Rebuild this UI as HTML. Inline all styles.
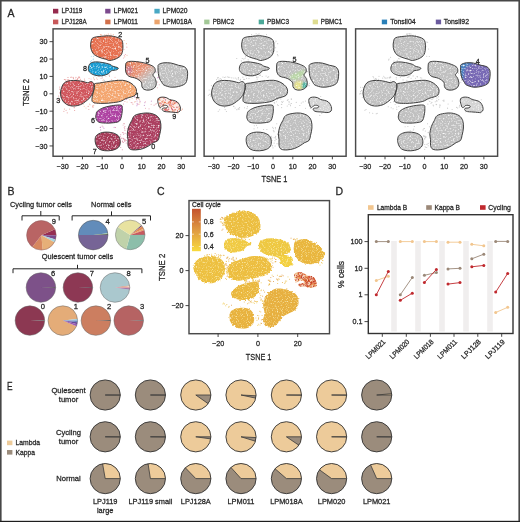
<!DOCTYPE html>
<html><head><meta charset="utf-8"><style>
html,body{margin:0;padding:0;background:#fff;}
svg{display:block;will-change:transform;}
</style></head><body>
<svg width="520" height="522" viewBox="0 0 520 522">
<defs><filter id="fz" x="-5%" y="-5%" width="110%" height="110%"><feGaussianBlur stdDeviation="0.5"/></filter><filter id="spk" x="0" y="0" width="100%" height="100%" color-interpolation-filters="sRGB"><feTurbulence type="fractalNoise" baseFrequency="0.6" numOctaves="2" seed="7" result="n"/><feColorMatrix in="n" type="matrix" values="0 0 0 0 1  0 0 0 0 1  0 0 0 0 1  2.6 0 0 0 -1.3" result="w"/><feComposite in="w" in2="SourceGraphic" operator="in" result="wm"/><feMerge><feMergeNode in="SourceGraphic"/><feMergeNode in="wm"/></feMerge></filter><filter id="cfx" x="-5%" y="-5%" width="110%" height="110%" color-interpolation-filters="sRGB"><feTurbulence type="fractalNoise" baseFrequency="0.5" numOctaves="2" seed="3" result="t"/><feDisplacementMap in="SourceGraphic" in2="t" scale="3" xChannelSelector="R" yChannelSelector="G" result="d"/><feTurbulence type="fractalNoise" baseFrequency="0.8" numOctaves="1" seed="9" result="n"/><feColorMatrix in="n" type="matrix" values="0 0 0 0 1  0 0 0 0 0.97  0 0 0 0 0.8  3 0 0 0 -1.6" result="w"/><feComposite in="w" in2="d" operator="in" result="wm"/><feMerge><feMergeNode in="d"/><feMergeNode in="wm"/></feMerge></filter><filter id="bl1" x="-50%" y="-50%" width="200%" height="200%"><feGaussianBlur stdDeviation="1"/></filter>
<clipPath id="c5a"><path d="M126.6,62.4C127.62,61.62 129.15,61.3 131.7,61.3C134.25,61.3 138.98,61.87 141.9,62.4C144.82,62.93 147.12,63.65 149.2,64.5C151.28,65.35 153.42,66.27 154.4,67.5C155.38,68.73 155.35,70.68 155.1,71.9C154.85,73.12 152.9,73.72 152.9,74.8C152.9,75.88 154.53,76.93 155.1,78.4C155.67,79.87 156.42,82.02 156.3,83.6C156.18,85.18 155.58,86.82 154.4,87.9C153.22,88.98 150.92,89.85 149.2,90.1C147.48,90.35 145.32,90 144.1,89.4C142.88,88.8 142.38,87.72 141.9,86.5C141.42,85.28 142.17,83.45 141.2,82.1C140.23,80.75 138.17,79.38 136.1,78.4C134.03,77.42 130.52,77.28 128.8,76.2C127.08,75.12 126.33,73.6 125.8,71.9C125.27,70.2 125.47,67.58 125.6,66C125.73,64.42 125.58,63.18 126.6,62.4Z"/></clipPath>
<linearGradient id="g5a" gradientUnits="userSpaceOnUse" x1="131" y1="63" x2="149" y2="84"><stop offset="0" stop-color="#e4835f"/><stop offset="0.45" stop-color="#e8957a"/><stop offset="0.8" stop-color="#d8b4a8" stop-opacity="0.3"/><stop offset="1" stop-color="#c6c6c6" stop-opacity="0"/></linearGradient>
<clipPath id="c9a"><path d="M158,98.9C158.33,98.18 158.93,97.8 159.8,97.5C160.67,97.2 162.05,97.05 163.2,97.1C164.35,97.15 165.63,97.4 166.7,97.8C167.77,98.2 168.45,99.07 169.6,99.5C170.75,99.93 172.35,100.02 173.6,100.4C174.85,100.78 176.13,101.08 177.1,101.8C178.07,102.52 178.83,103.63 179.4,104.7C179.97,105.77 180.4,107.15 180.5,108.2C180.6,109.25 180.57,110.28 180,111C179.43,111.72 178.27,112.3 177.1,112.5C175.93,112.7 174.35,112.3 173,112.2C171.65,112.1 170.33,112 169,111.9C167.67,111.8 166.05,111.83 165,111.6C163.95,111.37 163.18,110.95 162.7,110.5C162.22,110.05 161.98,109.3 162.1,108.9C162.22,108.5 162.83,108.25 163.4,108.1C163.97,107.95 164.83,108.13 165.5,108C166.17,107.87 167.07,107.63 167.4,107.3C167.73,106.97 167.82,106.33 167.5,106C167.18,105.67 166.22,105.4 165.5,105.3C164.78,105.2 163.82,105.18 163.2,105.4C162.58,105.62 162.23,106.23 161.8,106.6C161.37,106.97 161,107.52 160.6,107.6C160.2,107.68 159.73,107.58 159.4,107.1C159.07,106.62 158.87,105.58 158.6,104.7C158.33,103.82 157.9,102.77 157.8,101.8C157.7,100.83 157.67,99.62 158,98.9Z"/></clipPath>
<clipPath id="c5b"><path d="M277.65,62.4C278.67,61.62 280.2,61.3 282.75,61.3C285.3,61.3 290.03,61.87 292.95,62.4C295.87,62.93 298.17,63.65 300.25,64.5C302.33,65.35 304.47,66.27 305.45,67.5C306.43,68.73 306.4,70.68 306.15,71.9C305.9,73.12 303.95,73.72 303.95,74.8C303.95,75.88 305.58,76.93 306.15,78.4C306.72,79.87 307.47,82.02 307.35,83.6C307.23,85.18 306.63,86.82 305.45,87.9C304.27,88.98 301.97,89.85 300.25,90.1C298.53,90.35 296.37,90 295.15,89.4C293.93,88.8 293.43,87.72 292.95,86.5C292.47,85.28 293.22,83.45 292.25,82.1C291.28,80.75 289.22,79.38 287.15,78.4C285.08,77.42 281.57,77.28 279.85,76.2C278.13,75.12 277.38,73.6 276.85,71.9C276.32,70.2 276.52,67.58 276.65,66C276.78,64.42 276.63,63.18 277.65,62.4Z"/></clipPath>
<clipPath id="c4c"><path d="M461.25,64.5C462.23,63.72 464.37,63.03 466.45,62.8C468.53,62.57 471.32,62.68 473.75,63.1C476.18,63.52 478.87,64.7 481.05,65.3C483.23,65.9 485.38,65.85 486.85,66.7C488.32,67.55 489.32,68.82 489.85,70.4C490.38,71.98 490.18,74.37 490.05,76.2C489.92,78.03 489.58,80.05 489.05,81.4C488.52,82.75 488.18,83.45 486.85,84.3C485.52,85.15 483.23,86.02 481.05,86.5C478.87,86.98 476.18,87.45 473.75,87.2C471.32,86.95 468.03,85.85 466.45,85C464.87,84.15 464.98,83.2 464.25,82.1C463.52,81 462.62,79.87 462.05,78.4C461.48,76.93 461.1,75.12 460.85,73.3C460.6,71.48 460.48,68.97 460.55,67.5C460.62,66.03 460.27,65.28 461.25,64.5Z"/></clipPath>
<clipPath id="c5c"><path d="M260.4,241C262.22,239.4 266.5,238.43 269.9,238.2C273.3,237.97 277.62,238.68 280.8,239.6C283.98,240.52 287.4,241.65 289,243.7C290.6,245.75 291.08,250.08 290.4,251.9C289.72,253.72 284.67,253.7 284.9,254.6C285.13,255.5 290.57,255.7 291.8,257.3C293.03,258.9 292.98,262.6 292.3,264.2C291.62,265.8 289.38,266.68 287.7,266.9C286.02,267.12 283.57,266.87 282.2,265.5C280.83,264.13 281.08,260.28 279.5,258.7C277.92,257.12 275.43,256.92 272.7,256C269.97,255.08 265.38,254.57 263.1,253.2C260.82,251.83 259.45,249.83 259,247.8C258.55,245.77 258.58,242.6 260.4,241Z"/></clipPath>
<clipPath id="c9c"><path d="M294.3,274.1C294.63,273.38 295.23,273 296.1,272.7C296.97,272.4 298.35,272.25 299.5,272.3C300.65,272.35 301.93,272.6 303,273C304.07,273.4 304.75,274.27 305.9,274.7C307.05,275.13 308.65,275.22 309.9,275.6C311.15,275.98 312.43,276.28 313.4,277C314.37,277.72 315.13,278.83 315.7,279.9C316.27,280.97 316.7,282.35 316.8,283.4C316.9,284.45 316.87,285.48 316.3,286.2C315.73,286.92 314.57,287.5 313.4,287.7C312.23,287.9 310.65,287.5 309.3,287.4C307.95,287.3 306.63,287.2 305.3,287.1C303.97,287 302.35,287.03 301.3,286.8C300.25,286.57 299.48,286.15 299,285.7C298.52,285.25 298.28,284.5 298.4,284.1C298.52,283.7 299.13,283.45 299.7,283.3C300.27,283.15 301.13,283.33 301.8,283.2C302.47,283.07 303.37,282.83 303.7,282.5C304.03,282.17 304.12,281.53 303.8,281.2C303.48,280.87 302.52,280.6 301.8,280.5C301.08,280.4 300.12,280.38 299.5,280.6C298.88,280.82 298.53,281.43 298.1,281.8C297.67,282.17 297.3,282.72 296.9,282.8C296.5,282.88 296.03,282.78 295.7,282.3C295.37,281.82 295.17,280.78 294.9,279.9C294.63,279.02 294.2,277.97 294.1,277C294,276.03 293.97,274.82 294.3,274.1Z"/></clipPath>
<linearGradient id="cb" x1="0" y1="0" x2="0" y2="1"><stop offset="0" stop-color="#c4532e"/><stop offset="0.5" stop-color="#df9a43"/><stop offset="1" stop-color="#f8da3c"/></linearGradient>
</defs>
<rect x="0" y="0" width="520" height="522" fill="#fff"/>
<text x="7.5" y="16.5" font-size="10.5" font-family="Liberation Sans, sans-serif" fill="#262626" stroke="#262626" stroke-width="0.26">A</text>
<rect x="53" y="8.8" width="5.3" height="4.7" fill="#962a4e"/>
<text x="61.5" y="13.15" font-size="7" textLength="20.8" lengthAdjust="spacingAndGlyphs" font-family="Liberation Sans, sans-serif" fill="#262626" stroke="#262626" stroke-width="0.26">LPJ119</text>
<rect x="53" y="19.6" width="5.3" height="4.7" fill="#c8585a"/>
<text x="61.5" y="23.95" font-size="7" textLength="25.1" lengthAdjust="spacingAndGlyphs" font-family="Liberation Sans, sans-serif" fill="#262626" stroke="#262626" stroke-width="0.26">LPJ128A</text>
<rect x="105.2" y="8.8" width="5.3" height="4.7" fill="#7c4a8e"/>
<text x="113.8" y="13.15" font-size="7" textLength="24.2" lengthAdjust="spacingAndGlyphs" font-family="Liberation Sans, sans-serif" fill="#262626" stroke="#262626" stroke-width="0.26">LPM021</text>
<rect x="105.2" y="19.6" width="5.3" height="4.7" fill="#d2704a"/>
<text x="113.8" y="23.95" font-size="7" textLength="24.2" lengthAdjust="spacingAndGlyphs" font-family="Liberation Sans, sans-serif" fill="#262626" stroke="#262626" stroke-width="0.26">LPM011</text>
<rect x="154.4" y="8.8" width="5.3" height="4.7" fill="#48a8c4"/>
<text x="162.5" y="13.15" font-size="7" textLength="25" lengthAdjust="spacingAndGlyphs" font-family="Liberation Sans, sans-serif" fill="#262626" stroke="#262626" stroke-width="0.26">LPM020</text>
<rect x="154.4" y="19.6" width="5.3" height="4.7" fill="#eca46c"/>
<text x="162.5" y="23.95" font-size="7" textLength="29.5" lengthAdjust="spacingAndGlyphs" font-family="Liberation Sans, sans-serif" fill="#262626" stroke="#262626" stroke-width="0.26">LPM018A</text>
<rect x="204.2" y="19.6" width="5.3" height="4.7" fill="#a2c896"/>
<text x="212.7" y="23.95" font-size="7" textLength="21.5" lengthAdjust="spacingAndGlyphs" font-family="Liberation Sans, sans-serif" fill="#262626" stroke="#262626" stroke-width="0.26">PBMC2</text>
<rect x="258.7" y="19.6" width="5.3" height="4.7" fill="#4aa898"/>
<text x="267" y="23.95" font-size="7" textLength="22" lengthAdjust="spacingAndGlyphs" font-family="Liberation Sans, sans-serif" fill="#262626" stroke="#262626" stroke-width="0.26">PBMC3</text>
<rect x="312.7" y="19.6" width="5.3" height="4.7" fill="#dedc90"/>
<text x="320.8" y="23.95" font-size="7" textLength="21.5" lengthAdjust="spacingAndGlyphs" font-family="Liberation Sans, sans-serif" fill="#262626" stroke="#262626" stroke-width="0.26">PBMC1</text>
<rect x="381.8" y="19.6" width="5.3" height="4.7" fill="#2a80b8"/>
<text x="390.2" y="23.95" font-size="7" textLength="25.4" lengthAdjust="spacingAndGlyphs" font-family="Liberation Sans, sans-serif" fill="#262626" stroke="#262626" stroke-width="0.26">Tonsil04</text>
<rect x="435.8" y="19.6" width="5.3" height="4.7" fill="#6a5a9e"/>
<text x="443.8" y="23.95" font-size="7" textLength="25.2" lengthAdjust="spacingAndGlyphs" font-family="Liberation Sans, sans-serif" fill="#262626" stroke="#262626" stroke-width="0.26">Tonsil92</text>
<g opacity="0.75">
<circle cx="67.99" cy="79.66" r="0.55" fill="#d96a6a"/>
<circle cx="65.64" cy="79.83" r="0.55" fill="#e07f7f"/>
<circle cx="82" cy="80.97" r="0.55" fill="#f0a0a0"/>
<circle cx="73.44" cy="78.15" r="0.55" fill="#d96a6a"/>
<circle cx="76.61" cy="79.85" r="0.55" fill="#f0a0a0"/>
<circle cx="70.83" cy="77.27" r="0.55" fill="#d96a6a"/>
<circle cx="89.04" cy="78.47" r="0.55" fill="#f0a0a0"/>
<circle cx="71.51" cy="77.08" r="0.55" fill="#f0a0a0"/>
<circle cx="80.44" cy="79.22" r="0.55" fill="#e07f7f"/>
<circle cx="67.99" cy="77.45" r="0.55" fill="#d96a6a"/>
<circle cx="66.04" cy="80.01" r="0.55" fill="#f0a0a0"/>
<circle cx="78.78" cy="80.62" r="0.55" fill="#e07f7f"/>
<circle cx="73.05" cy="77.27" r="0.55" fill="#d96a6a"/>
<circle cx="69.34" cy="80.23" r="0.55" fill="#e07f7f"/>
<circle cx="75.94" cy="77.37" r="0.55" fill="#e07f7f"/>
<circle cx="75.59" cy="78.96" r="0.55" fill="#f0a0a0"/>
<circle cx="78.91" cy="77.11" r="0.55" fill="#d96a6a"/>
<circle cx="67.64" cy="80.92" r="0.55" fill="#f0a0a0"/>
<circle cx="84.41" cy="79" r="0.55" fill="#e07f7f"/>
<circle cx="64.38" cy="79.56" r="0.55" fill="#d96a6a"/>
<circle cx="68.77" cy="80.09" r="0.55" fill="#e07f7f"/>
<circle cx="79.3" cy="77.47" r="0.55" fill="#e07f7f"/>
<circle cx="77.35" cy="79.34" r="0.55" fill="#d96a6a"/>
<circle cx="78.24" cy="77.97" r="0.55" fill="#e07f7f"/>
<circle cx="77.61" cy="78.7" r="0.55" fill="#d96a6a"/>
<circle cx="79.72" cy="77.79" r="0.55" fill="#f0a0a0"/>
<circle cx="81.77" cy="80.98" r="0.55" fill="#f0a0a0"/>
<circle cx="79.11" cy="77.07" r="0.55" fill="#d96a6a"/>
<circle cx="84.75" cy="80.3" r="0.55" fill="#e07f7f"/>
<circle cx="91.02" cy="79.01" r="0.55" fill="#f0a0a0"/>
<circle cx="58.22" cy="99.98" r="0.55" fill="#e07f7f"/>
<circle cx="59.96" cy="100.29" r="0.55" fill="#e07f7f"/>
<circle cx="59.92" cy="92.9" r="0.55" fill="#d96a6a"/>
<circle cx="58.89" cy="99.9" r="0.55" fill="#d96a6a"/>
<circle cx="59.75" cy="87.1" r="0.55" fill="#e07f7f"/>
<circle cx="60.61" cy="95.69" r="0.55" fill="#e07f7f"/>
<circle cx="60.51" cy="92.53" r="0.55" fill="#d96a6a"/>
<circle cx="60.34" cy="96.94" r="0.55" fill="#e07f7f"/>
<circle cx="59.71" cy="89.14" r="0.55" fill="#e07f7f"/>
<circle cx="58.55" cy="95.99" r="0.55" fill="#e07f7f"/>
<circle cx="89.51" cy="104.03" r="0.55" fill="#f0b090"/>
<circle cx="93.3" cy="105.19" r="0.55" fill="#e8a0a0"/>
<circle cx="94.59" cy="103.38" r="0.55" fill="#e8a0a0"/>
<circle cx="92.53" cy="106.48" r="0.55" fill="#f0b090"/>
<circle cx="93.8" cy="105.43" r="0.55" fill="#f0b090"/>
<circle cx="85.97" cy="108.04" r="0.55" fill="#f0b090"/>
<circle cx="84.24" cy="106.2" r="0.55" fill="#f0b090"/>
<circle cx="92.82" cy="105.75" r="0.55" fill="#e8a0a0"/>
<circle cx="83.12" cy="104.32" r="0.55" fill="#f0b090"/>
<circle cx="93.29" cy="107.04" r="0.55" fill="#e07f7f"/>
<circle cx="89.99" cy="104.69" r="0.55" fill="#e8a0a0"/>
<circle cx="88.15" cy="106.41" r="0.55" fill="#e07f7f"/>
<circle cx="88.84" cy="109.57" r="0.55" fill="#e07f7f"/>
<circle cx="92.49" cy="107.02" r="0.55" fill="#e8a0a0"/>
<circle cx="140.04" cy="101.41" r="0.55" fill="#c070c0"/>
<circle cx="123.88" cy="98.91" r="0.55" fill="#f0b080"/>
<circle cx="139.08" cy="99.31" r="0.55" fill="#d080a0"/>
<circle cx="139.91" cy="102.64" r="0.55" fill="#f0b080"/>
<circle cx="137.09" cy="103.37" r="0.55" fill="#c070c0"/>
<circle cx="134.74" cy="101.99" r="0.55" fill="#e89090"/>
<circle cx="131.23" cy="96.33" r="0.55" fill="#c070c0"/>
<circle cx="134.57" cy="96.47" r="0.55" fill="#e89090"/>
<circle cx="137.92" cy="104.1" r="0.55" fill="#d080a0"/>
<circle cx="136.45" cy="99.19" r="0.55" fill="#d080a0"/>
<circle cx="136.95" cy="98.57" r="0.55" fill="#f0b080"/>
<circle cx="131.19" cy="102.46" r="0.55" fill="#d080a0"/>
<circle cx="139" cy="104.32" r="0.55" fill="#e89090"/>
<circle cx="138.21" cy="98.49" r="0.55" fill="#f0b080"/>
<circle cx="139.63" cy="99.99" r="0.55" fill="#f0b080"/>
<circle cx="123.48" cy="104.01" r="0.55" fill="#d080a0"/>
<circle cx="124.88" cy="101.5" r="0.55" fill="#e89090"/>
<circle cx="126.42" cy="99.53" r="0.55" fill="#c070c0"/>
<circle cx="135.24" cy="101.47" r="0.55" fill="#f0b080"/>
<circle cx="131.96" cy="102.64" r="0.55" fill="#e89090"/>
<circle cx="136.86" cy="105.68" r="0.55" fill="#c070c0"/>
<circle cx="132.14" cy="98.49" r="0.55" fill="#f0b080"/>
<circle cx="127.09" cy="102.03" r="0.55" fill="#f0b080"/>
<circle cx="129.75" cy="99.69" r="0.55" fill="#f0b080"/>
<circle cx="134.88" cy="97.08" r="0.55" fill="#c070c0"/>
<circle cx="136.53" cy="99.46" r="0.55" fill="#e89090"/>
<circle cx="132.91" cy="104.13" r="0.55" fill="#e89090"/>
<circle cx="136.79" cy="97.28" r="0.55" fill="#d080a0"/>
<circle cx="137" cy="101.02" r="0.55" fill="#c070c0"/>
<circle cx="137.21" cy="104.68" r="0.55" fill="#c070c0"/>
<circle cx="109.52" cy="76.38" r="0.55" fill="#f0b090"/>
<circle cx="96.58" cy="78.06" r="0.55" fill="#f0b090"/>
<circle cx="101.08" cy="78.24" r="0.55" fill="#f0a0a0"/>
<circle cx="102.94" cy="80.3" r="0.55" fill="#f0b090"/>
<circle cx="102.09" cy="75.81" r="0.55" fill="#90c8e8"/>
<circle cx="98.34" cy="76.18" r="0.55" fill="#f0b090"/>
<circle cx="111.65" cy="79.53" r="0.55" fill="#f0a0a0"/>
<circle cx="105.93" cy="76.46" r="0.55" fill="#f0a0a0"/>
<circle cx="109.32" cy="75.15" r="0.55" fill="#f0a0a0"/>
<circle cx="93.76" cy="78.79" r="0.55" fill="#f0b090"/>
<circle cx="99.19" cy="76.6" r="0.55" fill="#f0a0a0"/>
<circle cx="102.32" cy="76.77" r="0.55" fill="#90c8e8"/>
<circle cx="104.52" cy="80.53" r="0.55" fill="#90c8e8"/>
<circle cx="102.22" cy="77.88" r="0.55" fill="#f0a0a0"/>
<circle cx="103.77" cy="79.75" r="0.55" fill="#f0b090"/>
<circle cx="115.02" cy="77.3" r="0.55" fill="#f0a0a0"/>
<circle cx="94.53" cy="79.66" r="0.55" fill="#f0a0a0"/>
<circle cx="117.36" cy="79.51" r="0.55" fill="#f0b090"/>
<circle cx="97.32" cy="79.3" r="0.55" fill="#f0a0a0"/>
<circle cx="94.92" cy="75.97" r="0.55" fill="#90c8e8"/>
<circle cx="93.48" cy="77.25" r="0.55" fill="#f0b090"/>
<circle cx="109.22" cy="75.21" r="0.55" fill="#90c8e8"/>
<circle cx="90.42" cy="61.64" r="0.55" fill="#80c8e8"/>
<circle cx="93.41" cy="56.33" r="0.55" fill="#80c8e8"/>
<circle cx="97.17" cy="61.77" r="0.55" fill="#80c8e8"/>
<circle cx="102.25" cy="58.69" r="0.55" fill="#a0d8f0"/>
<circle cx="94.37" cy="61.54" r="0.55" fill="#80c8e8"/>
<circle cx="93.33" cy="59.7" r="0.55" fill="#a0d8f0"/>
<circle cx="91.45" cy="60.63" r="0.55" fill="#a0d8f0"/>
<circle cx="93.32" cy="59.04" r="0.55" fill="#80c8e8"/>
<circle cx="93.31" cy="59.24" r="0.55" fill="#a0d8f0"/>
<circle cx="91.29" cy="56.35" r="0.55" fill="#a0d8f0"/>
<circle cx="111.42" cy="35.87" r="0.55" fill="#e88060"/>
<circle cx="113.29" cy="34.65" r="0.55" fill="#f0a080"/>
<circle cx="108.26" cy="34.01" r="0.55" fill="#e88060"/>
<circle cx="110.93" cy="34.02" r="0.55" fill="#f0a080"/>
<circle cx="100.73" cy="34.8" r="0.55" fill="#e88060"/>
<circle cx="106.13" cy="35.86" r="0.55" fill="#f0a080"/>
<circle cx="106.99" cy="35.53" r="0.55" fill="#e88060"/>
<circle cx="104.78" cy="34.7" r="0.55" fill="#f0a080"/>
<circle cx="101.78" cy="34.98" r="0.55" fill="#f0a080"/>
<circle cx="106.37" cy="34.93" r="0.55" fill="#e88060"/>
<circle cx="100.34" cy="34.59" r="0.55" fill="#f0a080"/>
<circle cx="101.36" cy="35.07" r="0.55" fill="#f0a080"/>
<circle cx="126.84" cy="47.15" r="0.55" fill="#e890a0"/>
<circle cx="124.75" cy="56.83" r="0.55" fill="#f0a080"/>
<circle cx="123.48" cy="58.02" r="0.55" fill="#e890a0"/>
<circle cx="124.02" cy="49.48" r="0.55" fill="#e890a0"/>
<circle cx="122.87" cy="43.51" r="0.55" fill="#f0a080"/>
<circle cx="124.12" cy="40.56" r="0.55" fill="#f0a080"/>
<circle cx="125.49" cy="54.48" r="0.55" fill="#e890a0"/>
<circle cx="124.22" cy="55.36" r="0.55" fill="#e890a0"/>
<circle cx="127.03" cy="55.24" r="0.55" fill="#f0a080"/>
<circle cx="126.42" cy="43.67" r="0.55" fill="#f0a080"/>
<circle cx="156.15" cy="71.95" r="0.55" fill="#c070c0"/>
<circle cx="155.63" cy="84.07" r="0.55" fill="#c070c0"/>
<circle cx="154.29" cy="78.01" r="0.55" fill="#c070c0"/>
<circle cx="154.28" cy="78.46" r="0.55" fill="#c070c0"/>
<circle cx="157.28" cy="87.7" r="0.55" fill="#e090a0"/>
<circle cx="158.38" cy="77.1" r="0.55" fill="#e090a0"/>
<circle cx="158.02" cy="77.48" r="0.55" fill="#c070c0"/>
<circle cx="157.84" cy="77.86" r="0.55" fill="#c070c0"/>
<circle cx="157.6" cy="81.98" r="0.55" fill="#e090a0"/>
<circle cx="159.24" cy="84.7" r="0.55" fill="#e090a0"/>
<circle cx="154.57" cy="77.97" r="0.55" fill="#c070c0"/>
<circle cx="154.97" cy="84.27" r="0.55" fill="#c070c0"/>
<circle cx="126.49" cy="140.57" r="0.55" fill="#e090a0"/>
<circle cx="127.34" cy="128.24" r="0.55" fill="#d07090"/>
<circle cx="123.11" cy="125.06" r="0.55" fill="#e090a0"/>
<circle cx="120.69" cy="134.81" r="0.55" fill="#d07090"/>
<circle cx="124.91" cy="126.47" r="0.55" fill="#d07090"/>
<circle cx="126.89" cy="137.25" r="0.55" fill="#e090a0"/>
<circle cx="125.04" cy="139.45" r="0.55" fill="#d07090"/>
<circle cx="124.74" cy="139.57" r="0.55" fill="#e090a0"/>
<circle cx="125.11" cy="133.22" r="0.55" fill="#d07090"/>
<circle cx="126.19" cy="143.02" r="0.55" fill="#d07090"/>
<circle cx="124.21" cy="127.6" r="0.55" fill="#e090a0"/>
<circle cx="121.87" cy="138.45" r="0.55" fill="#d07090"/>
<circle cx="123.63" cy="134.11" r="0.55" fill="#d07090"/>
<circle cx="124.95" cy="130.41" r="0.55" fill="#e090a0"/>
<circle cx="122.45" cy="141.11" r="0.55" fill="#d07090"/>
<circle cx="123.03" cy="132.55" r="0.55" fill="#d07090"/>
<circle cx="123.48" cy="138.39" r="0.55" fill="#e090a0"/>
<circle cx="122.42" cy="132.59" r="0.55" fill="#e090a0"/>
<circle cx="124.69" cy="128.78" r="0.55" fill="#d07090"/>
<circle cx="123.88" cy="123.54" r="0.55" fill="#e090a0"/>
<circle cx="125.54" cy="140.55" r="0.55" fill="#e090a0"/>
<circle cx="124.38" cy="123.69" r="0.55" fill="#e090a0"/>
<circle cx="124.46" cy="140.38" r="0.55" fill="#e090a0"/>
<circle cx="123.59" cy="138.91" r="0.55" fill="#e090a0"/>
<circle cx="124.85" cy="141.55" r="0.55" fill="#d07090"/>
<circle cx="122.33" cy="149.73" r="0.55" fill="#d07090"/>
<circle cx="120.72" cy="147.53" r="0.55" fill="#d07090"/>
<circle cx="120.17" cy="140.97" r="0.55" fill="#d07090"/>
<circle cx="120.43" cy="136.78" r="0.55" fill="#d07090"/>
<circle cx="122.45" cy="141.85" r="0.55" fill="#d07090"/>
<circle cx="121.89" cy="137.96" r="0.55" fill="#d07090"/>
<circle cx="119.38" cy="141.79" r="0.55" fill="#d07090"/>
<circle cx="123.52" cy="142.28" r="0.55" fill="#d07090"/>
<circle cx="123.85" cy="138.68" r="0.55" fill="#d07090"/>
<circle cx="115.38" cy="127.54" r="0.55" fill="#d07090"/>
<circle cx="102.18" cy="125.94" r="0.55" fill="#d07090"/>
<circle cx="100.22" cy="127.25" r="0.55" fill="#d07090"/>
<circle cx="100.68" cy="129.9" r="0.55" fill="#c070c0"/>
<circle cx="103.95" cy="128.22" r="0.55" fill="#c070c0"/>
<circle cx="100.54" cy="127.4" r="0.55" fill="#c070c0"/>
<circle cx="114.11" cy="127.34" r="0.55" fill="#c070c0"/>
<circle cx="103.06" cy="126.95" r="0.55" fill="#c070c0"/>
<circle cx="163.29" cy="106.55" r="0.55" fill="#e07050"/>
<circle cx="164.19" cy="98.6" r="0.55" fill="#f0a080"/>
<circle cx="176.41" cy="106.44" r="0.55" fill="#f0a080"/>
<circle cx="164.43" cy="101.26" r="0.55" fill="#e07050"/>
<circle cx="176.9" cy="107.83" r="0.55" fill="#e07050"/>
<circle cx="182.29" cy="109.08" r="0.55" fill="#e07050"/>
<circle cx="181.07" cy="110.24" r="0.55" fill="#e07050"/>
<circle cx="168.74" cy="101.08" r="0.55" fill="#f0a080"/>
<circle cx="173.91" cy="106.88" r="0.55" fill="#e07050"/>
<circle cx="177.85" cy="113.72" r="0.55" fill="#f0a080"/>
<circle cx="166.49" cy="103.94" r="0.55" fill="#e07050"/>
<circle cx="164.36" cy="107.24" r="0.55" fill="#f0a080"/>
<circle cx="166.82" cy="109.08" r="0.55" fill="#e07050"/>
<circle cx="160.05" cy="108.87" r="0.55" fill="#e07050"/>
<circle cx="144.85" cy="102.63" r="0.55" fill="#c080c0"/>
<circle cx="145.47" cy="108.25" r="0.55" fill="#e090a0"/>
<circle cx="156.55" cy="103.74" r="0.55" fill="#e090a0"/>
<circle cx="144.37" cy="105.42" r="0.55" fill="#c080c0"/>
<circle cx="151.35" cy="101.14" r="0.55" fill="#c080c0"/>
<circle cx="149.03" cy="108.86" r="0.55" fill="#e090a0"/>
<circle cx="145.35" cy="101.78" r="0.55" fill="#e090a0"/>
<circle cx="155.41" cy="103.95" r="0.55" fill="#e090a0"/>
<circle cx="151.15" cy="104.31" r="0.55" fill="#e090a0"/>
<circle cx="154.07" cy="105.15" r="0.55" fill="#e090a0"/>
<circle cx="69.71" cy="109.1" r="0.55" fill="#e08080"/>
<circle cx="74.64" cy="110.52" r="0.55" fill="#e08080"/>
<circle cx="64.45" cy="109.01" r="0.55" fill="#e08080"/>
<circle cx="66.08" cy="110.24" r="0.55" fill="#e08080"/>
<circle cx="67.21" cy="112.87" r="0.55" fill="#e08080"/>
<circle cx="74.16" cy="107.47" r="0.55" fill="#e08080"/>
<circle cx="63.88" cy="111.18" r="0.55" fill="#e08080"/>
<circle cx="74.23" cy="107.74" r="0.55" fill="#e08080"/>
</g>
<g filter="url(#spk)">
<path d="M93.2,37.7C94.93,36.88 98.5,36.58 101.5,36.3C104.5,36.02 107.97,35.53 111.2,36C114.43,36.47 118.95,37.43 120.9,39.1C122.85,40.77 122.78,43.47 122.9,46C123.02,48.53 122.63,52.22 121.6,54.3C120.57,56.38 118.67,57.47 116.7,58.5C114.73,59.53 111.65,60.38 109.8,60.5C107.95,60.62 107.45,59.77 105.6,59.2C103.75,58.63 100.77,58.03 98.7,57.1C96.63,56.17 94.53,55.22 93.2,53.6C91.87,51.98 91.05,49.47 90.7,47.4C90.35,45.33 90.68,42.82 91.1,41.2C91.52,39.58 91.47,38.52 93.2,37.7Z" fill="#e67050"/>
<path d="M90.4,63.3C91.67,62.25 93.82,62.02 95.9,61.9C97.98,61.78 100.58,62.2 102.9,62.6C105.22,63 108.18,63.72 109.8,64.3C111.42,64.88 111.22,65.5 112.6,66.1C113.98,66.7 117.42,67.28 118.1,67.9C118.78,68.52 117.85,69.3 116.7,69.8C115.55,70.3 112.58,70.25 111.2,70.9C109.82,71.55 110.02,72.88 108.4,73.7C106.78,74.52 103.8,75.57 101.5,75.8C99.2,76.03 96.57,75.68 94.6,75.1C92.63,74.52 90.75,73.45 89.7,72.3C88.65,71.15 88.18,69.7 88.3,68.2C88.42,66.7 89.13,64.35 90.4,63.3Z" fill="#1a9cd2"/>
<path d="M126.6,62.4C127.62,61.62 129.15,61.3 131.7,61.3C134.25,61.3 138.98,61.87 141.9,62.4C144.82,62.93 147.12,63.65 149.2,64.5C151.28,65.35 153.42,66.27 154.4,67.5C155.38,68.73 155.35,70.68 155.1,71.9C154.85,73.12 152.9,73.72 152.9,74.8C152.9,75.88 154.53,76.93 155.1,78.4C155.67,79.87 156.42,82.02 156.3,83.6C156.18,85.18 155.58,86.82 154.4,87.9C153.22,88.98 150.92,89.85 149.2,90.1C147.48,90.35 145.32,90 144.1,89.4C142.88,88.8 142.38,87.72 141.9,86.5C141.42,85.28 142.17,83.45 141.2,82.1C140.23,80.75 138.17,79.38 136.1,78.4C134.03,77.42 130.52,77.28 128.8,76.2C127.08,75.12 126.33,73.6 125.8,71.9C125.27,70.2 125.47,67.58 125.6,66C125.73,64.42 125.58,63.18 126.6,62.4Z" fill="#c0c0c0"/>
<g clip-path="url(#c5a)"><rect x="120" y="55" width="40" height="40" fill="url(#g5a)"/><ellipse cx="129" cy="70" rx="3" ry="4.5" fill="#b870a8" opacity="0.55" filter="url(#bl1)"/></g>
<path d="M158.7,64.5C159.68,63.72 161.82,63.03 163.9,62.8C165.98,62.57 168.77,62.68 171.2,63.1C173.63,63.52 176.32,64.7 178.5,65.3C180.68,65.9 182.83,65.85 184.3,66.7C185.77,67.55 186.77,68.82 187.3,70.4C187.83,71.98 187.63,74.37 187.5,76.2C187.37,78.03 187.03,80.05 186.5,81.4C185.97,82.75 185.63,83.45 184.3,84.3C182.97,85.15 180.68,86.02 178.5,86.5C176.32,86.98 173.63,87.45 171.2,87.2C168.77,86.95 165.48,85.85 163.9,85C162.32,84.15 162.43,83.2 161.7,82.1C160.97,81 160.07,79.87 159.5,78.4C158.93,76.93 158.55,75.12 158.3,73.3C158.05,71.48 157.93,68.97 158,67.5C158.07,66.03 157.72,65.28 158.7,64.5Z" fill="#c0c0c0"/>
<path d="M64.5,82.7C65.93,81.58 68.18,80.95 70.3,80.6C72.42,80.25 75.08,80.45 77.2,80.6C79.32,80.75 81.27,81.15 83,81.5C84.73,81.85 86.25,82.7 87.6,82.7C88.95,82.7 90.03,81.32 91.1,81.5C92.17,81.68 93.43,82.83 94,83.8C94.57,84.77 94.7,85.75 94.5,87.3C94.3,88.85 93.57,91.37 92.8,93.1C92.03,94.83 91.15,96.27 89.9,97.7C88.65,99.13 86.83,100.55 85.3,101.7C83.77,102.85 82.43,103.88 80.7,104.6C78.97,105.32 76.82,105.85 74.9,106C72.98,106.15 70.93,106.02 69.2,105.5C67.47,104.98 65.75,104.02 64.5,102.9C63.25,101.78 62.37,100.43 61.7,98.8C61.03,97.17 60.5,95.02 60.5,93.1C60.5,91.18 61.03,89.03 61.7,87.3C62.37,85.57 63.07,83.82 64.5,82.7Z" fill="#d0565c"/>
<path d="M94.3,84.1C95.25,83.05 97.47,83.38 99.5,83C101.53,82.62 104,82.18 106.5,81.8C109,81.42 111.82,80.95 114.5,80.7C117.18,80.45 120.28,80.12 122.6,80.3C124.92,80.48 126.67,81.07 128.4,81.8C130.13,82.53 131.75,83.63 133,84.7C134.25,85.77 135.32,87.05 135.9,88.2C136.48,89.35 136.6,90.45 136.5,91.6C136.4,92.75 136.08,94.23 135.3,95.1C134.52,95.97 133.33,96.23 131.8,96.8C130.27,97.37 128.02,97.73 126.1,98.5C124.18,99.27 122.8,100.67 120.3,101.4C117.8,102.13 113.98,102.57 111.1,102.9C108.22,103.23 105.7,103.4 103,103.4C100.3,103.4 96.73,103.33 94.9,102.9C93.07,102.47 92.38,102.1 92,100.8C91.62,99.5 92.3,97.02 92.6,95.1C92.9,93.18 93.52,91.13 93.8,89.3C94.08,87.47 93.35,85.15 94.3,84.1Z" fill="#f4a670"/>
<path d="M97.3,111.3C98.42,110.27 100.58,108.82 102.9,107.9C105.22,106.98 108.2,106.27 111.2,105.8C114.2,105.33 119.05,104.65 120.9,105.1C122.75,105.55 122.18,106.77 122.3,108.5C122.42,110.23 122.07,113.42 121.6,115.5C121.13,117.58 120.78,119.8 119.5,121C118.22,122.2 116.22,122.35 113.9,122.7C111.58,123.05 108.13,123.2 105.6,123.1C103.07,123 100.32,122.92 98.7,122.1C97.08,121.28 96.32,119.53 95.9,118.2C95.48,116.87 95.97,115.25 96.2,114.1C96.43,112.95 96.18,112.33 97.3,111.3Z" fill="#ae42a2"/>
<path d="M95.9,136.2C96.72,134.77 98.48,133.88 100.1,133.2C101.72,132.52 103.52,132.17 105.6,132.1C107.68,132.03 110.52,132.22 112.6,132.8C114.68,133.38 116.83,134.33 118.1,135.6C119.37,136.87 119.97,138.68 120.2,140.4C120.43,142.12 120.32,144.4 119.5,145.9C118.68,147.4 117.15,148.58 115.3,149.4C113.45,150.22 110.7,150.68 108.4,150.8C106.1,150.92 103.35,150.68 101.5,150.1C99.65,149.52 98.35,148.68 97.3,147.3C96.25,145.92 95.43,143.65 95.2,141.8C94.97,139.95 95.08,137.63 95.9,136.2Z" fill="#a63a58"/>
<path d="M134.6,115.6C136.3,114.38 139.47,113.82 141.9,113.4C144.33,112.98 146.77,112.73 149.2,113.1C151.63,113.47 154.67,114.33 156.5,115.6C158.33,116.87 159.47,118.63 160.2,120.7C160.93,122.77 161.02,125.57 160.9,128C160.78,130.43 159.98,133.23 159.5,135.3C159.02,137.37 158.98,139.18 158,140.4C157.02,141.62 155.07,141.73 153.6,142.6C152.13,143.47 150.9,144.62 149.2,145.6C147.5,146.58 145.58,147.78 143.4,148.5C141.22,149.22 138.3,149.78 136.1,149.9C133.9,150.02 131.55,149.92 130.2,149.2C128.85,148.48 128.37,147.18 128,145.6C127.63,144.02 128.12,141.65 128,139.7C127.88,137.75 127.17,136.1 127.3,133.9C127.43,131.7 128.07,128.7 128.8,126.5C129.53,124.3 130.73,122.52 131.7,120.7C132.67,118.88 132.9,116.82 134.6,115.6Z" fill="#ac3f60"/>
<path d="M158,98.9C158.33,98.18 158.93,97.8 159.8,97.5C160.67,97.2 162.05,97.05 163.2,97.1C164.35,97.15 165.63,97.4 166.7,97.8C167.77,98.2 168.45,99.07 169.6,99.5C170.75,99.93 172.35,100.02 173.6,100.4C174.85,100.78 176.13,101.08 177.1,101.8C178.07,102.52 178.83,103.63 179.4,104.7C179.97,105.77 180.4,107.15 180.5,108.2C180.6,109.25 180.57,110.28 180,111C179.43,111.72 178.27,112.3 177.1,112.5C175.93,112.7 174.35,112.3 173,112.2C171.65,112.1 170.33,112 169,111.9C167.67,111.8 166.05,111.83 165,111.6C163.95,111.37 163.18,110.95 162.7,110.5C162.22,110.05 161.98,109.3 162.1,108.9C162.22,108.5 162.83,108.25 163.4,108.1C163.97,107.95 164.83,108.13 165.5,108C166.17,107.87 167.07,107.63 167.4,107.3C167.73,106.97 167.82,106.33 167.5,106C167.18,105.67 166.22,105.4 165.5,105.3C164.78,105.2 163.82,105.18 163.2,105.4C162.58,105.62 162.23,106.23 161.8,106.6C161.37,106.97 161,107.52 160.6,107.6C160.2,107.68 159.73,107.58 159.4,107.1C159.07,106.62 158.87,105.58 158.6,104.7C158.33,103.82 157.9,102.77 157.8,101.8C157.7,100.83 157.67,99.62 158,98.9Z" fill="#fbe9e2"/>
<g clip-path="url(#c9a)"><circle cx="172.14" cy="108.74" r="0.6" fill="#c85a8a"/><circle cx="179.65" cy="108.71" r="0.6" fill="#e86a48"/><circle cx="158.18" cy="104.18" r="0.6" fill="#ee7a50"/><circle cx="172.75" cy="111.36" r="0.6" fill="#e25a3c"/><circle cx="166.24" cy="110.83" r="0.6" fill="#f2a078"/><circle cx="170.28" cy="105.97" r="0.6" fill="#e25a3c"/><circle cx="174.68" cy="103.23" r="0.6" fill="#ee7a50"/><circle cx="179.03" cy="109.13" r="0.6" fill="#ee7a50"/><circle cx="175.41" cy="97.69" r="0.6" fill="#e86a48"/><circle cx="172.01" cy="98.59" r="0.6" fill="#e25a3c"/><circle cx="180.35" cy="96.59" r="0.6" fill="#ee7a50"/><circle cx="180.06" cy="99.24" r="0.6" fill="#ee7a50"/><circle cx="164.3" cy="112.36" r="0.6" fill="#e86a48"/><circle cx="178.09" cy="106.82" r="0.6" fill="#ee7a50"/><circle cx="179.61" cy="107.9" r="0.6" fill="#f2a078"/><circle cx="164.52" cy="102.46" r="0.6" fill="#ee7a50"/><circle cx="179.49" cy="100.85" r="0.6" fill="#d8463c"/><circle cx="164.58" cy="106.45" r="0.6" fill="#e25a3c"/><circle cx="171.51" cy="108.18" r="0.6" fill="#e25a3c"/><circle cx="164.78" cy="110.01" r="0.6" fill="#f2a078"/><circle cx="173.87" cy="99.55" r="0.6" fill="#f2a078"/><circle cx="174.06" cy="97.44" r="0.6" fill="#e25a3c"/><circle cx="179.81" cy="102.4" r="0.6" fill="#f2a078"/><circle cx="157.92" cy="109.5" r="0.6" fill="#d8463c"/><circle cx="166.34" cy="110.38" r="0.6" fill="#f2a078"/><circle cx="158.6" cy="99.49" r="0.6" fill="#ee7a50"/><circle cx="160.3" cy="100.56" r="0.6" fill="#f2a078"/><circle cx="165.59" cy="102.35" r="0.6" fill="#e86a48"/><circle cx="163.4" cy="104.14" r="0.6" fill="#e86a48"/><circle cx="175.09" cy="109.65" r="0.6" fill="#d8463c"/><circle cx="158.36" cy="112.11" r="0.6" fill="#e25a3c"/><circle cx="162.4" cy="104.96" r="0.6" fill="#d8463c"/><circle cx="179.08" cy="102.11" r="0.6" fill="#c85a8a"/><circle cx="170.31" cy="101.66" r="0.6" fill="#d8463c"/><circle cx="164.7" cy="109.68" r="0.6" fill="#c85a8a"/><circle cx="161" cy="107.87" r="0.6" fill="#f2a078"/><circle cx="161.3" cy="97.3" r="0.6" fill="#e86a48"/><circle cx="170.04" cy="103.2" r="0.6" fill="#ee7a50"/><circle cx="174.9" cy="102.17" r="0.6" fill="#d8463c"/><circle cx="168.21" cy="103.46" r="0.6" fill="#e25a3c"/><circle cx="180.51" cy="107.03" r="0.6" fill="#f2a078"/><circle cx="165.35" cy="99.92" r="0.6" fill="#c85a8a"/><circle cx="170.76" cy="98.69" r="0.6" fill="#f2a078"/><circle cx="160.01" cy="103.67" r="0.6" fill="#ee7a50"/><circle cx="158.88" cy="103.44" r="0.6" fill="#ee7a50"/><circle cx="168.15" cy="112.99" r="0.6" fill="#ee7a50"/><circle cx="180.44" cy="103.98" r="0.6" fill="#f2a078"/><circle cx="173.69" cy="101.74" r="0.6" fill="#d8463c"/><circle cx="164.34" cy="103.16" r="0.6" fill="#ee7a50"/><circle cx="160.15" cy="110.06" r="0.6" fill="#e86a48"/><circle cx="180.06" cy="106.84" r="0.6" fill="#f2a078"/><circle cx="177.89" cy="99.47" r="0.6" fill="#f2a078"/><circle cx="163.9" cy="109.4" r="0.6" fill="#e86a48"/><circle cx="165.99" cy="109.47" r="0.6" fill="#d8463c"/><circle cx="173.82" cy="107.46" r="0.6" fill="#d8463c"/><circle cx="166.04" cy="108.12" r="0.6" fill="#d8463c"/><circle cx="177.13" cy="100.87" r="0.6" fill="#c85a8a"/><circle cx="174.33" cy="112.29" r="0.6" fill="#d8463c"/><circle cx="172.77" cy="106.08" r="0.6" fill="#e25a3c"/><circle cx="168.65" cy="109.27" r="0.6" fill="#d8463c"/><circle cx="173.28" cy="104.14" r="0.6" fill="#e86a48"/><circle cx="172.71" cy="109.66" r="0.6" fill="#d8463c"/><circle cx="163.94" cy="102.2" r="0.6" fill="#f2a078"/><circle cx="165.73" cy="110.41" r="0.6" fill="#c85a8a"/><circle cx="168.07" cy="102.51" r="0.6" fill="#d8463c"/><circle cx="169.68" cy="105.23" r="0.6" fill="#ee7a50"/><circle cx="162.17" cy="102.47" r="0.6" fill="#f2a078"/><circle cx="164.15" cy="97.8" r="0.6" fill="#c85a8a"/><circle cx="174.66" cy="99.34" r="0.6" fill="#e86a48"/><circle cx="169.64" cy="111.95" r="0.6" fill="#d8463c"/><circle cx="172.16" cy="109.28" r="0.6" fill="#c85a8a"/><circle cx="163.86" cy="112.93" r="0.6" fill="#ee7a50"/><circle cx="161.26" cy="103.78" r="0.6" fill="#c85a8a"/><circle cx="161.75" cy="109.02" r="0.6" fill="#ee7a50"/><circle cx="172.33" cy="97.19" r="0.6" fill="#f2a078"/><circle cx="180.52" cy="99.23" r="0.6" fill="#ee7a50"/><circle cx="160.1" cy="112.47" r="0.6" fill="#f2a078"/><circle cx="162.04" cy="97.09" r="0.6" fill="#f2a078"/><circle cx="165.75" cy="107.43" r="0.6" fill="#e25a3c"/><circle cx="171.37" cy="100.42" r="0.6" fill="#d8463c"/><circle cx="157.52" cy="103.19" r="0.6" fill="#d8463c"/><circle cx="177.61" cy="110.8" r="0.6" fill="#c85a8a"/><circle cx="177.04" cy="102.67" r="0.6" fill="#e25a3c"/><circle cx="170.42" cy="101.47" r="0.6" fill="#d8463c"/><circle cx="170.31" cy="102.1" r="0.6" fill="#e86a48"/><circle cx="164.39" cy="102.3" r="0.6" fill="#ee7a50"/><circle cx="167.35" cy="109.91" r="0.6" fill="#c85a8a"/><circle cx="170.15" cy="104.21" r="0.6" fill="#ee7a50"/><circle cx="171.5" cy="105.8" r="0.6" fill="#ee7a50"/><circle cx="180.25" cy="106.54" r="0.6" fill="#d8463c"/><circle cx="176.8" cy="107.42" r="0.6" fill="#f2a078"/><circle cx="160.04" cy="105.84" r="0.6" fill="#e86a48"/><circle cx="170.18" cy="101.87" r="0.6" fill="#e86a48"/><circle cx="166.33" cy="103.62" r="0.6" fill="#ee7a50"/><circle cx="169.1" cy="104.41" r="0.6" fill="#c85a8a"/><circle cx="166.42" cy="112.36" r="0.6" fill="#ee7a50"/><circle cx="171.5" cy="100.79" r="0.6" fill="#d8463c"/><circle cx="169.16" cy="103.36" r="0.6" fill="#d8463c"/><circle cx="179.71" cy="101.57" r="0.6" fill="#d8463c"/><circle cx="160.87" cy="96.89" r="0.6" fill="#c85a8a"/><circle cx="172.11" cy="103.82" r="0.6" fill="#d8463c"/><circle cx="158.44" cy="98.75" r="0.6" fill="#f2a078"/><circle cx="157.81" cy="105.29" r="0.6" fill="#d8463c"/><circle cx="163.22" cy="104.33" r="0.6" fill="#e25a3c"/><circle cx="163.27" cy="100.92" r="0.6" fill="#ee7a50"/><circle cx="174.45" cy="101.21" r="0.6" fill="#f2a078"/><circle cx="171.79" cy="104.33" r="0.6" fill="#c85a8a"/><circle cx="177.79" cy="111.03" r="0.6" fill="#e25a3c"/><circle cx="157.88" cy="98.58" r="0.6" fill="#d8463c"/><circle cx="170.04" cy="102.05" r="0.6" fill="#d8463c"/><circle cx="174.68" cy="96.94" r="0.6" fill="#d8463c"/><circle cx="165.98" cy="108.79" r="0.6" fill="#e86a48"/><circle cx="160.61" cy="96.55" r="0.6" fill="#e86a48"/><circle cx="168.21" cy="111.62" r="0.6" fill="#c85a8a"/><circle cx="170.32" cy="96.74" r="0.6" fill="#f2a078"/><circle cx="171.48" cy="107.87" r="0.6" fill="#c85a8a"/><circle cx="172.75" cy="110.67" r="0.6" fill="#f2a078"/><circle cx="168.68" cy="107.76" r="0.6" fill="#c85a8a"/><circle cx="162.12" cy="101.39" r="0.6" fill="#e25a3c"/><circle cx="164.64" cy="96.55" r="0.6" fill="#f2a078"/><circle cx="171.18" cy="107.2" r="0.6" fill="#f2a078"/><circle cx="178.9" cy="98.85" r="0.6" fill="#f2a078"/><circle cx="173.84" cy="111.16" r="0.6" fill="#d8463c"/><circle cx="170.14" cy="103.52" r="0.6" fill="#e86a48"/><circle cx="176.58" cy="97.63" r="0.6" fill="#ee7a50"/><circle cx="163.78" cy="97.91" r="0.6" fill="#e25a3c"/><circle cx="173.09" cy="96.92" r="0.6" fill="#c85a8a"/><circle cx="167.59" cy="97.63" r="0.6" fill="#f2a078"/><circle cx="173.98" cy="97.31" r="0.6" fill="#e25a3c"/><circle cx="162.65" cy="107.15" r="0.6" fill="#e25a3c"/><circle cx="174.24" cy="98.72" r="0.6" fill="#d8463c"/><circle cx="174.09" cy="103.73" r="0.6" fill="#ee7a50"/><circle cx="171.85" cy="103.33" r="0.6" fill="#ee7a50"/><circle cx="159.08" cy="100.02" r="0.6" fill="#e86a48"/><circle cx="160.04" cy="102.76" r="0.6" fill="#e25a3c"/><circle cx="164.08" cy="105.92" r="0.6" fill="#e25a3c"/><circle cx="174.94" cy="110.99" r="0.6" fill="#ee7a50"/><circle cx="157.73" cy="98.01" r="0.6" fill="#c85a8a"/><circle cx="171.61" cy="104.58" r="0.6" fill="#c85a8a"/><circle cx="166.29" cy="97.42" r="0.6" fill="#c85a8a"/><circle cx="164.43" cy="105.88" r="0.6" fill="#c85a8a"/><circle cx="169.39" cy="111.52" r="0.6" fill="#e86a48"/><circle cx="170.42" cy="100.14" r="0.6" fill="#e25a3c"/><circle cx="170.46" cy="100.69" r="0.6" fill="#d8463c"/><circle cx="169.65" cy="98.71" r="0.6" fill="#ee7a50"/><circle cx="177.79" cy="103.98" r="0.6" fill="#f2a078"/><circle cx="161.71" cy="108.27" r="0.6" fill="#c85a8a"/><circle cx="165.53" cy="105.96" r="0.6" fill="#e25a3c"/><circle cx="159.64" cy="98.56" r="0.6" fill="#e86a48"/><circle cx="168.16" cy="102.93" r="0.6" fill="#f2a078"/><circle cx="168.79" cy="101.83" r="0.6" fill="#e86a48"/><circle cx="158.19" cy="108.46" r="0.6" fill="#e25a3c"/><circle cx="177.43" cy="112.09" r="0.6" fill="#f2a078"/><circle cx="173.51" cy="100.18" r="0.6" fill="#e25a3c"/><circle cx="159.47" cy="111.54" r="0.6" fill="#f2a078"/><circle cx="176.78" cy="98.81" r="0.6" fill="#e86a48"/><circle cx="166.33" cy="110.29" r="0.6" fill="#d8463c"/><circle cx="165.33" cy="106.63" r="0.6" fill="#d8463c"/><circle cx="176.21" cy="102.74" r="0.6" fill="#c85a8a"/><circle cx="177.03" cy="107.19" r="0.6" fill="#c85a8a"/><circle cx="167.68" cy="110.55" r="0.6" fill="#e86a48"/><circle cx="158.35" cy="112.89" r="0.6" fill="#ee7a50"/><circle cx="174.89" cy="103.03" r="0.6" fill="#e25a3c"/><circle cx="158.37" cy="99.57" r="0.6" fill="#ee7a50"/><circle cx="158.43" cy="111.17" r="0.6" fill="#f2a078"/><circle cx="173.04" cy="102.25" r="0.6" fill="#f2a078"/><circle cx="168.55" cy="111.18" r="0.6" fill="#e86a48"/><circle cx="179.16" cy="101.83" r="0.6" fill="#f2a078"/><circle cx="159.84" cy="99.05" r="0.6" fill="#ee7a50"/><circle cx="159.17" cy="110.84" r="0.6" fill="#f2a078"/></g>
</g>
<path d="M93.2,37.7C94.93,36.88 98.5,36.58 101.5,36.3C104.5,36.02 107.97,35.53 111.2,36C114.43,36.47 118.95,37.43 120.9,39.1C122.85,40.77 122.78,43.47 122.9,46C123.02,48.53 122.63,52.22 121.6,54.3C120.57,56.38 118.67,57.47 116.7,58.5C114.73,59.53 111.65,60.38 109.8,60.5C107.95,60.62 107.45,59.77 105.6,59.2C103.75,58.63 100.77,58.03 98.7,57.1C96.63,56.17 94.53,55.22 93.2,53.6C91.87,51.98 91.05,49.47 90.7,47.4C90.35,45.33 90.68,42.82 91.1,41.2C91.52,39.58 91.47,38.52 93.2,37.7Z" fill="none" stroke="#424242" stroke-width="1"/>
<path d="M90.4,63.3C91.67,62.25 93.82,62.02 95.9,61.9C97.98,61.78 100.58,62.2 102.9,62.6C105.22,63 108.18,63.72 109.8,64.3C111.42,64.88 111.22,65.5 112.6,66.1C113.98,66.7 117.42,67.28 118.1,67.9C118.78,68.52 117.85,69.3 116.7,69.8C115.55,70.3 112.58,70.25 111.2,70.9C109.82,71.55 110.02,72.88 108.4,73.7C106.78,74.52 103.8,75.57 101.5,75.8C99.2,76.03 96.57,75.68 94.6,75.1C92.63,74.52 90.75,73.45 89.7,72.3C88.65,71.15 88.18,69.7 88.3,68.2C88.42,66.7 89.13,64.35 90.4,63.3Z" fill="none" stroke="#424242" stroke-width="1"/>
<path d="M126.6,62.4C127.62,61.62 129.15,61.3 131.7,61.3C134.25,61.3 138.98,61.87 141.9,62.4C144.82,62.93 147.12,63.65 149.2,64.5C151.28,65.35 153.42,66.27 154.4,67.5C155.38,68.73 155.35,70.68 155.1,71.9C154.85,73.12 152.9,73.72 152.9,74.8C152.9,75.88 154.53,76.93 155.1,78.4C155.67,79.87 156.42,82.02 156.3,83.6C156.18,85.18 155.58,86.82 154.4,87.9C153.22,88.98 150.92,89.85 149.2,90.1C147.48,90.35 145.32,90 144.1,89.4C142.88,88.8 142.38,87.72 141.9,86.5C141.42,85.28 142.17,83.45 141.2,82.1C140.23,80.75 138.17,79.38 136.1,78.4C134.03,77.42 130.52,77.28 128.8,76.2C127.08,75.12 126.33,73.6 125.8,71.9C125.27,70.2 125.47,67.58 125.6,66C125.73,64.42 125.58,63.18 126.6,62.4Z" fill="none" stroke="#424242" stroke-width="1"/>
<path d="M158.7,64.5C159.68,63.72 161.82,63.03 163.9,62.8C165.98,62.57 168.77,62.68 171.2,63.1C173.63,63.52 176.32,64.7 178.5,65.3C180.68,65.9 182.83,65.85 184.3,66.7C185.77,67.55 186.77,68.82 187.3,70.4C187.83,71.98 187.63,74.37 187.5,76.2C187.37,78.03 187.03,80.05 186.5,81.4C185.97,82.75 185.63,83.45 184.3,84.3C182.97,85.15 180.68,86.02 178.5,86.5C176.32,86.98 173.63,87.45 171.2,87.2C168.77,86.95 165.48,85.85 163.9,85C162.32,84.15 162.43,83.2 161.7,82.1C160.97,81 160.07,79.87 159.5,78.4C158.93,76.93 158.55,75.12 158.3,73.3C158.05,71.48 157.93,68.97 158,67.5C158.07,66.03 157.72,65.28 158.7,64.5Z" fill="none" stroke="#424242" stroke-width="1"/>
<path d="M64.5,82.7C65.93,81.58 68.18,80.95 70.3,80.6C72.42,80.25 75.08,80.45 77.2,80.6C79.32,80.75 81.27,81.15 83,81.5C84.73,81.85 86.25,82.7 87.6,82.7C88.95,82.7 90.03,81.32 91.1,81.5C92.17,81.68 93.43,82.83 94,83.8C94.57,84.77 94.7,85.75 94.5,87.3C94.3,88.85 93.57,91.37 92.8,93.1C92.03,94.83 91.15,96.27 89.9,97.7C88.65,99.13 86.83,100.55 85.3,101.7C83.77,102.85 82.43,103.88 80.7,104.6C78.97,105.32 76.82,105.85 74.9,106C72.98,106.15 70.93,106.02 69.2,105.5C67.47,104.98 65.75,104.02 64.5,102.9C63.25,101.78 62.37,100.43 61.7,98.8C61.03,97.17 60.5,95.02 60.5,93.1C60.5,91.18 61.03,89.03 61.7,87.3C62.37,85.57 63.07,83.82 64.5,82.7Z" fill="none" stroke="#424242" stroke-width="1"/>
<path d="M94.3,84.1C95.25,83.05 97.47,83.38 99.5,83C101.53,82.62 104,82.18 106.5,81.8C109,81.42 111.82,80.95 114.5,80.7C117.18,80.45 120.28,80.12 122.6,80.3C124.92,80.48 126.67,81.07 128.4,81.8C130.13,82.53 131.75,83.63 133,84.7C134.25,85.77 135.32,87.05 135.9,88.2C136.48,89.35 136.6,90.45 136.5,91.6C136.4,92.75 136.08,94.23 135.3,95.1C134.52,95.97 133.33,96.23 131.8,96.8C130.27,97.37 128.02,97.73 126.1,98.5C124.18,99.27 122.8,100.67 120.3,101.4C117.8,102.13 113.98,102.57 111.1,102.9C108.22,103.23 105.7,103.4 103,103.4C100.3,103.4 96.73,103.33 94.9,102.9C93.07,102.47 92.38,102.1 92,100.8C91.62,99.5 92.3,97.02 92.6,95.1C92.9,93.18 93.52,91.13 93.8,89.3C94.08,87.47 93.35,85.15 94.3,84.1Z" fill="none" stroke="#424242" stroke-width="1"/>
<path d="M97.3,111.3C98.42,110.27 100.58,108.82 102.9,107.9C105.22,106.98 108.2,106.27 111.2,105.8C114.2,105.33 119.05,104.65 120.9,105.1C122.75,105.55 122.18,106.77 122.3,108.5C122.42,110.23 122.07,113.42 121.6,115.5C121.13,117.58 120.78,119.8 119.5,121C118.22,122.2 116.22,122.35 113.9,122.7C111.58,123.05 108.13,123.2 105.6,123.1C103.07,123 100.32,122.92 98.7,122.1C97.08,121.28 96.32,119.53 95.9,118.2C95.48,116.87 95.97,115.25 96.2,114.1C96.43,112.95 96.18,112.33 97.3,111.3Z" fill="none" stroke="#424242" stroke-width="1"/>
<path d="M95.9,136.2C96.72,134.77 98.48,133.88 100.1,133.2C101.72,132.52 103.52,132.17 105.6,132.1C107.68,132.03 110.52,132.22 112.6,132.8C114.68,133.38 116.83,134.33 118.1,135.6C119.37,136.87 119.97,138.68 120.2,140.4C120.43,142.12 120.32,144.4 119.5,145.9C118.68,147.4 117.15,148.58 115.3,149.4C113.45,150.22 110.7,150.68 108.4,150.8C106.1,150.92 103.35,150.68 101.5,150.1C99.65,149.52 98.35,148.68 97.3,147.3C96.25,145.92 95.43,143.65 95.2,141.8C94.97,139.95 95.08,137.63 95.9,136.2Z" fill="none" stroke="#424242" stroke-width="1"/>
<path d="M134.6,115.6C136.3,114.38 139.47,113.82 141.9,113.4C144.33,112.98 146.77,112.73 149.2,113.1C151.63,113.47 154.67,114.33 156.5,115.6C158.33,116.87 159.47,118.63 160.2,120.7C160.93,122.77 161.02,125.57 160.9,128C160.78,130.43 159.98,133.23 159.5,135.3C159.02,137.37 158.98,139.18 158,140.4C157.02,141.62 155.07,141.73 153.6,142.6C152.13,143.47 150.9,144.62 149.2,145.6C147.5,146.58 145.58,147.78 143.4,148.5C141.22,149.22 138.3,149.78 136.1,149.9C133.9,150.02 131.55,149.92 130.2,149.2C128.85,148.48 128.37,147.18 128,145.6C127.63,144.02 128.12,141.65 128,139.7C127.88,137.75 127.17,136.1 127.3,133.9C127.43,131.7 128.07,128.7 128.8,126.5C129.53,124.3 130.73,122.52 131.7,120.7C132.67,118.88 132.9,116.82 134.6,115.6Z" fill="none" stroke="#424242" stroke-width="1"/>
<path d="M158,98.9C158.33,98.18 158.93,97.8 159.8,97.5C160.67,97.2 162.05,97.05 163.2,97.1C164.35,97.15 165.63,97.4 166.7,97.8C167.77,98.2 168.45,99.07 169.6,99.5C170.75,99.93 172.35,100.02 173.6,100.4C174.85,100.78 176.13,101.08 177.1,101.8C178.07,102.52 178.83,103.63 179.4,104.7C179.97,105.77 180.4,107.15 180.5,108.2C180.6,109.25 180.57,110.28 180,111C179.43,111.72 178.27,112.3 177.1,112.5C175.93,112.7 174.35,112.3 173,112.2C171.65,112.1 170.33,112 169,111.9C167.67,111.8 166.05,111.83 165,111.6C163.95,111.37 163.18,110.95 162.7,110.5C162.22,110.05 161.98,109.3 162.1,108.9C162.22,108.5 162.83,108.25 163.4,108.1C163.97,107.95 164.83,108.13 165.5,108C166.17,107.87 167.07,107.63 167.4,107.3C167.73,106.97 167.82,106.33 167.5,106C167.18,105.67 166.22,105.4 165.5,105.3C164.78,105.2 163.82,105.18 163.2,105.4C162.58,105.62 162.23,106.23 161.8,106.6C161.37,106.97 161,107.52 160.6,107.6C160.2,107.68 159.73,107.58 159.4,107.1C159.07,106.62 158.87,105.58 158.6,104.7C158.33,103.82 157.9,102.77 157.8,101.8C157.7,100.83 157.67,99.62 158,98.9Z" fill="none" stroke="#424242" stroke-width="1"/>
<rect x="53.05" y="28.85" width="142" height="127.4" fill="none" stroke="#4a4a4a" stroke-width="1.45"/>
<line x1="62.69" y1="156.5" x2="62.69" y2="159.3" stroke="#333" stroke-width="0.9"/>
<text x="62.69" y="168.8" font-size="7.2" text-anchor="middle" font-family="Liberation Sans, sans-serif" fill="#262626" stroke="#262626" stroke-width="0.26">−30</text>
<line x1="82.46" y1="156.5" x2="82.46" y2="159.3" stroke="#333" stroke-width="0.9"/>
<text x="82.46" y="168.8" font-size="7.2" text-anchor="middle" font-family="Liberation Sans, sans-serif" fill="#262626" stroke="#262626" stroke-width="0.26">−20</text>
<line x1="102.23" y1="156.5" x2="102.23" y2="159.3" stroke="#333" stroke-width="0.9"/>
<text x="102.23" y="168.8" font-size="7.2" text-anchor="middle" font-family="Liberation Sans, sans-serif" fill="#262626" stroke="#262626" stroke-width="0.26">−10</text>
<line x1="122" y1="156.5" x2="122" y2="159.3" stroke="#333" stroke-width="0.9"/>
<text x="122" y="168.8" font-size="7.2" text-anchor="middle" font-family="Liberation Sans, sans-serif" fill="#262626" stroke="#262626" stroke-width="0.26">0</text>
<line x1="141.77" y1="156.5" x2="141.77" y2="159.3" stroke="#333" stroke-width="0.9"/>
<text x="141.77" y="168.8" font-size="7.2" text-anchor="middle" font-family="Liberation Sans, sans-serif" fill="#262626" stroke="#262626" stroke-width="0.26">10</text>
<line x1="161.54" y1="156.5" x2="161.54" y2="159.3" stroke="#333" stroke-width="0.9"/>
<text x="161.54" y="168.8" font-size="7.2" text-anchor="middle" font-family="Liberation Sans, sans-serif" fill="#262626" stroke="#262626" stroke-width="0.26">20</text>
<line x1="181.31" y1="156.5" x2="181.31" y2="159.3" stroke="#333" stroke-width="0.9"/>
<text x="181.31" y="168.8" font-size="7.2" text-anchor="middle" font-family="Liberation Sans, sans-serif" fill="#262626" stroke="#262626" stroke-width="0.26">30</text>
<text x="120.2" y="36.8" font-size="7.2" text-anchor="middle" font-family="Liberation Sans, sans-serif" fill="#262626" stroke="#262626" stroke-width="0.26">2</text>
<text x="85.1" y="70.8" font-size="7.2" text-anchor="middle" font-family="Liberation Sans, sans-serif" fill="#262626" stroke="#262626" stroke-width="0.26">8</text>
<text x="147.5" y="63.1" font-size="7.2" text-anchor="middle" font-family="Liberation Sans, sans-serif" fill="#262626" stroke="#262626" stroke-width="0.26">5</text>
<text x="58.2" y="102.8" font-size="7.2" text-anchor="middle" font-family="Liberation Sans, sans-serif" fill="#262626" stroke="#262626" stroke-width="0.26">3</text>
<text x="137.6" y="98.3" font-size="7.2" text-anchor="middle" font-family="Liberation Sans, sans-serif" fill="#262626" stroke="#262626" stroke-width="0.26">1</text>
<text x="92.9" y="122.5" font-size="7.2" text-anchor="middle" font-family="Liberation Sans, sans-serif" fill="#262626" stroke="#262626" stroke-width="0.26">6</text>
<text x="94.8" y="153.8" font-size="7.2" text-anchor="middle" font-family="Liberation Sans, sans-serif" fill="#262626" stroke="#262626" stroke-width="0.26">7</text>
<text x="153.3" y="149.3" font-size="7.2" text-anchor="middle" font-family="Liberation Sans, sans-serif" fill="#262626" stroke="#262626" stroke-width="0.26">0</text>
<text x="174.2" y="118.8" font-size="7.2" text-anchor="middle" font-family="Liberation Sans, sans-serif" fill="#262626" stroke="#262626" stroke-width="0.26">9</text>
<g opacity="0.75">
<circle cx="225.95" cy="81.53" r="0.55" fill="#b4b4b4"/>
<circle cx="231.81" cy="77.86" r="0.55" fill="#b4b4b4"/>
<circle cx="222.99" cy="77.12" r="0.55" fill="#b4b4b4"/>
<circle cx="221.31" cy="79.4" r="0.55" fill="#b4b4b4"/>
<circle cx="220.19" cy="78.47" r="0.55" fill="#b4b4b4"/>
<circle cx="217.54" cy="77.88" r="0.55" fill="#b4b4b4"/>
<circle cx="216.68" cy="79.62" r="0.55" fill="#b4b4b4"/>
<circle cx="236.83" cy="79.1" r="0.55" fill="#b4b4b4"/>
<circle cx="238.26" cy="77.76" r="0.55" fill="#b4b4b4"/>
<circle cx="225.72" cy="77.01" r="0.55" fill="#b4b4b4"/>
<circle cx="229.76" cy="77.29" r="0.55" fill="#b4b4b4"/>
<circle cx="233.87" cy="78.05" r="0.55" fill="#b4b4b4"/>
<circle cx="224.64" cy="77.57" r="0.55" fill="#b4b4b4"/>
<circle cx="235.66" cy="78.05" r="0.55" fill="#b4b4b4"/>
<circle cx="218.99" cy="79.84" r="0.55" fill="#b4b4b4"/>
<circle cx="238.54" cy="77.57" r="0.55" fill="#b4b4b4"/>
<circle cx="227.19" cy="81.15" r="0.55" fill="#b4b4b4"/>
<circle cx="238.52" cy="78.9" r="0.55" fill="#b4b4b4"/>
<circle cx="231.53" cy="81.9" r="0.55" fill="#b4b4b4"/>
<circle cx="227.78" cy="76.86" r="0.55" fill="#b4b4b4"/>
<circle cx="240.05" cy="80.38" r="0.55" fill="#b4b4b4"/>
<circle cx="240.44" cy="79.37" r="0.55" fill="#b4b4b4"/>
<circle cx="218.29" cy="77.64" r="0.55" fill="#b4b4b4"/>
<circle cx="228.45" cy="77.18" r="0.55" fill="#b4b4b4"/>
<circle cx="209.29" cy="94.25" r="0.55" fill="#b4b4b4"/>
<circle cx="209.17" cy="89.95" r="0.55" fill="#b4b4b4"/>
<circle cx="211.47" cy="95.24" r="0.55" fill="#b4b4b4"/>
<circle cx="211.43" cy="85.58" r="0.55" fill="#b4b4b4"/>
<circle cx="210.16" cy="94.13" r="0.55" fill="#b4b4b4"/>
<circle cx="210.79" cy="96.11" r="0.55" fill="#b4b4b4"/>
<circle cx="212.32" cy="93.16" r="0.55" fill="#b4b4b4"/>
<circle cx="208.36" cy="95.2" r="0.55" fill="#b4b4b4"/>
<circle cx="239.03" cy="109.47" r="0.55" fill="#b4b4b4"/>
<circle cx="238.93" cy="108.26" r="0.55" fill="#b4b4b4"/>
<circle cx="244.58" cy="107.72" r="0.55" fill="#b4b4b4"/>
<circle cx="247.43" cy="106.66" r="0.55" fill="#b4b4b4"/>
<circle cx="246.96" cy="108.6" r="0.55" fill="#b4b4b4"/>
<circle cx="235.09" cy="107.98" r="0.55" fill="#b4b4b4"/>
<circle cx="233.45" cy="106.33" r="0.55" fill="#b4b4b4"/>
<circle cx="238.2" cy="108.88" r="0.55" fill="#b4b4b4"/>
<circle cx="236.81" cy="109.63" r="0.55" fill="#b4b4b4"/>
<circle cx="239.58" cy="107.6" r="0.55" fill="#b4b4b4"/>
<circle cx="233.89" cy="106.34" r="0.55" fill="#b4b4b4"/>
<circle cx="290.11" cy="104.07" r="0.55" fill="#b4b4b4"/>
<circle cx="291.39" cy="103.5" r="0.55" fill="#b4b4b4"/>
<circle cx="288.94" cy="101.68" r="0.55" fill="#b4b4b4"/>
<circle cx="289.2" cy="102.09" r="0.55" fill="#b4b4b4"/>
<circle cx="288.82" cy="104.18" r="0.55" fill="#b4b4b4"/>
<circle cx="281.54" cy="101.76" r="0.55" fill="#b4b4b4"/>
<circle cx="282.4" cy="102.46" r="0.55" fill="#b4b4b4"/>
<circle cx="290.46" cy="105.67" r="0.55" fill="#b4b4b4"/>
<circle cx="287.33" cy="100.5" r="0.55" fill="#b4b4b4"/>
<circle cx="287.22" cy="106.07" r="0.55" fill="#b4b4b4"/>
<circle cx="280.77" cy="98.89" r="0.55" fill="#b4b4b4"/>
<circle cx="277.47" cy="104.8" r="0.55" fill="#b4b4b4"/>
<circle cx="281.63" cy="107.58" r="0.55" fill="#b4b4b4"/>
<circle cx="274.64" cy="102.92" r="0.55" fill="#b4b4b4"/>
<circle cx="281.75" cy="104.23" r="0.55" fill="#b4b4b4"/>
<circle cx="291.41" cy="99.23" r="0.55" fill="#b4b4b4"/>
<circle cx="283.08" cy="101.21" r="0.55" fill="#b4b4b4"/>
<circle cx="274.17" cy="102.64" r="0.55" fill="#b4b4b4"/>
<circle cx="281.35" cy="104.46" r="0.55" fill="#b4b4b4"/>
<circle cx="278.19" cy="105.56" r="0.55" fill="#b4b4b4"/>
<circle cx="277.49" cy="99.58" r="0.55" fill="#b4b4b4"/>
<circle cx="276.41" cy="101.78" r="0.55" fill="#b4b4b4"/>
<circle cx="288.05" cy="99.66" r="0.55" fill="#b4b4b4"/>
<circle cx="291.25" cy="98.91" r="0.55" fill="#b4b4b4"/>
<circle cx="245.87" cy="75.92" r="0.55" fill="#b4b4b4"/>
<circle cx="242.88" cy="77.14" r="0.55" fill="#b4b4b4"/>
<circle cx="246.58" cy="78.18" r="0.55" fill="#b4b4b4"/>
<circle cx="267.77" cy="77.33" r="0.55" fill="#b4b4b4"/>
<circle cx="256.67" cy="77.1" r="0.55" fill="#b4b4b4"/>
<circle cx="262.21" cy="76.56" r="0.55" fill="#b4b4b4"/>
<circle cx="257.17" cy="79.08" r="0.55" fill="#b4b4b4"/>
<circle cx="260.48" cy="75.17" r="0.55" fill="#b4b4b4"/>
<circle cx="259.71" cy="75.46" r="0.55" fill="#b4b4b4"/>
<circle cx="256.9" cy="77.3" r="0.55" fill="#b4b4b4"/>
<circle cx="268.64" cy="76.7" r="0.55" fill="#b4b4b4"/>
<circle cx="266.08" cy="75.97" r="0.55" fill="#b4b4b4"/>
<circle cx="248.97" cy="78.46" r="0.55" fill="#b4b4b4"/>
<circle cx="243.69" cy="79.33" r="0.55" fill="#b4b4b4"/>
<circle cx="244.67" cy="79.33" r="0.55" fill="#b4b4b4"/>
<circle cx="264.83" cy="80.26" r="0.55" fill="#b4b4b4"/>
<circle cx="258.05" cy="76.99" r="0.55" fill="#b4b4b4"/>
<circle cx="245.64" cy="56.64" r="0.55" fill="#b4b4b4"/>
<circle cx="243.76" cy="58.93" r="0.55" fill="#b4b4b4"/>
<circle cx="242.25" cy="58.45" r="0.55" fill="#b4b4b4"/>
<circle cx="248.76" cy="61.75" r="0.55" fill="#b4b4b4"/>
<circle cx="248.17" cy="59.87" r="0.55" fill="#b4b4b4"/>
<circle cx="241.37" cy="60.89" r="0.55" fill="#b4b4b4"/>
<circle cx="236.76" cy="58.51" r="0.55" fill="#b4b4b4"/>
<circle cx="245.05" cy="58.19" r="0.55" fill="#b4b4b4"/>
<circle cx="259" cy="33.89" r="0.55" fill="#b4b4b4"/>
<circle cx="257.95" cy="34.99" r="0.55" fill="#b4b4b4"/>
<circle cx="260.39" cy="35.61" r="0.55" fill="#b4b4b4"/>
<circle cx="256.13" cy="33.79" r="0.55" fill="#b4b4b4"/>
<circle cx="257.61" cy="35.11" r="0.55" fill="#b4b4b4"/>
<circle cx="254.24" cy="35.55" r="0.55" fill="#b4b4b4"/>
<circle cx="266.47" cy="34.52" r="0.55" fill="#b4b4b4"/>
<circle cx="256.99" cy="35.87" r="0.55" fill="#b4b4b4"/>
<circle cx="251.56" cy="34.48" r="0.55" fill="#b4b4b4"/>
<circle cx="275.66" cy="47.75" r="0.55" fill="#b4b4b4"/>
<circle cx="277.05" cy="51.69" r="0.55" fill="#b4b4b4"/>
<circle cx="274.83" cy="42.85" r="0.55" fill="#b4b4b4"/>
<circle cx="275.99" cy="41.15" r="0.55" fill="#b4b4b4"/>
<circle cx="277.49" cy="54.63" r="0.55" fill="#b4b4b4"/>
<circle cx="277.71" cy="43.63" r="0.55" fill="#b4b4b4"/>
<circle cx="274.44" cy="50.84" r="0.55" fill="#b4b4b4"/>
<circle cx="278.05" cy="55.74" r="0.55" fill="#b4b4b4"/>
<circle cx="309.75" cy="73.5" r="0.55" fill="#b4b4b4"/>
<circle cx="307.5" cy="71.61" r="0.55" fill="#b4b4b4"/>
<circle cx="309.42" cy="85.82" r="0.55" fill="#b4b4b4"/>
<circle cx="310.45" cy="77.02" r="0.55" fill="#b4b4b4"/>
<circle cx="310.55" cy="77.78" r="0.55" fill="#b4b4b4"/>
<circle cx="307.22" cy="79.09" r="0.55" fill="#b4b4b4"/>
<circle cx="308.74" cy="85.12" r="0.55" fill="#b4b4b4"/>
<circle cx="309.34" cy="83.18" r="0.55" fill="#b4b4b4"/>
<circle cx="307.74" cy="86.1" r="0.55" fill="#b4b4b4"/>
<circle cx="273.35" cy="128.29" r="0.55" fill="#b4b4b4"/>
<circle cx="274.11" cy="137.79" r="0.55" fill="#b4b4b4"/>
<circle cx="274" cy="131.74" r="0.55" fill="#b4b4b4"/>
<circle cx="273.89" cy="130.98" r="0.55" fill="#b4b4b4"/>
<circle cx="275.32" cy="137.33" r="0.55" fill="#b4b4b4"/>
<circle cx="271.78" cy="137.5" r="0.55" fill="#b4b4b4"/>
<circle cx="275.63" cy="136.38" r="0.55" fill="#b4b4b4"/>
<circle cx="277.68" cy="134.32" r="0.55" fill="#b4b4b4"/>
<circle cx="275.36" cy="127.47" r="0.55" fill="#b4b4b4"/>
<circle cx="276.76" cy="123.79" r="0.55" fill="#b4b4b4"/>
<circle cx="276.21" cy="139.52" r="0.55" fill="#b4b4b4"/>
<circle cx="277.04" cy="143.66" r="0.55" fill="#b4b4b4"/>
<circle cx="271.23" cy="136.35" r="0.55" fill="#b4b4b4"/>
<circle cx="272.61" cy="127.26" r="0.55" fill="#b4b4b4"/>
<circle cx="273.34" cy="130.22" r="0.55" fill="#b4b4b4"/>
<circle cx="275.53" cy="128.75" r="0.55" fill="#b4b4b4"/>
<circle cx="277.95" cy="134.14" r="0.55" fill="#b4b4b4"/>
<circle cx="274.93" cy="140.64" r="0.55" fill="#b4b4b4"/>
<circle cx="274.12" cy="143.09" r="0.55" fill="#b4b4b4"/>
<circle cx="271.78" cy="140.73" r="0.55" fill="#b4b4b4"/>
<circle cx="272.24" cy="145.76" r="0.55" fill="#b4b4b4"/>
<circle cx="275.07" cy="146.06" r="0.55" fill="#b4b4b4"/>
<circle cx="273" cy="147.87" r="0.55" fill="#b4b4b4"/>
<circle cx="272.61" cy="145.69" r="0.55" fill="#b4b4b4"/>
<circle cx="271.41" cy="138.29" r="0.55" fill="#b4b4b4"/>
<circle cx="271.86" cy="140.4" r="0.55" fill="#b4b4b4"/>
<circle cx="275.79" cy="138.76" r="0.55" fill="#b4b4b4"/>
<circle cx="256.46" cy="125.2" r="0.55" fill="#b4b4b4"/>
<circle cx="257.56" cy="127.8" r="0.55" fill="#b4b4b4"/>
<circle cx="254.3" cy="125.77" r="0.55" fill="#b4b4b4"/>
<circle cx="263.58" cy="129.57" r="0.55" fill="#b4b4b4"/>
<circle cx="254.03" cy="128.86" r="0.55" fill="#b4b4b4"/>
<circle cx="266.88" cy="129.53" r="0.55" fill="#b4b4b4"/>
<circle cx="319.81" cy="115.35" r="0.55" fill="#b4b4b4"/>
<circle cx="310.44" cy="108.52" r="0.55" fill="#b4b4b4"/>
<circle cx="321.75" cy="113.53" r="0.55" fill="#b4b4b4"/>
<circle cx="317.91" cy="105.28" r="0.55" fill="#b4b4b4"/>
<circle cx="325.65" cy="103.91" r="0.55" fill="#b4b4b4"/>
<circle cx="320.72" cy="96.53" r="0.55" fill="#b4b4b4"/>
<circle cx="318.53" cy="109.29" r="0.55" fill="#b4b4b4"/>
<circle cx="321.78" cy="105.75" r="0.55" fill="#b4b4b4"/>
<circle cx="317.94" cy="100.46" r="0.55" fill="#b4b4b4"/>
<circle cx="321.46" cy="99.98" r="0.55" fill="#b4b4b4"/>
<circle cx="326.12" cy="112.68" r="0.55" fill="#b4b4b4"/>
<circle cx="303.07" cy="101.88" r="0.55" fill="#b4b4b4"/>
<circle cx="295.24" cy="107.52" r="0.55" fill="#b4b4b4"/>
<circle cx="308.28" cy="102.87" r="0.55" fill="#b4b4b4"/>
<circle cx="305.54" cy="108.32" r="0.55" fill="#b4b4b4"/>
<circle cx="305.42" cy="101.1" r="0.55" fill="#b4b4b4"/>
<circle cx="296.25" cy="102.35" r="0.55" fill="#b4b4b4"/>
<circle cx="301.32" cy="103.02" r="0.55" fill="#b4b4b4"/>
<circle cx="299.81" cy="105.48" r="0.55" fill="#b4b4b4"/>
<circle cx="219.66" cy="109.76" r="0.55" fill="#b4b4b4"/>
<circle cx="218.24" cy="111.29" r="0.55" fill="#b4b4b4"/>
<circle cx="226.4" cy="111.45" r="0.55" fill="#b4b4b4"/>
<circle cx="225.15" cy="109.62" r="0.55" fill="#b4b4b4"/>
<circle cx="224.85" cy="106.68" r="0.55" fill="#b4b4b4"/>
<circle cx="224.53" cy="107.53" r="0.55" fill="#b4b4b4"/>
</g>
<g filter="url(#spk)">
<path d="M244.25,37.7C245.98,36.88 249.55,36.58 252.55,36.3C255.55,36.02 259.02,35.53 262.25,36C265.48,36.47 270,37.43 271.95,39.1C273.9,40.77 273.83,43.47 273.95,46C274.07,48.53 273.68,52.22 272.65,54.3C271.62,56.38 269.72,57.47 267.75,58.5C265.78,59.53 262.7,60.38 260.85,60.5C259,60.62 258.5,59.77 256.65,59.2C254.8,58.63 251.82,58.03 249.75,57.1C247.68,56.17 245.58,55.22 244.25,53.6C242.92,51.98 242.1,49.47 241.75,47.4C241.4,45.33 241.73,42.82 242.15,41.2C242.57,39.58 242.52,38.52 244.25,37.7Z" fill="#c0c0c0"/>
<path d="M241.45,63.3C242.72,62.25 244.87,62.02 246.95,61.9C249.03,61.78 251.63,62.2 253.95,62.6C256.27,63 259.23,63.72 260.85,64.3C262.47,64.88 262.27,65.5 263.65,66.1C265.03,66.7 268.47,67.28 269.15,67.9C269.83,68.52 268.9,69.3 267.75,69.8C266.6,70.3 263.63,70.25 262.25,70.9C260.87,71.55 261.07,72.88 259.45,73.7C257.83,74.52 254.85,75.57 252.55,75.8C250.25,76.03 247.62,75.68 245.65,75.1C243.68,74.52 241.8,73.45 240.75,72.3C239.7,71.15 239.23,69.7 239.35,68.2C239.47,66.7 240.18,64.35 241.45,63.3Z" fill="#c0c0c0"/>
<path d="M277.65,62.4C278.67,61.62 280.2,61.3 282.75,61.3C285.3,61.3 290.03,61.87 292.95,62.4C295.87,62.93 298.17,63.65 300.25,64.5C302.33,65.35 304.47,66.27 305.45,67.5C306.43,68.73 306.4,70.68 306.15,71.9C305.9,73.12 303.95,73.72 303.95,74.8C303.95,75.88 305.58,76.93 306.15,78.4C306.72,79.87 307.47,82.02 307.35,83.6C307.23,85.18 306.63,86.82 305.45,87.9C304.27,88.98 301.97,89.85 300.25,90.1C298.53,90.35 296.37,90 295.15,89.4C293.93,88.8 293.43,87.72 292.95,86.5C292.47,85.28 293.22,83.45 292.25,82.1C291.28,80.75 289.22,79.38 287.15,78.4C285.08,77.42 281.57,77.28 279.85,76.2C278.13,75.12 277.38,73.6 276.85,71.9C276.32,70.2 276.52,67.58 276.65,66C276.78,64.42 276.63,63.18 277.65,62.4Z" fill="#c0c0c0"/>
<g clip-path="url(#c5b)"><g filter="url(#bl1)"><path d="M289.4,77.7C289.15,76.73 291.55,75.07 293,74.1C294.45,73.13 296.27,72.63 298.1,71.9C299.93,71.17 302.9,69.58 304,69.7C305.1,69.82 304.95,71.5 304.7,72.6C304.45,73.7 303.47,75.32 302.5,76.3C301.53,77.28 300.23,77.9 298.9,78.5C297.57,79.1 296.08,80.03 294.5,79.9C292.92,79.77 289.65,78.67 289.4,77.7Z" fill="#b9d7a6"/>
<ellipse cx="299" cy="85.5" rx="5" ry="4.8" fill="#e6e28e"/>
<ellipse cx="304.8" cy="85.5" rx="3.2" ry="3.6" fill="#46b1a0"/></g></g>
<path d="M309.75,64.5C310.73,63.72 312.87,63.03 314.95,62.8C317.03,62.57 319.82,62.68 322.25,63.1C324.68,63.52 327.37,64.7 329.55,65.3C331.73,65.9 333.88,65.85 335.35,66.7C336.82,67.55 337.82,68.82 338.35,70.4C338.88,71.98 338.68,74.37 338.55,76.2C338.42,78.03 338.08,80.05 337.55,81.4C337.02,82.75 336.68,83.45 335.35,84.3C334.02,85.15 331.73,86.02 329.55,86.5C327.37,86.98 324.68,87.45 322.25,87.2C319.82,86.95 316.53,85.85 314.95,85C313.37,84.15 313.48,83.2 312.75,82.1C312.02,81 311.12,79.87 310.55,78.4C309.98,76.93 309.6,75.12 309.35,73.3C309.1,71.48 308.98,68.97 309.05,67.5C309.12,66.03 308.77,65.28 309.75,64.5Z" fill="#c0c0c0"/>
<path d="M215.55,82.7C216.98,81.58 219.23,80.95 221.35,80.6C223.47,80.25 226.13,80.45 228.25,80.6C230.37,80.75 232.32,81.15 234.05,81.5C235.78,81.85 237.3,82.7 238.65,82.7C240,82.7 241.08,81.32 242.15,81.5C243.22,81.68 244.48,82.83 245.05,83.8C245.62,84.77 245.75,85.75 245.55,87.3C245.35,88.85 244.62,91.37 243.85,93.1C243.08,94.83 242.2,96.27 240.95,97.7C239.7,99.13 237.88,100.55 236.35,101.7C234.82,102.85 233.48,103.88 231.75,104.6C230.02,105.32 227.87,105.85 225.95,106C224.03,106.15 221.98,106.02 220.25,105.5C218.52,104.98 216.8,104.02 215.55,102.9C214.3,101.78 213.42,100.43 212.75,98.8C212.08,97.17 211.55,95.02 211.55,93.1C211.55,91.18 212.08,89.03 212.75,87.3C213.42,85.57 214.12,83.82 215.55,82.7Z" fill="#c0c0c0"/>
<path d="M245.35,84.1C246.3,83.05 248.52,83.38 250.55,83C252.58,82.62 255.05,82.18 257.55,81.8C260.05,81.42 262.87,80.95 265.55,80.7C268.23,80.45 271.33,80.12 273.65,80.3C275.97,80.48 277.72,81.07 279.45,81.8C281.18,82.53 282.8,83.63 284.05,84.7C285.3,85.77 286.37,87.05 286.95,88.2C287.53,89.35 287.65,90.45 287.55,91.6C287.45,92.75 287.13,94.23 286.35,95.1C285.57,95.97 284.38,96.23 282.85,96.8C281.32,97.37 279.07,97.73 277.15,98.5C275.23,99.27 273.85,100.67 271.35,101.4C268.85,102.13 265.03,102.57 262.15,102.9C259.27,103.23 256.75,103.4 254.05,103.4C251.35,103.4 247.78,103.33 245.95,102.9C244.12,102.47 243.43,102.1 243.05,100.8C242.67,99.5 243.35,97.02 243.65,95.1C243.95,93.18 244.57,91.13 244.85,89.3C245.13,87.47 244.4,85.15 245.35,84.1Z" fill="#c0c0c0"/>
<path d="M248.35,111.3C249.47,110.27 251.63,108.82 253.95,107.9C256.27,106.98 259.25,106.27 262.25,105.8C265.25,105.33 270.1,104.65 271.95,105.1C273.8,105.55 273.23,106.77 273.35,108.5C273.47,110.23 273.12,113.42 272.65,115.5C272.18,117.58 271.83,119.8 270.55,121C269.27,122.2 267.27,122.35 264.95,122.7C262.63,123.05 259.18,123.2 256.65,123.1C254.12,123 251.37,122.92 249.75,122.1C248.13,121.28 247.37,119.53 246.95,118.2C246.53,116.87 247.02,115.25 247.25,114.1C247.48,112.95 247.23,112.33 248.35,111.3Z" fill="#c0c0c0"/>
<path d="M246.95,136.2C247.77,134.77 249.53,133.88 251.15,133.2C252.77,132.52 254.57,132.17 256.65,132.1C258.73,132.03 261.57,132.22 263.65,132.8C265.73,133.38 267.88,134.33 269.15,135.6C270.42,136.87 271.02,138.68 271.25,140.4C271.48,142.12 271.37,144.4 270.55,145.9C269.73,147.4 268.2,148.58 266.35,149.4C264.5,150.22 261.75,150.68 259.45,150.8C257.15,150.92 254.4,150.68 252.55,150.1C250.7,149.52 249.4,148.68 248.35,147.3C247.3,145.92 246.48,143.65 246.25,141.8C246.02,139.95 246.13,137.63 246.95,136.2Z" fill="#c0c0c0"/>
<path d="M285.65,115.6C287.35,114.38 290.52,113.82 292.95,113.4C295.38,112.98 297.82,112.73 300.25,113.1C302.68,113.47 305.72,114.33 307.55,115.6C309.38,116.87 310.52,118.63 311.25,120.7C311.98,122.77 312.07,125.57 311.95,128C311.83,130.43 311.03,133.23 310.55,135.3C310.07,137.37 310.03,139.18 309.05,140.4C308.07,141.62 306.12,141.73 304.65,142.6C303.18,143.47 301.95,144.62 300.25,145.6C298.55,146.58 296.63,147.78 294.45,148.5C292.27,149.22 289.35,149.78 287.15,149.9C284.95,150.02 282.6,149.92 281.25,149.2C279.9,148.48 279.42,147.18 279.05,145.6C278.68,144.02 279.17,141.65 279.05,139.7C278.93,137.75 278.22,136.1 278.35,133.9C278.48,131.7 279.12,128.7 279.85,126.5C280.58,124.3 281.78,122.52 282.75,120.7C283.72,118.88 283.95,116.82 285.65,115.6Z" fill="#c0c0c0"/>
<path d="M309.05,98.9C309.38,98.18 309.98,97.8 310.85,97.5C311.72,97.2 313.1,97.05 314.25,97.1C315.4,97.15 316.68,97.4 317.75,97.8C318.82,98.2 319.5,99.07 320.65,99.5C321.8,99.93 323.4,100.02 324.65,100.4C325.9,100.78 327.18,101.08 328.15,101.8C329.12,102.52 329.88,103.63 330.45,104.7C331.02,105.77 331.45,107.15 331.55,108.2C331.65,109.25 331.62,110.28 331.05,111C330.48,111.72 329.32,112.3 328.15,112.5C326.98,112.7 325.4,112.3 324.05,112.2C322.7,112.1 321.38,112 320.05,111.9C318.72,111.8 317.1,111.83 316.05,111.6C315,111.37 314.23,110.95 313.75,110.5C313.27,110.05 313.03,109.3 313.15,108.9C313.27,108.5 313.88,108.25 314.45,108.1C315.02,107.95 315.88,108.13 316.55,108C317.22,107.87 318.12,107.63 318.45,107.3C318.78,106.97 318.87,106.33 318.55,106C318.23,105.67 317.27,105.4 316.55,105.3C315.83,105.2 314.87,105.18 314.25,105.4C313.63,105.62 313.28,106.23 312.85,106.6C312.42,106.97 312.05,107.52 311.65,107.6C311.25,107.68 310.78,107.58 310.45,107.1C310.12,106.62 309.92,105.58 309.65,104.7C309.38,103.82 308.95,102.77 308.85,101.8C308.75,100.83 308.72,99.62 309.05,98.9Z" fill="#d4d4d4"/>
</g>
<path d="M244.25,37.7C245.98,36.88 249.55,36.58 252.55,36.3C255.55,36.02 259.02,35.53 262.25,36C265.48,36.47 270,37.43 271.95,39.1C273.9,40.77 273.83,43.47 273.95,46C274.07,48.53 273.68,52.22 272.65,54.3C271.62,56.38 269.72,57.47 267.75,58.5C265.78,59.53 262.7,60.38 260.85,60.5C259,60.62 258.5,59.77 256.65,59.2C254.8,58.63 251.82,58.03 249.75,57.1C247.68,56.17 245.58,55.22 244.25,53.6C242.92,51.98 242.1,49.47 241.75,47.4C241.4,45.33 241.73,42.82 242.15,41.2C242.57,39.58 242.52,38.52 244.25,37.7Z" fill="none" stroke="#424242" stroke-width="1"/>
<path d="M241.45,63.3C242.72,62.25 244.87,62.02 246.95,61.9C249.03,61.78 251.63,62.2 253.95,62.6C256.27,63 259.23,63.72 260.85,64.3C262.47,64.88 262.27,65.5 263.65,66.1C265.03,66.7 268.47,67.28 269.15,67.9C269.83,68.52 268.9,69.3 267.75,69.8C266.6,70.3 263.63,70.25 262.25,70.9C260.87,71.55 261.07,72.88 259.45,73.7C257.83,74.52 254.85,75.57 252.55,75.8C250.25,76.03 247.62,75.68 245.65,75.1C243.68,74.52 241.8,73.45 240.75,72.3C239.7,71.15 239.23,69.7 239.35,68.2C239.47,66.7 240.18,64.35 241.45,63.3Z" fill="none" stroke="#424242" stroke-width="1"/>
<path d="M277.65,62.4C278.67,61.62 280.2,61.3 282.75,61.3C285.3,61.3 290.03,61.87 292.95,62.4C295.87,62.93 298.17,63.65 300.25,64.5C302.33,65.35 304.47,66.27 305.45,67.5C306.43,68.73 306.4,70.68 306.15,71.9C305.9,73.12 303.95,73.72 303.95,74.8C303.95,75.88 305.58,76.93 306.15,78.4C306.72,79.87 307.47,82.02 307.35,83.6C307.23,85.18 306.63,86.82 305.45,87.9C304.27,88.98 301.97,89.85 300.25,90.1C298.53,90.35 296.37,90 295.15,89.4C293.93,88.8 293.43,87.72 292.95,86.5C292.47,85.28 293.22,83.45 292.25,82.1C291.28,80.75 289.22,79.38 287.15,78.4C285.08,77.42 281.57,77.28 279.85,76.2C278.13,75.12 277.38,73.6 276.85,71.9C276.32,70.2 276.52,67.58 276.65,66C276.78,64.42 276.63,63.18 277.65,62.4Z" fill="none" stroke="#424242" stroke-width="1"/>
<path d="M309.75,64.5C310.73,63.72 312.87,63.03 314.95,62.8C317.03,62.57 319.82,62.68 322.25,63.1C324.68,63.52 327.37,64.7 329.55,65.3C331.73,65.9 333.88,65.85 335.35,66.7C336.82,67.55 337.82,68.82 338.35,70.4C338.88,71.98 338.68,74.37 338.55,76.2C338.42,78.03 338.08,80.05 337.55,81.4C337.02,82.75 336.68,83.45 335.35,84.3C334.02,85.15 331.73,86.02 329.55,86.5C327.37,86.98 324.68,87.45 322.25,87.2C319.82,86.95 316.53,85.85 314.95,85C313.37,84.15 313.48,83.2 312.75,82.1C312.02,81 311.12,79.87 310.55,78.4C309.98,76.93 309.6,75.12 309.35,73.3C309.1,71.48 308.98,68.97 309.05,67.5C309.12,66.03 308.77,65.28 309.75,64.5Z" fill="none" stroke="#424242" stroke-width="1"/>
<path d="M215.55,82.7C216.98,81.58 219.23,80.95 221.35,80.6C223.47,80.25 226.13,80.45 228.25,80.6C230.37,80.75 232.32,81.15 234.05,81.5C235.78,81.85 237.3,82.7 238.65,82.7C240,82.7 241.08,81.32 242.15,81.5C243.22,81.68 244.48,82.83 245.05,83.8C245.62,84.77 245.75,85.75 245.55,87.3C245.35,88.85 244.62,91.37 243.85,93.1C243.08,94.83 242.2,96.27 240.95,97.7C239.7,99.13 237.88,100.55 236.35,101.7C234.82,102.85 233.48,103.88 231.75,104.6C230.02,105.32 227.87,105.85 225.95,106C224.03,106.15 221.98,106.02 220.25,105.5C218.52,104.98 216.8,104.02 215.55,102.9C214.3,101.78 213.42,100.43 212.75,98.8C212.08,97.17 211.55,95.02 211.55,93.1C211.55,91.18 212.08,89.03 212.75,87.3C213.42,85.57 214.12,83.82 215.55,82.7Z" fill="none" stroke="#424242" stroke-width="1"/>
<path d="M245.35,84.1C246.3,83.05 248.52,83.38 250.55,83C252.58,82.62 255.05,82.18 257.55,81.8C260.05,81.42 262.87,80.95 265.55,80.7C268.23,80.45 271.33,80.12 273.65,80.3C275.97,80.48 277.72,81.07 279.45,81.8C281.18,82.53 282.8,83.63 284.05,84.7C285.3,85.77 286.37,87.05 286.95,88.2C287.53,89.35 287.65,90.45 287.55,91.6C287.45,92.75 287.13,94.23 286.35,95.1C285.57,95.97 284.38,96.23 282.85,96.8C281.32,97.37 279.07,97.73 277.15,98.5C275.23,99.27 273.85,100.67 271.35,101.4C268.85,102.13 265.03,102.57 262.15,102.9C259.27,103.23 256.75,103.4 254.05,103.4C251.35,103.4 247.78,103.33 245.95,102.9C244.12,102.47 243.43,102.1 243.05,100.8C242.67,99.5 243.35,97.02 243.65,95.1C243.95,93.18 244.57,91.13 244.85,89.3C245.13,87.47 244.4,85.15 245.35,84.1Z" fill="none" stroke="#424242" stroke-width="1"/>
<path d="M248.35,111.3C249.47,110.27 251.63,108.82 253.95,107.9C256.27,106.98 259.25,106.27 262.25,105.8C265.25,105.33 270.1,104.65 271.95,105.1C273.8,105.55 273.23,106.77 273.35,108.5C273.47,110.23 273.12,113.42 272.65,115.5C272.18,117.58 271.83,119.8 270.55,121C269.27,122.2 267.27,122.35 264.95,122.7C262.63,123.05 259.18,123.2 256.65,123.1C254.12,123 251.37,122.92 249.75,122.1C248.13,121.28 247.37,119.53 246.95,118.2C246.53,116.87 247.02,115.25 247.25,114.1C247.48,112.95 247.23,112.33 248.35,111.3Z" fill="none" stroke="#424242" stroke-width="1"/>
<path d="M246.95,136.2C247.77,134.77 249.53,133.88 251.15,133.2C252.77,132.52 254.57,132.17 256.65,132.1C258.73,132.03 261.57,132.22 263.65,132.8C265.73,133.38 267.88,134.33 269.15,135.6C270.42,136.87 271.02,138.68 271.25,140.4C271.48,142.12 271.37,144.4 270.55,145.9C269.73,147.4 268.2,148.58 266.35,149.4C264.5,150.22 261.75,150.68 259.45,150.8C257.15,150.92 254.4,150.68 252.55,150.1C250.7,149.52 249.4,148.68 248.35,147.3C247.3,145.92 246.48,143.65 246.25,141.8C246.02,139.95 246.13,137.63 246.95,136.2Z" fill="none" stroke="#424242" stroke-width="1"/>
<path d="M285.65,115.6C287.35,114.38 290.52,113.82 292.95,113.4C295.38,112.98 297.82,112.73 300.25,113.1C302.68,113.47 305.72,114.33 307.55,115.6C309.38,116.87 310.52,118.63 311.25,120.7C311.98,122.77 312.07,125.57 311.95,128C311.83,130.43 311.03,133.23 310.55,135.3C310.07,137.37 310.03,139.18 309.05,140.4C308.07,141.62 306.12,141.73 304.65,142.6C303.18,143.47 301.95,144.62 300.25,145.6C298.55,146.58 296.63,147.78 294.45,148.5C292.27,149.22 289.35,149.78 287.15,149.9C284.95,150.02 282.6,149.92 281.25,149.2C279.9,148.48 279.42,147.18 279.05,145.6C278.68,144.02 279.17,141.65 279.05,139.7C278.93,137.75 278.22,136.1 278.35,133.9C278.48,131.7 279.12,128.7 279.85,126.5C280.58,124.3 281.78,122.52 282.75,120.7C283.72,118.88 283.95,116.82 285.65,115.6Z" fill="none" stroke="#424242" stroke-width="1"/>
<path d="M309.05,98.9C309.38,98.18 309.98,97.8 310.85,97.5C311.72,97.2 313.1,97.05 314.25,97.1C315.4,97.15 316.68,97.4 317.75,97.8C318.82,98.2 319.5,99.07 320.65,99.5C321.8,99.93 323.4,100.02 324.65,100.4C325.9,100.78 327.18,101.08 328.15,101.8C329.12,102.52 329.88,103.63 330.45,104.7C331.02,105.77 331.45,107.15 331.55,108.2C331.65,109.25 331.62,110.28 331.05,111C330.48,111.72 329.32,112.3 328.15,112.5C326.98,112.7 325.4,112.3 324.05,112.2C322.7,112.1 321.38,112 320.05,111.9C318.72,111.8 317.1,111.83 316.05,111.6C315,111.37 314.23,110.95 313.75,110.5C313.27,110.05 313.03,109.3 313.15,108.9C313.27,108.5 313.88,108.25 314.45,108.1C315.02,107.95 315.88,108.13 316.55,108C317.22,107.87 318.12,107.63 318.45,107.3C318.78,106.97 318.87,106.33 318.55,106C318.23,105.67 317.27,105.4 316.55,105.3C315.83,105.2 314.87,105.18 314.25,105.4C313.63,105.62 313.28,106.23 312.85,106.6C312.42,106.97 312.05,107.52 311.65,107.6C311.25,107.68 310.78,107.58 310.45,107.1C310.12,106.62 309.92,105.58 309.65,104.7C309.38,103.82 308.95,102.77 308.85,101.8C308.75,100.83 308.72,99.62 309.05,98.9Z" fill="none" stroke="#424242" stroke-width="1"/>
<rect x="204.1" y="28.85" width="142" height="127.4" fill="none" stroke="#4a4a4a" stroke-width="1.45"/>
<line x1="213.74" y1="156.5" x2="213.74" y2="159.3" stroke="#333" stroke-width="0.9"/>
<text x="213.74" y="168.8" font-size="7.2" text-anchor="middle" font-family="Liberation Sans, sans-serif" fill="#262626" stroke="#262626" stroke-width="0.26">−30</text>
<line x1="233.51" y1="156.5" x2="233.51" y2="159.3" stroke="#333" stroke-width="0.9"/>
<text x="233.51" y="168.8" font-size="7.2" text-anchor="middle" font-family="Liberation Sans, sans-serif" fill="#262626" stroke="#262626" stroke-width="0.26">−20</text>
<line x1="253.28" y1="156.5" x2="253.28" y2="159.3" stroke="#333" stroke-width="0.9"/>
<text x="253.28" y="168.8" font-size="7.2" text-anchor="middle" font-family="Liberation Sans, sans-serif" fill="#262626" stroke="#262626" stroke-width="0.26">−10</text>
<line x1="273.05" y1="156.5" x2="273.05" y2="159.3" stroke="#333" stroke-width="0.9"/>
<text x="273.05" y="168.8" font-size="7.2" text-anchor="middle" font-family="Liberation Sans, sans-serif" fill="#262626" stroke="#262626" stroke-width="0.26">0</text>
<line x1="292.82" y1="156.5" x2="292.82" y2="159.3" stroke="#333" stroke-width="0.9"/>
<text x="292.82" y="168.8" font-size="7.2" text-anchor="middle" font-family="Liberation Sans, sans-serif" fill="#262626" stroke="#262626" stroke-width="0.26">10</text>
<line x1="312.59" y1="156.5" x2="312.59" y2="159.3" stroke="#333" stroke-width="0.9"/>
<text x="312.59" y="168.8" font-size="7.2" text-anchor="middle" font-family="Liberation Sans, sans-serif" fill="#262626" stroke="#262626" stroke-width="0.26">20</text>
<line x1="332.36" y1="156.5" x2="332.36" y2="159.3" stroke="#333" stroke-width="0.9"/>
<text x="332.36" y="168.8" font-size="7.2" text-anchor="middle" font-family="Liberation Sans, sans-serif" fill="#262626" stroke="#262626" stroke-width="0.26">30</text>
<text x="294.5" y="62.4" font-size="7.2" text-anchor="middle" font-family="Liberation Sans, sans-serif" fill="#262626" stroke="#262626" stroke-width="0.26">5</text>
<g opacity="0.75">
<circle cx="376.07" cy="79.01" r="0.55" fill="#b4b4b4"/>
<circle cx="373.07" cy="81.35" r="0.55" fill="#b4b4b4"/>
<circle cx="389.54" cy="77.83" r="0.55" fill="#b4b4b4"/>
<circle cx="374.35" cy="79.88" r="0.55" fill="#b4b4b4"/>
<circle cx="387.86" cy="77.69" r="0.55" fill="#b4b4b4"/>
<circle cx="390.19" cy="77.6" r="0.55" fill="#b4b4b4"/>
<circle cx="382.73" cy="78.08" r="0.55" fill="#b4b4b4"/>
<circle cx="390.75" cy="80.92" r="0.55" fill="#b4b4b4"/>
<circle cx="375.66" cy="80.89" r="0.55" fill="#b4b4b4"/>
<circle cx="378.64" cy="79.22" r="0.55" fill="#b4b4b4"/>
<circle cx="386.91" cy="78.1" r="0.55" fill="#b4b4b4"/>
<circle cx="373.68" cy="77.68" r="0.55" fill="#b4b4b4"/>
<circle cx="374.88" cy="80.19" r="0.55" fill="#b4b4b4"/>
<circle cx="383.79" cy="76.27" r="0.55" fill="#b4b4b4"/>
<circle cx="385.51" cy="77.97" r="0.55" fill="#b4b4b4"/>
<circle cx="384.4" cy="77.78" r="0.55" fill="#b4b4b4"/>
<circle cx="390.19" cy="76.88" r="0.55" fill="#b4b4b4"/>
<circle cx="376.06" cy="79.15" r="0.55" fill="#b4b4b4"/>
<circle cx="389.27" cy="77.81" r="0.55" fill="#b4b4b4"/>
<circle cx="373.05" cy="76.58" r="0.55" fill="#b4b4b4"/>
<circle cx="390.74" cy="76.94" r="0.55" fill="#b4b4b4"/>
<circle cx="378.98" cy="76.22" r="0.55" fill="#b4b4b4"/>
<circle cx="373.53" cy="80.63" r="0.55" fill="#b4b4b4"/>
<circle cx="375.33" cy="78.52" r="0.55" fill="#b4b4b4"/>
<circle cx="360.59" cy="87.28" r="0.55" fill="#b4b4b4"/>
<circle cx="362.03" cy="93.68" r="0.55" fill="#b4b4b4"/>
<circle cx="360.66" cy="91.6" r="0.55" fill="#b4b4b4"/>
<circle cx="362.95" cy="87.39" r="0.55" fill="#b4b4b4"/>
<circle cx="360.25" cy="93.42" r="0.55" fill="#b4b4b4"/>
<circle cx="361.5" cy="90.62" r="0.55" fill="#b4b4b4"/>
<circle cx="362.33" cy="97.27" r="0.55" fill="#b4b4b4"/>
<circle cx="359.82" cy="94.02" r="0.55" fill="#b4b4b4"/>
<circle cx="396.75" cy="109.23" r="0.55" fill="#b4b4b4"/>
<circle cx="393.08" cy="108.75" r="0.55" fill="#b4b4b4"/>
<circle cx="388.25" cy="106.78" r="0.55" fill="#b4b4b4"/>
<circle cx="391.19" cy="107.69" r="0.55" fill="#b4b4b4"/>
<circle cx="393.73" cy="101.66" r="0.55" fill="#b4b4b4"/>
<circle cx="395.16" cy="104.45" r="0.55" fill="#b4b4b4"/>
<circle cx="396.76" cy="102.78" r="0.55" fill="#b4b4b4"/>
<circle cx="396.74" cy="107.02" r="0.55" fill="#b4b4b4"/>
<circle cx="397.36" cy="102.33" r="0.55" fill="#b4b4b4"/>
<circle cx="398.89" cy="106.4" r="0.55" fill="#b4b4b4"/>
<circle cx="390.63" cy="102.46" r="0.55" fill="#b4b4b4"/>
<circle cx="429.79" cy="101.4" r="0.55" fill="#b4b4b4"/>
<circle cx="443.94" cy="100.15" r="0.55" fill="#b4b4b4"/>
<circle cx="431.3" cy="99.31" r="0.55" fill="#b4b4b4"/>
<circle cx="438.6" cy="96.64" r="0.55" fill="#b4b4b4"/>
<circle cx="433.58" cy="105.85" r="0.55" fill="#b4b4b4"/>
<circle cx="438.74" cy="99.61" r="0.55" fill="#b4b4b4"/>
<circle cx="443.05" cy="100.58" r="0.55" fill="#b4b4b4"/>
<circle cx="431.01" cy="103.25" r="0.55" fill="#b4b4b4"/>
<circle cx="436.79" cy="100.41" r="0.55" fill="#b4b4b4"/>
<circle cx="432.68" cy="99.1" r="0.55" fill="#b4b4b4"/>
<circle cx="433.23" cy="97.83" r="0.55" fill="#b4b4b4"/>
<circle cx="433.08" cy="105.01" r="0.55" fill="#b4b4b4"/>
<circle cx="436.95" cy="97.9" r="0.55" fill="#b4b4b4"/>
<circle cx="439.92" cy="104.87" r="0.55" fill="#b4b4b4"/>
<circle cx="443.92" cy="101.19" r="0.55" fill="#b4b4b4"/>
<circle cx="436.56" cy="104.58" r="0.55" fill="#b4b4b4"/>
<circle cx="440.05" cy="105.63" r="0.55" fill="#b4b4b4"/>
<circle cx="431.86" cy="102.38" r="0.55" fill="#b4b4b4"/>
<circle cx="436.91" cy="101.19" r="0.55" fill="#b4b4b4"/>
<circle cx="435.25" cy="101.72" r="0.55" fill="#b4b4b4"/>
<circle cx="428.28" cy="99.72" r="0.55" fill="#b4b4b4"/>
<circle cx="427.87" cy="104.09" r="0.55" fill="#b4b4b4"/>
<circle cx="439.64" cy="107.12" r="0.55" fill="#b4b4b4"/>
<circle cx="436.12" cy="104.36" r="0.55" fill="#b4b4b4"/>
<circle cx="407.3" cy="77.49" r="0.55" fill="#b4b4b4"/>
<circle cx="409.01" cy="76.87" r="0.55" fill="#b4b4b4"/>
<circle cx="417.03" cy="76.58" r="0.55" fill="#b4b4b4"/>
<circle cx="417.48" cy="76.85" r="0.55" fill="#b4b4b4"/>
<circle cx="421.71" cy="78.05" r="0.55" fill="#b4b4b4"/>
<circle cx="411.08" cy="78.28" r="0.55" fill="#b4b4b4"/>
<circle cx="409.94" cy="75.18" r="0.55" fill="#b4b4b4"/>
<circle cx="403.06" cy="79.88" r="0.55" fill="#b4b4b4"/>
<circle cx="415.49" cy="78.32" r="0.55" fill="#b4b4b4"/>
<circle cx="413.11" cy="75.88" r="0.55" fill="#b4b4b4"/>
<circle cx="420.42" cy="77.73" r="0.55" fill="#b4b4b4"/>
<circle cx="396.22" cy="77.54" r="0.55" fill="#b4b4b4"/>
<circle cx="408.22" cy="77" r="0.55" fill="#b4b4b4"/>
<circle cx="396.28" cy="78.97" r="0.55" fill="#b4b4b4"/>
<circle cx="400.3" cy="77.55" r="0.55" fill="#b4b4b4"/>
<circle cx="404.86" cy="75.51" r="0.55" fill="#b4b4b4"/>
<circle cx="406.88" cy="80.21" r="0.55" fill="#b4b4b4"/>
<circle cx="402.22" cy="57.14" r="0.55" fill="#b4b4b4"/>
<circle cx="397.23" cy="60.35" r="0.55" fill="#b4b4b4"/>
<circle cx="399.8" cy="58.87" r="0.55" fill="#b4b4b4"/>
<circle cx="388.65" cy="59.9" r="0.55" fill="#b4b4b4"/>
<circle cx="394.01" cy="61.08" r="0.55" fill="#b4b4b4"/>
<circle cx="390.58" cy="57.3" r="0.55" fill="#b4b4b4"/>
<circle cx="389.05" cy="58.94" r="0.55" fill="#b4b4b4"/>
<circle cx="398.64" cy="58.59" r="0.55" fill="#b4b4b4"/>
<circle cx="413.09" cy="35.42" r="0.55" fill="#b4b4b4"/>
<circle cx="406.66" cy="34.12" r="0.55" fill="#b4b4b4"/>
<circle cx="409.45" cy="33.83" r="0.55" fill="#b4b4b4"/>
<circle cx="415.47" cy="35.33" r="0.55" fill="#b4b4b4"/>
<circle cx="408.12" cy="33.72" r="0.55" fill="#b4b4b4"/>
<circle cx="410.04" cy="33.68" r="0.55" fill="#b4b4b4"/>
<circle cx="411.09" cy="33.95" r="0.55" fill="#b4b4b4"/>
<circle cx="407.19" cy="34.13" r="0.55" fill="#b4b4b4"/>
<circle cx="407.66" cy="35.52" r="0.55" fill="#b4b4b4"/>
<circle cx="425.12" cy="50.16" r="0.55" fill="#b4b4b4"/>
<circle cx="425.88" cy="46.18" r="0.55" fill="#b4b4b4"/>
<circle cx="426.73" cy="56.26" r="0.55" fill="#b4b4b4"/>
<circle cx="426.75" cy="42.04" r="0.55" fill="#b4b4b4"/>
<circle cx="428.59" cy="49.05" r="0.55" fill="#b4b4b4"/>
<circle cx="427.63" cy="42.25" r="0.55" fill="#b4b4b4"/>
<circle cx="429.27" cy="56.46" r="0.55" fill="#b4b4b4"/>
<circle cx="424.6" cy="48.65" r="0.55" fill="#b4b4b4"/>
<circle cx="461.47" cy="80.12" r="0.55" fill="#b4b4b4"/>
<circle cx="458.65" cy="79.56" r="0.55" fill="#b4b4b4"/>
<circle cx="457.62" cy="77.87" r="0.55" fill="#b4b4b4"/>
<circle cx="462.27" cy="76.51" r="0.55" fill="#b4b4b4"/>
<circle cx="458.47" cy="73.11" r="0.55" fill="#b4b4b4"/>
<circle cx="461.87" cy="78.95" r="0.55" fill="#b4b4b4"/>
<circle cx="459.26" cy="82.98" r="0.55" fill="#b4b4b4"/>
<circle cx="460.74" cy="75.41" r="0.55" fill="#b4b4b4"/>
<circle cx="460.78" cy="82.21" r="0.55" fill="#b4b4b4"/>
<circle cx="425.14" cy="146.79" r="0.55" fill="#b4b4b4"/>
<circle cx="428.21" cy="132.18" r="0.55" fill="#b4b4b4"/>
<circle cx="428.18" cy="143.41" r="0.55" fill="#b4b4b4"/>
<circle cx="429.98" cy="134.63" r="0.55" fill="#b4b4b4"/>
<circle cx="423.07" cy="129.9" r="0.55" fill="#b4b4b4"/>
<circle cx="429.42" cy="126.7" r="0.55" fill="#b4b4b4"/>
<circle cx="428.19" cy="145.82" r="0.55" fill="#b4b4b4"/>
<circle cx="428.25" cy="132.63" r="0.55" fill="#b4b4b4"/>
<circle cx="425.91" cy="136.99" r="0.55" fill="#b4b4b4"/>
<circle cx="424.82" cy="138.16" r="0.55" fill="#b4b4b4"/>
<circle cx="427.51" cy="123.77" r="0.55" fill="#b4b4b4"/>
<circle cx="424.04" cy="136.02" r="0.55" fill="#b4b4b4"/>
<circle cx="423.65" cy="128.7" r="0.55" fill="#b4b4b4"/>
<circle cx="423.79" cy="136.56" r="0.55" fill="#b4b4b4"/>
<circle cx="425.36" cy="131.04" r="0.55" fill="#b4b4b4"/>
<circle cx="423.62" cy="135.77" r="0.55" fill="#b4b4b4"/>
<circle cx="425.79" cy="136.37" r="0.55" fill="#b4b4b4"/>
<circle cx="425.9" cy="147.49" r="0.55" fill="#b4b4b4"/>
<circle cx="424.46" cy="128.55" r="0.55" fill="#b4b4b4"/>
<circle cx="424.44" cy="136.28" r="0.55" fill="#b4b4b4"/>
<circle cx="422.35" cy="139.35" r="0.55" fill="#b4b4b4"/>
<circle cx="424.75" cy="144.52" r="0.55" fill="#b4b4b4"/>
<circle cx="426.95" cy="144.4" r="0.55" fill="#b4b4b4"/>
<circle cx="424.74" cy="139.08" r="0.55" fill="#b4b4b4"/>
<circle cx="424.71" cy="149.32" r="0.55" fill="#b4b4b4"/>
<circle cx="426.74" cy="147.44" r="0.55" fill="#b4b4b4"/>
<circle cx="425.62" cy="137.45" r="0.55" fill="#b4b4b4"/>
<circle cx="414.32" cy="126.53" r="0.55" fill="#b4b4b4"/>
<circle cx="410.18" cy="130.81" r="0.55" fill="#b4b4b4"/>
<circle cx="407.88" cy="126.56" r="0.55" fill="#b4b4b4"/>
<circle cx="405.11" cy="126.68" r="0.55" fill="#b4b4b4"/>
<circle cx="413.28" cy="129.99" r="0.55" fill="#b4b4b4"/>
<circle cx="413.72" cy="128.98" r="0.55" fill="#b4b4b4"/>
<circle cx="464.94" cy="109.68" r="0.55" fill="#b4b4b4"/>
<circle cx="469.33" cy="99.25" r="0.55" fill="#b4b4b4"/>
<circle cx="465.6" cy="104.33" r="0.55" fill="#b4b4b4"/>
<circle cx="464.93" cy="107.84" r="0.55" fill="#b4b4b4"/>
<circle cx="481.21" cy="99.75" r="0.55" fill="#b4b4b4"/>
<circle cx="464.04" cy="104.54" r="0.55" fill="#b4b4b4"/>
<circle cx="478.66" cy="111.44" r="0.55" fill="#b4b4b4"/>
<circle cx="469.98" cy="108.52" r="0.55" fill="#b4b4b4"/>
<circle cx="465.57" cy="111.68" r="0.55" fill="#b4b4b4"/>
<circle cx="480.16" cy="113.11" r="0.55" fill="#b4b4b4"/>
<circle cx="472.39" cy="99.05" r="0.55" fill="#b4b4b4"/>
<circle cx="459.51" cy="105.31" r="0.55" fill="#b4b4b4"/>
<circle cx="452.27" cy="100.94" r="0.55" fill="#b4b4b4"/>
<circle cx="459.3" cy="106.88" r="0.55" fill="#b4b4b4"/>
<circle cx="448.11" cy="103.94" r="0.55" fill="#b4b4b4"/>
<circle cx="457.62" cy="108.05" r="0.55" fill="#b4b4b4"/>
<circle cx="447.57" cy="108.14" r="0.55" fill="#b4b4b4"/>
<circle cx="452.12" cy="109.46" r="0.55" fill="#b4b4b4"/>
<circle cx="456.65" cy="107.4" r="0.55" fill="#b4b4b4"/>
<circle cx="364.92" cy="110.24" r="0.55" fill="#b4b4b4"/>
<circle cx="372.74" cy="113.28" r="0.55" fill="#b4b4b4"/>
<circle cx="376.26" cy="113.79" r="0.55" fill="#b4b4b4"/>
<circle cx="377.16" cy="113.35" r="0.55" fill="#b4b4b4"/>
<circle cx="369.56" cy="112.72" r="0.55" fill="#b4b4b4"/>
<circle cx="366" cy="109.56" r="0.55" fill="#b4b4b4"/>
</g>
<g filter="url(#spk)">
<path d="M395.75,37.7C397.48,36.88 401.05,36.58 404.05,36.3C407.05,36.02 410.52,35.53 413.75,36C416.98,36.47 421.5,37.43 423.45,39.1C425.4,40.77 425.33,43.47 425.45,46C425.57,48.53 425.18,52.22 424.15,54.3C423.12,56.38 421.22,57.47 419.25,58.5C417.28,59.53 414.2,60.38 412.35,60.5C410.5,60.62 410,59.77 408.15,59.2C406.3,58.63 403.32,58.03 401.25,57.1C399.18,56.17 397.08,55.22 395.75,53.6C394.42,51.98 393.6,49.47 393.25,47.4C392.9,45.33 393.23,42.82 393.65,41.2C394.07,39.58 394.02,38.52 395.75,37.7Z" fill="#c0c0c0"/>
<path d="M392.95,63.3C394.22,62.25 396.37,62.02 398.45,61.9C400.53,61.78 403.13,62.2 405.45,62.6C407.77,63 410.73,63.72 412.35,64.3C413.97,64.88 413.77,65.5 415.15,66.1C416.53,66.7 419.97,67.28 420.65,67.9C421.33,68.52 420.4,69.3 419.25,69.8C418.1,70.3 415.13,70.25 413.75,70.9C412.37,71.55 412.57,72.88 410.95,73.7C409.33,74.52 406.35,75.57 404.05,75.8C401.75,76.03 399.12,75.68 397.15,75.1C395.18,74.52 393.3,73.45 392.25,72.3C391.2,71.15 390.73,69.7 390.85,68.2C390.97,66.7 391.68,64.35 392.95,63.3Z" fill="#c0c0c0"/>
<path d="M429.15,62.4C430.17,61.62 431.7,61.3 434.25,61.3C436.8,61.3 441.53,61.87 444.45,62.4C447.37,62.93 449.67,63.65 451.75,64.5C453.83,65.35 455.97,66.27 456.95,67.5C457.93,68.73 457.9,70.68 457.65,71.9C457.4,73.12 455.45,73.72 455.45,74.8C455.45,75.88 457.08,76.93 457.65,78.4C458.22,79.87 458.97,82.02 458.85,83.6C458.73,85.18 458.13,86.82 456.95,87.9C455.77,88.98 453.47,89.85 451.75,90.1C450.03,90.35 447.87,90 446.65,89.4C445.43,88.8 444.93,87.72 444.45,86.5C443.97,85.28 444.72,83.45 443.75,82.1C442.78,80.75 440.72,79.38 438.65,78.4C436.58,77.42 433.07,77.28 431.35,76.2C429.63,75.12 428.88,73.6 428.35,71.9C427.82,70.2 428.02,67.58 428.15,66C428.28,64.42 428.13,63.18 429.15,62.4Z" fill="#c0c0c0"/>
<path d="M461.25,64.5C462.23,63.72 464.37,63.03 466.45,62.8C468.53,62.57 471.32,62.68 473.75,63.1C476.18,63.52 478.87,64.7 481.05,65.3C483.23,65.9 485.38,65.85 486.85,66.7C488.32,67.55 489.32,68.82 489.85,70.4C490.38,71.98 490.18,74.37 490.05,76.2C489.92,78.03 489.58,80.05 489.05,81.4C488.52,82.75 488.18,83.45 486.85,84.3C485.52,85.15 483.23,86.02 481.05,86.5C478.87,86.98 476.18,87.45 473.75,87.2C471.32,86.95 468.03,85.85 466.45,85C464.87,84.15 464.98,83.2 464.25,82.1C463.52,81 462.62,79.87 462.05,78.4C461.48,76.93 461.1,75.12 460.85,73.3C460.6,71.48 460.48,68.97 460.55,67.5C460.62,66.03 460.27,65.28 461.25,64.5Z" fill="#c0c0c0"/>
<g clip-path="url(#c4c)"><rect x="457.55" y="60" width="32" height="30" fill="#7668b4"/><g filter="url(#bl1)"><path d="M457.55,62 L474.55,62 L466.55,66.5 L464.05,70 L463.55,79 L457.55,82Z" fill="#3f88c4" opacity="0.85"/></g></g>
<path d="M367.05,82.7C368.48,81.58 370.73,80.95 372.85,80.6C374.97,80.25 377.63,80.45 379.75,80.6C381.87,80.75 383.82,81.15 385.55,81.5C387.28,81.85 388.8,82.7 390.15,82.7C391.5,82.7 392.58,81.32 393.65,81.5C394.72,81.68 395.98,82.83 396.55,83.8C397.12,84.77 397.25,85.75 397.05,87.3C396.85,88.85 396.12,91.37 395.35,93.1C394.58,94.83 393.7,96.27 392.45,97.7C391.2,99.13 389.38,100.55 387.85,101.7C386.32,102.85 384.98,103.88 383.25,104.6C381.52,105.32 379.37,105.85 377.45,106C375.53,106.15 373.48,106.02 371.75,105.5C370.02,104.98 368.3,104.02 367.05,102.9C365.8,101.78 364.92,100.43 364.25,98.8C363.58,97.17 363.05,95.02 363.05,93.1C363.05,91.18 363.58,89.03 364.25,87.3C364.92,85.57 365.62,83.82 367.05,82.7Z" fill="#c0c0c0"/>
<path d="M396.85,84.1C397.8,83.05 400.02,83.38 402.05,83C404.08,82.62 406.55,82.18 409.05,81.8C411.55,81.42 414.37,80.95 417.05,80.7C419.73,80.45 422.83,80.12 425.15,80.3C427.47,80.48 429.22,81.07 430.95,81.8C432.68,82.53 434.3,83.63 435.55,84.7C436.8,85.77 437.87,87.05 438.45,88.2C439.03,89.35 439.15,90.45 439.05,91.6C438.95,92.75 438.63,94.23 437.85,95.1C437.07,95.97 435.88,96.23 434.35,96.8C432.82,97.37 430.57,97.73 428.65,98.5C426.73,99.27 425.35,100.67 422.85,101.4C420.35,102.13 416.53,102.57 413.65,102.9C410.77,103.23 408.25,103.4 405.55,103.4C402.85,103.4 399.28,103.33 397.45,102.9C395.62,102.47 394.93,102.1 394.55,100.8C394.17,99.5 394.85,97.02 395.15,95.1C395.45,93.18 396.07,91.13 396.35,89.3C396.63,87.47 395.9,85.15 396.85,84.1Z" fill="#c0c0c0"/>
<path d="M399.85,111.3C400.97,110.27 403.13,108.82 405.45,107.9C407.77,106.98 410.75,106.27 413.75,105.8C416.75,105.33 421.6,104.65 423.45,105.1C425.3,105.55 424.73,106.77 424.85,108.5C424.97,110.23 424.62,113.42 424.15,115.5C423.68,117.58 423.33,119.8 422.05,121C420.77,122.2 418.77,122.35 416.45,122.7C414.13,123.05 410.68,123.2 408.15,123.1C405.62,123 402.87,122.92 401.25,122.1C399.63,121.28 398.87,119.53 398.45,118.2C398.03,116.87 398.52,115.25 398.75,114.1C398.98,112.95 398.73,112.33 399.85,111.3Z" fill="#c0c0c0"/>
<path d="M398.45,136.2C399.27,134.77 401.03,133.88 402.65,133.2C404.27,132.52 406.07,132.17 408.15,132.1C410.23,132.03 413.07,132.22 415.15,132.8C417.23,133.38 419.38,134.33 420.65,135.6C421.92,136.87 422.52,138.68 422.75,140.4C422.98,142.12 422.87,144.4 422.05,145.9C421.23,147.4 419.7,148.58 417.85,149.4C416,150.22 413.25,150.68 410.95,150.8C408.65,150.92 405.9,150.68 404.05,150.1C402.2,149.52 400.9,148.68 399.85,147.3C398.8,145.92 397.98,143.65 397.75,141.8C397.52,139.95 397.63,137.63 398.45,136.2Z" fill="#c0c0c0"/>
<path d="M437.15,115.6C438.85,114.38 442.02,113.82 444.45,113.4C446.88,112.98 449.32,112.73 451.75,113.1C454.18,113.47 457.22,114.33 459.05,115.6C460.88,116.87 462.02,118.63 462.75,120.7C463.48,122.77 463.57,125.57 463.45,128C463.33,130.43 462.53,133.23 462.05,135.3C461.57,137.37 461.53,139.18 460.55,140.4C459.57,141.62 457.62,141.73 456.15,142.6C454.68,143.47 453.45,144.62 451.75,145.6C450.05,146.58 448.13,147.78 445.95,148.5C443.77,149.22 440.85,149.78 438.65,149.9C436.45,150.02 434.1,149.92 432.75,149.2C431.4,148.48 430.92,147.18 430.55,145.6C430.18,144.02 430.67,141.65 430.55,139.7C430.43,137.75 429.72,136.1 429.85,133.9C429.98,131.7 430.62,128.7 431.35,126.5C432.08,124.3 433.28,122.52 434.25,120.7C435.22,118.88 435.45,116.82 437.15,115.6Z" fill="#c0c0c0"/>
<path d="M460.55,98.9C460.88,98.18 461.48,97.8 462.35,97.5C463.22,97.2 464.6,97.05 465.75,97.1C466.9,97.15 468.18,97.4 469.25,97.8C470.32,98.2 471,99.07 472.15,99.5C473.3,99.93 474.9,100.02 476.15,100.4C477.4,100.78 478.68,101.08 479.65,101.8C480.62,102.52 481.38,103.63 481.95,104.7C482.52,105.77 482.95,107.15 483.05,108.2C483.15,109.25 483.12,110.28 482.55,111C481.98,111.72 480.82,112.3 479.65,112.5C478.48,112.7 476.9,112.3 475.55,112.2C474.2,112.1 472.88,112 471.55,111.9C470.22,111.8 468.6,111.83 467.55,111.6C466.5,111.37 465.73,110.95 465.25,110.5C464.77,110.05 464.53,109.3 464.65,108.9C464.77,108.5 465.38,108.25 465.95,108.1C466.52,107.95 467.38,108.13 468.05,108C468.72,107.87 469.62,107.63 469.95,107.3C470.28,106.97 470.37,106.33 470.05,106C469.73,105.67 468.77,105.4 468.05,105.3C467.33,105.2 466.37,105.18 465.75,105.4C465.13,105.62 464.78,106.23 464.35,106.6C463.92,106.97 463.55,107.52 463.15,107.6C462.75,107.68 462.28,107.58 461.95,107.1C461.62,106.62 461.42,105.58 461.15,104.7C460.88,103.82 460.45,102.77 460.35,101.8C460.25,100.83 460.22,99.62 460.55,98.9Z" fill="#d4d4d4"/>
</g>
<path d="M395.75,37.7C397.48,36.88 401.05,36.58 404.05,36.3C407.05,36.02 410.52,35.53 413.75,36C416.98,36.47 421.5,37.43 423.45,39.1C425.4,40.77 425.33,43.47 425.45,46C425.57,48.53 425.18,52.22 424.15,54.3C423.12,56.38 421.22,57.47 419.25,58.5C417.28,59.53 414.2,60.38 412.35,60.5C410.5,60.62 410,59.77 408.15,59.2C406.3,58.63 403.32,58.03 401.25,57.1C399.18,56.17 397.08,55.22 395.75,53.6C394.42,51.98 393.6,49.47 393.25,47.4C392.9,45.33 393.23,42.82 393.65,41.2C394.07,39.58 394.02,38.52 395.75,37.7Z" fill="none" stroke="#424242" stroke-width="1"/>
<path d="M392.95,63.3C394.22,62.25 396.37,62.02 398.45,61.9C400.53,61.78 403.13,62.2 405.45,62.6C407.77,63 410.73,63.72 412.35,64.3C413.97,64.88 413.77,65.5 415.15,66.1C416.53,66.7 419.97,67.28 420.65,67.9C421.33,68.52 420.4,69.3 419.25,69.8C418.1,70.3 415.13,70.25 413.75,70.9C412.37,71.55 412.57,72.88 410.95,73.7C409.33,74.52 406.35,75.57 404.05,75.8C401.75,76.03 399.12,75.68 397.15,75.1C395.18,74.52 393.3,73.45 392.25,72.3C391.2,71.15 390.73,69.7 390.85,68.2C390.97,66.7 391.68,64.35 392.95,63.3Z" fill="none" stroke="#424242" stroke-width="1"/>
<path d="M429.15,62.4C430.17,61.62 431.7,61.3 434.25,61.3C436.8,61.3 441.53,61.87 444.45,62.4C447.37,62.93 449.67,63.65 451.75,64.5C453.83,65.35 455.97,66.27 456.95,67.5C457.93,68.73 457.9,70.68 457.65,71.9C457.4,73.12 455.45,73.72 455.45,74.8C455.45,75.88 457.08,76.93 457.65,78.4C458.22,79.87 458.97,82.02 458.85,83.6C458.73,85.18 458.13,86.82 456.95,87.9C455.77,88.98 453.47,89.85 451.75,90.1C450.03,90.35 447.87,90 446.65,89.4C445.43,88.8 444.93,87.72 444.45,86.5C443.97,85.28 444.72,83.45 443.75,82.1C442.78,80.75 440.72,79.38 438.65,78.4C436.58,77.42 433.07,77.28 431.35,76.2C429.63,75.12 428.88,73.6 428.35,71.9C427.82,70.2 428.02,67.58 428.15,66C428.28,64.42 428.13,63.18 429.15,62.4Z" fill="none" stroke="#424242" stroke-width="1"/>
<path d="M461.25,64.5C462.23,63.72 464.37,63.03 466.45,62.8C468.53,62.57 471.32,62.68 473.75,63.1C476.18,63.52 478.87,64.7 481.05,65.3C483.23,65.9 485.38,65.85 486.85,66.7C488.32,67.55 489.32,68.82 489.85,70.4C490.38,71.98 490.18,74.37 490.05,76.2C489.92,78.03 489.58,80.05 489.05,81.4C488.52,82.75 488.18,83.45 486.85,84.3C485.52,85.15 483.23,86.02 481.05,86.5C478.87,86.98 476.18,87.45 473.75,87.2C471.32,86.95 468.03,85.85 466.45,85C464.87,84.15 464.98,83.2 464.25,82.1C463.52,81 462.62,79.87 462.05,78.4C461.48,76.93 461.1,75.12 460.85,73.3C460.6,71.48 460.48,68.97 460.55,67.5C460.62,66.03 460.27,65.28 461.25,64.5Z" fill="none" stroke="#424242" stroke-width="1"/>
<path d="M367.05,82.7C368.48,81.58 370.73,80.95 372.85,80.6C374.97,80.25 377.63,80.45 379.75,80.6C381.87,80.75 383.82,81.15 385.55,81.5C387.28,81.85 388.8,82.7 390.15,82.7C391.5,82.7 392.58,81.32 393.65,81.5C394.72,81.68 395.98,82.83 396.55,83.8C397.12,84.77 397.25,85.75 397.05,87.3C396.85,88.85 396.12,91.37 395.35,93.1C394.58,94.83 393.7,96.27 392.45,97.7C391.2,99.13 389.38,100.55 387.85,101.7C386.32,102.85 384.98,103.88 383.25,104.6C381.52,105.32 379.37,105.85 377.45,106C375.53,106.15 373.48,106.02 371.75,105.5C370.02,104.98 368.3,104.02 367.05,102.9C365.8,101.78 364.92,100.43 364.25,98.8C363.58,97.17 363.05,95.02 363.05,93.1C363.05,91.18 363.58,89.03 364.25,87.3C364.92,85.57 365.62,83.82 367.05,82.7Z" fill="none" stroke="#424242" stroke-width="1"/>
<path d="M396.85,84.1C397.8,83.05 400.02,83.38 402.05,83C404.08,82.62 406.55,82.18 409.05,81.8C411.55,81.42 414.37,80.95 417.05,80.7C419.73,80.45 422.83,80.12 425.15,80.3C427.47,80.48 429.22,81.07 430.95,81.8C432.68,82.53 434.3,83.63 435.55,84.7C436.8,85.77 437.87,87.05 438.45,88.2C439.03,89.35 439.15,90.45 439.05,91.6C438.95,92.75 438.63,94.23 437.85,95.1C437.07,95.97 435.88,96.23 434.35,96.8C432.82,97.37 430.57,97.73 428.65,98.5C426.73,99.27 425.35,100.67 422.85,101.4C420.35,102.13 416.53,102.57 413.65,102.9C410.77,103.23 408.25,103.4 405.55,103.4C402.85,103.4 399.28,103.33 397.45,102.9C395.62,102.47 394.93,102.1 394.55,100.8C394.17,99.5 394.85,97.02 395.15,95.1C395.45,93.18 396.07,91.13 396.35,89.3C396.63,87.47 395.9,85.15 396.85,84.1Z" fill="none" stroke="#424242" stroke-width="1"/>
<path d="M399.85,111.3C400.97,110.27 403.13,108.82 405.45,107.9C407.77,106.98 410.75,106.27 413.75,105.8C416.75,105.33 421.6,104.65 423.45,105.1C425.3,105.55 424.73,106.77 424.85,108.5C424.97,110.23 424.62,113.42 424.15,115.5C423.68,117.58 423.33,119.8 422.05,121C420.77,122.2 418.77,122.35 416.45,122.7C414.13,123.05 410.68,123.2 408.15,123.1C405.62,123 402.87,122.92 401.25,122.1C399.63,121.28 398.87,119.53 398.45,118.2C398.03,116.87 398.52,115.25 398.75,114.1C398.98,112.95 398.73,112.33 399.85,111.3Z" fill="none" stroke="#424242" stroke-width="1"/>
<path d="M398.45,136.2C399.27,134.77 401.03,133.88 402.65,133.2C404.27,132.52 406.07,132.17 408.15,132.1C410.23,132.03 413.07,132.22 415.15,132.8C417.23,133.38 419.38,134.33 420.65,135.6C421.92,136.87 422.52,138.68 422.75,140.4C422.98,142.12 422.87,144.4 422.05,145.9C421.23,147.4 419.7,148.58 417.85,149.4C416,150.22 413.25,150.68 410.95,150.8C408.65,150.92 405.9,150.68 404.05,150.1C402.2,149.52 400.9,148.68 399.85,147.3C398.8,145.92 397.98,143.65 397.75,141.8C397.52,139.95 397.63,137.63 398.45,136.2Z" fill="none" stroke="#424242" stroke-width="1"/>
<path d="M437.15,115.6C438.85,114.38 442.02,113.82 444.45,113.4C446.88,112.98 449.32,112.73 451.75,113.1C454.18,113.47 457.22,114.33 459.05,115.6C460.88,116.87 462.02,118.63 462.75,120.7C463.48,122.77 463.57,125.57 463.45,128C463.33,130.43 462.53,133.23 462.05,135.3C461.57,137.37 461.53,139.18 460.55,140.4C459.57,141.62 457.62,141.73 456.15,142.6C454.68,143.47 453.45,144.62 451.75,145.6C450.05,146.58 448.13,147.78 445.95,148.5C443.77,149.22 440.85,149.78 438.65,149.9C436.45,150.02 434.1,149.92 432.75,149.2C431.4,148.48 430.92,147.18 430.55,145.6C430.18,144.02 430.67,141.65 430.55,139.7C430.43,137.75 429.72,136.1 429.85,133.9C429.98,131.7 430.62,128.7 431.35,126.5C432.08,124.3 433.28,122.52 434.25,120.7C435.22,118.88 435.45,116.82 437.15,115.6Z" fill="none" stroke="#424242" stroke-width="1"/>
<path d="M460.55,98.9C460.88,98.18 461.48,97.8 462.35,97.5C463.22,97.2 464.6,97.05 465.75,97.1C466.9,97.15 468.18,97.4 469.25,97.8C470.32,98.2 471,99.07 472.15,99.5C473.3,99.93 474.9,100.02 476.15,100.4C477.4,100.78 478.68,101.08 479.65,101.8C480.62,102.52 481.38,103.63 481.95,104.7C482.52,105.77 482.95,107.15 483.05,108.2C483.15,109.25 483.12,110.28 482.55,111C481.98,111.72 480.82,112.3 479.65,112.5C478.48,112.7 476.9,112.3 475.55,112.2C474.2,112.1 472.88,112 471.55,111.9C470.22,111.8 468.6,111.83 467.55,111.6C466.5,111.37 465.73,110.95 465.25,110.5C464.77,110.05 464.53,109.3 464.65,108.9C464.77,108.5 465.38,108.25 465.95,108.1C466.52,107.95 467.38,108.13 468.05,108C468.72,107.87 469.62,107.63 469.95,107.3C470.28,106.97 470.37,106.33 470.05,106C469.73,105.67 468.77,105.4 468.05,105.3C467.33,105.2 466.37,105.18 465.75,105.4C465.13,105.62 464.78,106.23 464.35,106.6C463.92,106.97 463.55,107.52 463.15,107.6C462.75,107.68 462.28,107.58 461.95,107.1C461.62,106.62 461.42,105.58 461.15,104.7C460.88,103.82 460.45,102.77 460.35,101.8C460.25,100.83 460.22,99.62 460.55,98.9Z" fill="none" stroke="#424242" stroke-width="1"/>
<rect x="355.6" y="28.85" width="142" height="127.4" fill="none" stroke="#4a4a4a" stroke-width="1.45"/>
<line x1="365.24" y1="156.5" x2="365.24" y2="159.3" stroke="#333" stroke-width="0.9"/>
<text x="365.24" y="168.8" font-size="7.2" text-anchor="middle" font-family="Liberation Sans, sans-serif" fill="#262626" stroke="#262626" stroke-width="0.26">−30</text>
<line x1="385.01" y1="156.5" x2="385.01" y2="159.3" stroke="#333" stroke-width="0.9"/>
<text x="385.01" y="168.8" font-size="7.2" text-anchor="middle" font-family="Liberation Sans, sans-serif" fill="#262626" stroke="#262626" stroke-width="0.26">−20</text>
<line x1="404.78" y1="156.5" x2="404.78" y2="159.3" stroke="#333" stroke-width="0.9"/>
<text x="404.78" y="168.8" font-size="7.2" text-anchor="middle" font-family="Liberation Sans, sans-serif" fill="#262626" stroke="#262626" stroke-width="0.26">−10</text>
<line x1="424.55" y1="156.5" x2="424.55" y2="159.3" stroke="#333" stroke-width="0.9"/>
<text x="424.55" y="168.8" font-size="7.2" text-anchor="middle" font-family="Liberation Sans, sans-serif" fill="#262626" stroke="#262626" stroke-width="0.26">0</text>
<line x1="444.32" y1="156.5" x2="444.32" y2="159.3" stroke="#333" stroke-width="0.9"/>
<text x="444.32" y="168.8" font-size="7.2" text-anchor="middle" font-family="Liberation Sans, sans-serif" fill="#262626" stroke="#262626" stroke-width="0.26">10</text>
<line x1="464.09" y1="156.5" x2="464.09" y2="159.3" stroke="#333" stroke-width="0.9"/>
<text x="464.09" y="168.8" font-size="7.2" text-anchor="middle" font-family="Liberation Sans, sans-serif" fill="#262626" stroke="#262626" stroke-width="0.26">20</text>
<line x1="483.86" y1="156.5" x2="483.86" y2="159.3" stroke="#333" stroke-width="0.9"/>
<text x="483.86" y="168.8" font-size="7.2" text-anchor="middle" font-family="Liberation Sans, sans-serif" fill="#262626" stroke="#262626" stroke-width="0.26">30</text>
<text x="477.75" y="63.6" font-size="7.2" text-anchor="middle" font-family="Liberation Sans, sans-serif" fill="#262626" stroke="#262626" stroke-width="0.26">4</text>
<line x1="49.5" y1="145.94" x2="53" y2="145.94" stroke="#333" stroke-width="0.9"/>
<text x="47.5" y="148.54" font-size="7.2" text-anchor="end" font-family="Liberation Sans, sans-serif" fill="#262626" stroke="#262626" stroke-width="0.26">−30</text>
<line x1="49.5" y1="128.56" x2="53" y2="128.56" stroke="#333" stroke-width="0.9"/>
<text x="47.5" y="131.16" font-size="7.2" text-anchor="end" font-family="Liberation Sans, sans-serif" fill="#262626" stroke="#262626" stroke-width="0.26">−20</text>
<line x1="49.5" y1="111.18" x2="53" y2="111.18" stroke="#333" stroke-width="0.9"/>
<text x="47.5" y="113.78" font-size="7.2" text-anchor="end" font-family="Liberation Sans, sans-serif" fill="#262626" stroke="#262626" stroke-width="0.26">−10</text>
<line x1="49.5" y1="93.8" x2="53" y2="93.8" stroke="#333" stroke-width="0.9"/>
<text x="47.5" y="96.4" font-size="7.2" text-anchor="end" font-family="Liberation Sans, sans-serif" fill="#262626" stroke="#262626" stroke-width="0.26">0</text>
<line x1="49.5" y1="76.42" x2="53" y2="76.42" stroke="#333" stroke-width="0.9"/>
<text x="47.5" y="79.02" font-size="7.2" text-anchor="end" font-family="Liberation Sans, sans-serif" fill="#262626" stroke="#262626" stroke-width="0.26">10</text>
<line x1="49.5" y1="59.04" x2="53" y2="59.04" stroke="#333" stroke-width="0.9"/>
<text x="47.5" y="61.64" font-size="7.2" text-anchor="end" font-family="Liberation Sans, sans-serif" fill="#262626" stroke="#262626" stroke-width="0.26">20</text>
<line x1="49.5" y1="41.66" x2="53" y2="41.66" stroke="#333" stroke-width="0.9"/>
<text x="47.5" y="44.26" font-size="7.2" text-anchor="end" font-family="Liberation Sans, sans-serif" fill="#262626" stroke="#262626" stroke-width="0.26">30</text>
<text x="0" y="0" font-size="8.9" text-anchor="middle" textLength="27" lengthAdjust="spacingAndGlyphs" font-family="Liberation Sans, sans-serif" fill="#262626" stroke="#262626" stroke-width="0.26" transform="translate(28.8,92.45) rotate(-90)">TSNE 2</text>
<text x="261.5" y="181.7" font-size="8.9" textLength="25.9" lengthAdjust="spacingAndGlyphs" font-family="Liberation Sans, sans-serif" fill="#262626" stroke="#262626" stroke-width="0.26">TSNE 1</text>
<text x="7.5" y="195.2" font-size="10.5" font-family="Liberation Sans, sans-serif" fill="#262626" stroke="#262626" stroke-width="0.26">B</text>
<text x="10" y="207.3" font-size="7.6" textLength="62" lengthAdjust="spacingAndGlyphs" font-family="Liberation Sans, sans-serif" fill="#262626" stroke="#262626" stroke-width="0.26">Cycling tumor cells</text>
<text x="91.1" y="207.3" font-size="7.6" textLength="40.3" lengthAdjust="spacingAndGlyphs" font-family="Liberation Sans, sans-serif" fill="#262626" stroke="#262626" stroke-width="0.26">Normal cells</text>
<text x="41.8" y="259.2" font-size="7.6" textLength="71.3" lengthAdjust="spacingAndGlyphs" font-family="Liberation Sans, sans-serif" fill="#262626" stroke="#262626" stroke-width="0.26">Quiescent tumor cells</text>
<path d="M22,220.5 L22,215.8 L59.2,215.8 L59.2,220.5 M40.8,215.8 L40.8,211" fill="none" stroke="#222" stroke-width="1"/>
<path d="M72.1,220.5 L72.1,215.8 L150.5,215.8 L150.5,220.5 M111.5,215.8 L111.5,211.4" fill="none" stroke="#222" stroke-width="1"/>
<path d="M13,273.2 L13,268.8 L141.9,268.8 L141.9,273.2 M77.5,268.8 L77.5,264.8" fill="none" stroke="#222" stroke-width="1"/>
<path d="M41.4,235.3L54.92,229.28A14.8,14.8 0 0 1 56.2,235.3Z" fill="#962d52"/>
<path d="M41.4,235.3L56.2,235.3A14.8,14.8 0 0 1 55.63,239.38Z" fill="#7a4a8e"/>
<path d="M41.4,235.3L55.63,239.38A14.8,14.8 0 0 1 54.47,242.25Z" fill="#a6d6e0"/>
<path d="M41.4,235.3L54.47,242.25A14.8,14.8 0 0 1 42.69,250.04Z" fill="#e6af78"/>
<path d="M41.4,235.3L42.69,250.04A14.8,14.8 0 0 1 32.29,246.96Z" fill="#d7875f"/>
<path d="M41.4,235.3L32.29,246.96A14.8,14.8 0 1 1 54.92,229.28Z" fill="#b96464"/>
<circle cx="41.4" cy="235.3" r="14.8" fill="none" stroke="#8a5a5a" stroke-width="0.5"/>
<path d="M93.2,235.1L108,235.1A14.8,14.8 0 0 1 78.4,235.1Z" fill="#766496"/>
<path d="M93.2,235.1L78.4,235.1A14.8,14.8 0 0 1 107.89,233.3Z" fill="#628cba"/>
<path d="M93.2,235.1L107.89,233.3A14.8,14.8 0 0 1 107.98,234.33Z" fill="#98c890"/>
<path d="M93.2,235.1L107.98,234.33A14.8,14.8 0 0 1 108,235.1Z" fill="#333"/>
<circle cx="93.2" cy="235.1" r="14.8" fill="none" stroke="#555" stroke-width="0.5"/>
<path d="M130.2,234.9L145,234.9A14.8,14.8 0 0 1 126.27,249.17Z" fill="#8cbeaa"/>
<path d="M130.2,234.9L126.27,249.17A14.8,14.8 0 0 1 117.73,226.93Z" fill="#c0d2aa"/>
<path d="M130.2,234.9L117.73,226.93A14.8,14.8 0 0 1 141.37,225.19Z" fill="#e8e2a0"/>
<path d="M130.2,234.9L141.37,225.19A14.8,14.8 0 0 1 142.02,225.99Z" fill="#4a2a70"/>
<path d="M130.2,234.9L142.02,225.99A14.8,14.8 0 0 1 143.61,228.65Z" fill="#e08c58"/>
<path d="M130.2,234.9L143.61,228.65A14.8,14.8 0 0 1 144.28,230.33Z" fill="#e8a46c"/>
<path d="M130.2,234.9L144.28,230.33A14.8,14.8 0 0 1 145,234.64Z" fill="#c85a5f"/>
<path d="M130.2,234.9L145,234.64A14.8,14.8 0 0 1 145,234.9Z" fill="#334"/>
<circle cx="130.2" cy="234.9" r="14.8" fill="none" stroke="#777" stroke-width="0.5"/>
<path d="M40.9,287.5L55.69,288.02A14.8,14.8 0 1 1 55.7,287.24Z" fill="#7d5189"/>
<path d="M40.9,287.5L55.7,287.24A14.8,14.8 0 0 1 55.69,288.02Z" fill="#3a2a3a"/>
<circle cx="40.9" cy="287.5" r="14.8" fill="none" stroke="#666" stroke-width="0.5"/>
<path d="M77.9,287.5L92.69,288.02A14.8,14.8 0 1 1 92.7,287.24Z" fill="#8d3854"/>
<path d="M77.9,287.5L92.7,287.24A14.8,14.8 0 0 1 92.69,288.02Z" fill="#3a2030"/>
<circle cx="77.9" cy="287.5" r="14.8" fill="none" stroke="#666" stroke-width="0.5"/>
<path d="M115,287.5L129.66,289.56A14.8,14.8 0 1 1 129.66,285.44Z" fill="#aac8ce"/>
<path d="M115,287.5L129.66,285.44A14.8,14.8 0 0 1 129.76,286.47Z" fill="#d08060"/>
<path d="M115,287.5L129.76,286.47A14.8,14.8 0 0 1 129.8,287.5Z" fill="#ffffff"/>
<path d="M115,287.5L129.8,287.5A14.8,14.8 0 0 1 129.76,288.53Z" fill="#c05050"/>
<path d="M115,287.5L129.76,288.53A14.8,14.8 0 0 1 129.66,289.56Z" fill="#8a5aa0"/>
<circle cx="115" cy="287.5" r="14.8" fill="none" stroke="#666" stroke-width="0.5"/>
<path d="M29.9,320.6L44.69,321.12A14.8,14.8 0 1 1 44.7,320.34Z" fill="#8c3852"/>
<path d="M29.9,320.6L44.7,320.34A14.8,14.8 0 0 1 44.69,321.12Z" fill="#555"/>
<circle cx="29.9" cy="320.6" r="14.8" fill="none" stroke="#666" stroke-width="0.5"/>
<path d="M62.8,320.6L76.52,326.14A14.8,14.8 0 1 1 77.52,319.05Z" fill="#e4ac78"/>
<path d="M62.8,320.6L77.52,319.05A14.8,14.8 0 0 1 77.6,320.6Z" fill="#9ac8d8"/>
<path d="M62.8,320.6L77.6,320.6A14.8,14.8 0 0 1 77.52,322.15Z" fill="#6a8ac0"/>
<path d="M62.8,320.6L77.52,322.15A14.8,14.8 0 0 1 77.16,324.18Z" fill="#6a4a9a"/>
<path d="M62.8,320.6L77.16,324.18A14.8,14.8 0 0 1 76.52,326.14Z" fill="#9a5ab0"/>
<circle cx="62.8" cy="320.6" r="14.8" fill="none" stroke="#666" stroke-width="0.5"/>
<path d="M95.9,320.6L110.69,321.12A14.8,14.8 0 1 1 110.7,320.34Z" fill="#cc7e60"/>
<path d="M95.9,320.6L110.7,320.34A14.8,14.8 0 0 1 110.69,321.12Z" fill="#333"/>
<circle cx="95.9" cy="320.6" r="14.8" fill="none" stroke="#666" stroke-width="0.5"/>
<path d="M128.7,320.6L143.49,321.12A14.8,14.8 0 1 1 143.5,320.34Z" fill="#b66363"/>
<path d="M128.7,320.6L143.5,320.34A14.8,14.8 0 0 1 143.49,321.12Z" fill="#555"/>
<circle cx="128.7" cy="320.6" r="14.8" fill="none" stroke="#666" stroke-width="0.5"/>
<text x="53.8" y="223.5" font-size="7.6" text-anchor="middle" font-family="Liberation Sans, sans-serif" fill="#262626" stroke="#262626" stroke-width="0.26">9</text>
<text x="107.5" y="223.5" font-size="7.6" text-anchor="middle" font-family="Liberation Sans, sans-serif" fill="#262626" stroke="#262626" stroke-width="0.26">4</text>
<text x="144.2" y="223.5" font-size="7.6" text-anchor="middle" font-family="Liberation Sans, sans-serif" fill="#262626" stroke="#262626" stroke-width="0.26">5</text>
<text x="53" y="275.6" font-size="7.6" text-anchor="middle" font-family="Liberation Sans, sans-serif" fill="#262626" stroke="#262626" stroke-width="0.26">6</text>
<text x="91.8" y="275.6" font-size="7.6" text-anchor="middle" font-family="Liberation Sans, sans-serif" fill="#262626" stroke="#262626" stroke-width="0.26">7</text>
<text x="128.6" y="275.6" font-size="7.6" text-anchor="middle" font-family="Liberation Sans, sans-serif" fill="#262626" stroke="#262626" stroke-width="0.26">8</text>
<text x="42.8" y="308.8" font-size="7.6" text-anchor="middle" font-family="Liberation Sans, sans-serif" fill="#262626" stroke="#262626" stroke-width="0.26">0</text>
<text x="75.8" y="308.8" font-size="7.6" text-anchor="middle" font-family="Liberation Sans, sans-serif" fill="#262626" stroke="#262626" stroke-width="0.26">1</text>
<text x="109" y="308.8" font-size="7.6" text-anchor="middle" font-family="Liberation Sans, sans-serif" fill="#262626" stroke="#262626" stroke-width="0.26">2</text>
<text x="142" y="308.8" font-size="7.6" text-anchor="middle" font-family="Liberation Sans, sans-serif" fill="#262626" stroke="#262626" stroke-width="0.26">3</text>
<text x="156.9" y="195.3" font-size="10.5" font-family="Liberation Sans, sans-serif" fill="#262626" stroke="#262626" stroke-width="0.26">C</text>
<g opacity="0.85">
<rect x="224.17" y="218.46" width="0.9" height="0.9" fill="#e8b840"/>
<rect x="223.38" y="222.47" width="0.9" height="0.9" fill="#ecb43a"/>
<rect x="221.11" y="221.46" width="0.9" height="0.9" fill="#f0c840"/>
<rect x="221.97" y="222.94" width="0.9" height="0.9" fill="#dc9030"/>
<rect x="221.62" y="222.35" width="0.9" height="0.9" fill="#e8b840"/>
<rect x="223.75" y="221.34" width="0.9" height="0.9" fill="#e8b840"/>
<rect x="219.86" y="221.46" width="0.9" height="0.9" fill="#e4a838"/>
<rect x="222.15" y="218.4" width="0.9" height="0.9" fill="#e8b840"/>
<rect x="220.28" y="218.55" width="0.9" height="0.9" fill="#dc9030"/>
<rect x="222.45" y="228.7" width="0.9" height="0.9" fill="#dc9030"/>
<rect x="222.09" y="217.15" width="0.9" height="0.9" fill="#dc9030"/>
<rect x="221.52" y="229.75" width="0.9" height="0.9" fill="#dc9030"/>
<rect x="223.48" y="224.83" width="0.9" height="0.9" fill="#ecb43a"/>
<rect x="220.59" y="219.12" width="0.9" height="0.9" fill="#f0c840"/>
<rect x="222.44" y="225.08" width="0.9" height="0.9" fill="#e4a838"/>
<rect x="221.17" y="216.89" width="0.9" height="0.9" fill="#dc9030"/>
<rect x="222.59" y="223.65" width="0.9" height="0.9" fill="#e8b840"/>
<rect x="219.79" y="218.79" width="0.9" height="0.9" fill="#e4a838"/>
<rect x="222.62" y="217.84" width="0.9" height="0.9" fill="#e4a838"/>
<rect x="223.49" y="218.54" width="0.9" height="0.9" fill="#ecb43a"/>
<rect x="235.16" y="238.27" width="0.9" height="0.9" fill="#e8b840"/>
<rect x="237.48" y="238.15" width="0.9" height="0.9" fill="#ecb43a"/>
<rect x="240.56" y="239.6" width="0.9" height="0.9" fill="#dc9030"/>
<rect x="245" y="239.05" width="0.9" height="0.9" fill="#ecb43a"/>
<rect x="242.34" y="238.44" width="0.9" height="0.9" fill="#ecb43a"/>
<rect x="236.84" y="238.88" width="0.9" height="0.9" fill="#f0c840"/>
<rect x="236.21" y="237.13" width="0.9" height="0.9" fill="#e8b840"/>
<rect x="230.35" y="238.14" width="0.9" height="0.9" fill="#e8b840"/>
<rect x="234.39" y="239.72" width="0.9" height="0.9" fill="#ecb43a"/>
<rect x="238.08" y="238.52" width="0.9" height="0.9" fill="#e4a838"/>
<rect x="235.67" y="238.64" width="0.9" height="0.9" fill="#ecb43a"/>
<rect x="244.42" y="238.29" width="0.9" height="0.9" fill="#e8b840"/>
<rect x="232.44" y="238.08" width="0.9" height="0.9" fill="#dc9030"/>
<rect x="235.44" y="238.24" width="0.9" height="0.9" fill="#e8b840"/>
<rect x="231.63" y="239.17" width="0.9" height="0.9" fill="#ecb43a"/>
<rect x="240.61" y="237.29" width="0.9" height="0.9" fill="#ecb43a"/>
<rect x="243.69" y="237.19" width="0.9" height="0.9" fill="#ecb43a"/>
<rect x="248.88" y="239.12" width="0.9" height="0.9" fill="#f0c840"/>
<rect x="233.75" y="238.22" width="0.9" height="0.9" fill="#e4a838"/>
<rect x="241.01" y="237.39" width="0.9" height="0.9" fill="#dc9030"/>
<rect x="227.52" y="269.87" width="0.9" height="0.9" fill="#e8b840"/>
<rect x="224.83" y="263.34" width="0.9" height="0.9" fill="#dc9030"/>
<rect x="225.74" y="260.85" width="0.9" height="0.9" fill="#f0c840"/>
<rect x="226.8" y="267.08" width="0.9" height="0.9" fill="#dc9030"/>
<rect x="225.62" y="264.56" width="0.9" height="0.9" fill="#dc9030"/>
<rect x="228.59" y="265.41" width="0.9" height="0.9" fill="#e4a838"/>
<rect x="227.84" y="268.17" width="0.9" height="0.9" fill="#f0c840"/>
<rect x="225.99" y="261.03" width="0.9" height="0.9" fill="#e8b840"/>
<rect x="226.93" y="274.53" width="0.9" height="0.9" fill="#ecb43a"/>
<rect x="227.87" y="266" width="0.9" height="0.9" fill="#e4a838"/>
<rect x="223.53" y="269.13" width="0.9" height="0.9" fill="#dc9030"/>
<rect x="225.77" y="263.44" width="0.9" height="0.9" fill="#dc9030"/>
<rect x="225.16" y="277.96" width="0.9" height="0.9" fill="#e8b840"/>
<rect x="226.11" y="270.71" width="0.9" height="0.9" fill="#ecb43a"/>
<rect x="225.71" y="269.02" width="0.9" height="0.9" fill="#ecb43a"/>
<rect x="224.72" y="264.36" width="0.9" height="0.9" fill="#e4a838"/>
<rect x="223.75" y="273.42" width="0.9" height="0.9" fill="#e4a838"/>
<rect x="227.7" y="266.39" width="0.9" height="0.9" fill="#ecb43a"/>
<rect x="228.72" y="270.75" width="0.9" height="0.9" fill="#ecb43a"/>
<rect x="226.1" y="257.67" width="0.9" height="0.9" fill="#dc9030"/>
<rect x="225.84" y="271.23" width="0.9" height="0.9" fill="#f0c840"/>
<rect x="228.34" y="261.2" width="0.9" height="0.9" fill="#f0c840"/>
<rect x="225" y="267.94" width="0.9" height="0.9" fill="#ecb43a"/>
<rect x="227.58" y="267.63" width="0.9" height="0.9" fill="#ecb43a"/>
<rect x="226.58" y="268.1" width="0.9" height="0.9" fill="#e8b840"/>
<rect x="226.04" y="278.9" width="0.9" height="0.9" fill="#ecb43a"/>
<rect x="228.6" y="270.62" width="0.9" height="0.9" fill="#e4a838"/>
<rect x="226.69" y="275.87" width="0.9" height="0.9" fill="#dc9030"/>
<rect x="226.47" y="265.18" width="0.9" height="0.9" fill="#dc9030"/>
<rect x="224.04" y="273.52" width="0.9" height="0.9" fill="#e4a838"/>
<rect x="222.87" y="254.86" width="0.9" height="0.9" fill="#dc9030"/>
<rect x="219.78" y="256.73" width="0.9" height="0.9" fill="#f0c840"/>
<rect x="218.67" y="254.93" width="0.9" height="0.9" fill="#f0c840"/>
<rect x="219.94" y="254.55" width="0.9" height="0.9" fill="#e4a838"/>
<rect x="207.05" y="254.25" width="0.9" height="0.9" fill="#e8b840"/>
<rect x="208.86" y="254.07" width="0.9" height="0.9" fill="#e4a838"/>
<rect x="220.82" y="255.22" width="0.9" height="0.9" fill="#f0c840"/>
<rect x="217.83" y="254.29" width="0.9" height="0.9" fill="#ecb43a"/>
<rect x="223.69" y="254.91" width="0.9" height="0.9" fill="#f0c840"/>
<rect x="205.93" y="254.61" width="0.9" height="0.9" fill="#ecb43a"/>
<rect x="211.23" y="253.75" width="0.9" height="0.9" fill="#f0c840"/>
<rect x="214.69" y="253.08" width="0.9" height="0.9" fill="#e4a838"/>
<rect x="207.18" y="255.44" width="0.9" height="0.9" fill="#f0c840"/>
<rect x="208.85" y="256.55" width="0.9" height="0.9" fill="#e4a838"/>
<rect x="215.97" y="254.65" width="0.9" height="0.9" fill="#ecb43a"/>
<rect x="212.3" y="255.74" width="0.9" height="0.9" fill="#dc9030"/>
<rect x="217.96" y="255.96" width="0.9" height="0.9" fill="#ecb43a"/>
<rect x="220.24" y="255.4" width="0.9" height="0.9" fill="#ecb43a"/>
<rect x="211.06" y="255.14" width="0.9" height="0.9" fill="#ecb43a"/>
<rect x="208.47" y="256.45" width="0.9" height="0.9" fill="#e8b840"/>
<rect x="270.72" y="258.48" width="0.9" height="0.9" fill="#f0c840"/>
<rect x="270.05" y="264.16" width="0.9" height="0.9" fill="#ecb43a"/>
<rect x="274.87" y="261.11" width="0.9" height="0.9" fill="#dc9030"/>
<rect x="269.55" y="258.02" width="0.9" height="0.9" fill="#f0c840"/>
<rect x="275.46" y="259.1" width="0.9" height="0.9" fill="#ecb43a"/>
<rect x="274.68" y="261.52" width="0.9" height="0.9" fill="#e8b840"/>
<rect x="270.08" y="264.34" width="0.9" height="0.9" fill="#e8b840"/>
<rect x="271.79" y="258.12" width="0.9" height="0.9" fill="#e4a838"/>
<rect x="275.4" y="261.18" width="0.9" height="0.9" fill="#e4a838"/>
<rect x="271.71" y="259.77" width="0.9" height="0.9" fill="#e8b840"/>
<rect x="272.03" y="256.59" width="0.9" height="0.9" fill="#ecb43a"/>
<rect x="270.66" y="261.45" width="0.9" height="0.9" fill="#e8b840"/>
<rect x="269.06" y="264.3" width="0.9" height="0.9" fill="#e4a838"/>
<rect x="272.39" y="262.54" width="0.9" height="0.9" fill="#dc9030"/>
<rect x="269.71" y="259.29" width="0.9" height="0.9" fill="#f0c840"/>
<rect x="274.11" y="257.74" width="0.9" height="0.9" fill="#e4a838"/>
<rect x="271.75" y="265.18" width="0.9" height="0.9" fill="#ecb43a"/>
<rect x="275.3" y="258.96" width="0.9" height="0.9" fill="#dc9030"/>
<rect x="270.9" y="267.65" width="0.9" height="0.9" fill="#e8b840"/>
<rect x="272.61" y="266.82" width="0.9" height="0.9" fill="#dc9030"/>
<rect x="260.7" y="282.36" width="0.9" height="0.9" fill="#f0c840"/>
<rect x="253" y="280.42" width="0.9" height="0.9" fill="#e4a838"/>
<rect x="258.92" y="280.87" width="0.9" height="0.9" fill="#dc9030"/>
<rect x="258.01" y="281.27" width="0.9" height="0.9" fill="#e8b840"/>
<rect x="252.79" y="279.08" width="0.9" height="0.9" fill="#e8b840"/>
<rect x="248.76" y="280.92" width="0.9" height="0.9" fill="#dc9030"/>
<rect x="246.57" y="281.75" width="0.9" height="0.9" fill="#e8b840"/>
<rect x="258.78" y="280.37" width="0.9" height="0.9" fill="#e8b840"/>
<rect x="252.6" y="280.39" width="0.9" height="0.9" fill="#f0c840"/>
<rect x="244.73" y="281.12" width="0.9" height="0.9" fill="#f0c840"/>
<rect x="254.28" y="282.92" width="0.9" height="0.9" fill="#dc9030"/>
<rect x="258.82" y="279.38" width="0.9" height="0.9" fill="#dc9030"/>
<rect x="255.41" y="279.7" width="0.9" height="0.9" fill="#e8b840"/>
<rect x="252.07" y="280.44" width="0.9" height="0.9" fill="#e8b840"/>
<rect x="249.43" y="282.21" width="0.9" height="0.9" fill="#dc9030"/>
<rect x="243.92" y="280.3" width="0.9" height="0.9" fill="#e8b840"/>
<rect x="257.08" y="280.54" width="0.9" height="0.9" fill="#e4a838"/>
<rect x="252.71" y="282.65" width="0.9" height="0.9" fill="#e8b840"/>
<rect x="257.71" y="280.21" width="0.9" height="0.9" fill="#e8b840"/>
<rect x="257.8" y="281.58" width="0.9" height="0.9" fill="#dc9030"/>
<rect x="253.06" y="280.42" width="0.9" height="0.9" fill="#ecb43a"/>
<rect x="255.07" y="280.11" width="0.9" height="0.9" fill="#f0c840"/>
<rect x="246.29" y="280.8" width="0.9" height="0.9" fill="#dc9030"/>
<rect x="245.86" y="279.88" width="0.9" height="0.9" fill="#f0c840"/>
<rect x="282.74" y="275.38" width="0.9" height="0.9" fill="#dc9030"/>
<rect x="286.21" y="280.67" width="0.9" height="0.9" fill="#f0c840"/>
<rect x="284.92" y="280.61" width="0.9" height="0.9" fill="#e8b840"/>
<rect x="281.97" y="282.08" width="0.9" height="0.9" fill="#e4a838"/>
<rect x="280.36" y="276.12" width="0.9" height="0.9" fill="#f0c840"/>
<rect x="284.76" y="281.81" width="0.9" height="0.9" fill="#ecb43a"/>
<rect x="276.13" y="278.6" width="0.9" height="0.9" fill="#dc9030"/>
<rect x="281.55" y="274.65" width="0.9" height="0.9" fill="#dc9030"/>
<rect x="271.69" y="274.72" width="0.9" height="0.9" fill="#f0c840"/>
<rect x="279.66" y="275.66" width="0.9" height="0.9" fill="#dc9030"/>
<rect x="278.76" y="278.76" width="0.9" height="0.9" fill="#e8b840"/>
<rect x="277.82" y="278.46" width="0.9" height="0.9" fill="#e4a838"/>
<rect x="277.35" y="280.21" width="0.9" height="0.9" fill="#e4a838"/>
<rect x="277.2" y="283.1" width="0.9" height="0.9" fill="#ecb43a"/>
<rect x="280.8" y="276.12" width="0.9" height="0.9" fill="#dc9030"/>
<rect x="276.93" y="274.81" width="0.9" height="0.9" fill="#e8b840"/>
<rect x="284.3" y="283" width="0.9" height="0.9" fill="#e8b840"/>
<rect x="289.16" y="278.83" width="0.9" height="0.9" fill="#e4a838"/>
<rect x="278.86" y="276.17" width="0.9" height="0.9" fill="#e4a838"/>
<rect x="287.52" y="276.44" width="0.9" height="0.9" fill="#f0c840"/>
<rect x="276.99" y="279.15" width="0.9" height="0.9" fill="#e4a838"/>
<rect x="270.34" y="277.17" width="0.9" height="0.9" fill="#dc9030"/>
<rect x="272.8" y="275.98" width="0.9" height="0.9" fill="#dc9030"/>
<rect x="273.03" y="281.02" width="0.9" height="0.9" fill="#dc9030"/>
<rect x="261.7" y="300.07" width="0.9" height="0.9" fill="#f0c840"/>
<rect x="263.15" y="289.82" width="0.9" height="0.9" fill="#e4a838"/>
<rect x="259.32" y="293.31" width="0.9" height="0.9" fill="#ecb43a"/>
<rect x="260.29" y="299.65" width="0.9" height="0.9" fill="#ecb43a"/>
<rect x="260.6" y="290.25" width="0.9" height="0.9" fill="#e4a838"/>
<rect x="262.18" y="295.74" width="0.9" height="0.9" fill="#dc9030"/>
<rect x="262.42" y="300.9" width="0.9" height="0.9" fill="#ecb43a"/>
<rect x="264.16" y="291.65" width="0.9" height="0.9" fill="#dc9030"/>
<rect x="263.98" y="297.64" width="0.9" height="0.9" fill="#e4a838"/>
<rect x="261.89" y="300.77" width="0.9" height="0.9" fill="#f0c840"/>
<rect x="260.86" y="289.51" width="0.9" height="0.9" fill="#f0c840"/>
<rect x="260.3" y="295.18" width="0.9" height="0.9" fill="#ecb43a"/>
<rect x="260.82" y="298.74" width="0.9" height="0.9" fill="#dc9030"/>
<rect x="259.68" y="297.32" width="0.9" height="0.9" fill="#ecb43a"/>
<rect x="254.94" y="301.08" width="0.9" height="0.9" fill="#e8b840"/>
<rect x="252.62" y="302.28" width="0.9" height="0.9" fill="#f0c840"/>
<rect x="253.94" y="302.88" width="0.9" height="0.9" fill="#f0c840"/>
<rect x="248.44" y="302.5" width="0.9" height="0.9" fill="#e4a838"/>
<rect x="247" y="303.31" width="0.9" height="0.9" fill="#ecb43a"/>
<rect x="256.94" y="301.01" width="0.9" height="0.9" fill="#f0c840"/>
<rect x="254.17" y="300.6" width="0.9" height="0.9" fill="#dc9030"/>
<rect x="249.9" y="300.94" width="0.9" height="0.9" fill="#dc9030"/>
<rect x="256.3" y="302.37" width="0.9" height="0.9" fill="#f0c840"/>
<rect x="249.1" y="300.18" width="0.9" height="0.9" fill="#ecb43a"/>
<rect x="243.81" y="301.59" width="0.9" height="0.9" fill="#e8b840"/>
<rect x="250.65" y="302.16" width="0.9" height="0.9" fill="#e4a838"/>
<rect x="256.31" y="301.05" width="0.9" height="0.9" fill="#ecb43a"/>
<rect x="251.08" y="300.55" width="0.9" height="0.9" fill="#f0c840"/>
<rect x="257.04" y="315.08" width="0.9" height="0.9" fill="#e8b840"/>
<rect x="257.32" y="325.02" width="0.9" height="0.9" fill="#f0c840"/>
<rect x="261.07" y="323.05" width="0.9" height="0.9" fill="#dc9030"/>
<rect x="258.17" y="317.71" width="0.9" height="0.9" fill="#e4a838"/>
<rect x="257.89" y="323.78" width="0.9" height="0.9" fill="#f0c840"/>
<rect x="260.31" y="311.51" width="0.9" height="0.9" fill="#ecb43a"/>
<rect x="258.34" y="315.36" width="0.9" height="0.9" fill="#f0c840"/>
<rect x="261.64" y="314.96" width="0.9" height="0.9" fill="#ecb43a"/>
<rect x="260.49" y="322.72" width="0.9" height="0.9" fill="#e4a838"/>
<rect x="259.55" y="324.6" width="0.9" height="0.9" fill="#f0c840"/>
<rect x="258.07" y="318.66" width="0.9" height="0.9" fill="#e4a838"/>
<rect x="255.43" y="317.54" width="0.9" height="0.9" fill="#f0c840"/>
<rect x="256.49" y="319.88" width="0.9" height="0.9" fill="#e8b840"/>
<rect x="259.28" y="310.86" width="0.9" height="0.9" fill="#e8b840"/>
<rect x="257.96" y="317.57" width="0.9" height="0.9" fill="#e4a838"/>
<rect x="260.94" y="319.47" width="0.9" height="0.9" fill="#dc9030"/>
<rect x="318.06" y="262.91" width="0.9" height="0.9" fill="#ecb43a"/>
<rect x="322.49" y="260.16" width="0.9" height="0.9" fill="#f0c840"/>
<rect x="319.56" y="264.62" width="0.9" height="0.9" fill="#f0c840"/>
<rect x="320.98" y="262.02" width="0.9" height="0.9" fill="#e8b840"/>
<rect x="321.72" y="262.75" width="0.9" height="0.9" fill="#f0c840"/>
<rect x="321.95" y="259.97" width="0.9" height="0.9" fill="#ecb43a"/>
<rect x="317.23" y="261.62" width="0.9" height="0.9" fill="#dc9030"/>
<rect x="319.27" y="259.37" width="0.9" height="0.9" fill="#e8b840"/>
<rect x="318.44" y="261.59" width="0.9" height="0.9" fill="#e4a838"/>
<rect x="316.84" y="261.92" width="0.9" height="0.9" fill="#e8b840"/>
<rect x="289.22" y="298.31" width="0.9" height="0.9" fill="#dc9030"/>
<rect x="290.36" y="299.3" width="0.9" height="0.9" fill="#dc9030"/>
<rect x="287.89" y="298.03" width="0.9" height="0.9" fill="#dc9030"/>
<rect x="293.01" y="293.98" width="0.9" height="0.9" fill="#ecb43a"/>
<rect x="289.8" y="302.71" width="0.9" height="0.9" fill="#e4a838"/>
<rect x="292.86" y="294.43" width="0.9" height="0.9" fill="#e4a838"/>
<rect x="288.87" y="295.06" width="0.9" height="0.9" fill="#e4a838"/>
<rect x="290.07" y="306.69" width="0.9" height="0.9" fill="#ecb43a"/>
<rect x="228.33" y="306.85" width="0.9" height="0.9" fill="#e8b840"/>
<rect x="231.07" y="304.77" width="0.9" height="0.9" fill="#dc9030"/>
<rect x="225.28" y="305.35" width="0.9" height="0.9" fill="#f0c840"/>
<rect x="223.02" y="302.63" width="0.9" height="0.9" fill="#f0c840"/>
<rect x="228.63" y="305.93" width="0.9" height="0.9" fill="#e8b840"/>
<rect x="224.12" y="303.48" width="0.9" height="0.9" fill="#e8b840"/>
<rect x="226.36" y="304.1" width="0.9" height="0.9" fill="#e8b840"/>
<rect x="222.48" y="303.56" width="0.9" height="0.9" fill="#f0c840"/>
<rect x="296.52" y="238.36" width="0.9" height="0.9" fill="#f0c840"/>
<rect x="290.58" y="237.74" width="0.9" height="0.9" fill="#dc9030"/>
<rect x="292.91" y="238.81" width="0.9" height="0.9" fill="#e4a838"/>
<rect x="293.84" y="238.62" width="0.9" height="0.9" fill="#dc9030"/>
<rect x="295.1" y="239.58" width="0.9" height="0.9" fill="#ecb43a"/>
<rect x="294.86" y="239.43" width="0.9" height="0.9" fill="#e8b840"/>
<rect x="296.62" y="238.53" width="0.9" height="0.9" fill="#ecb43a"/>
<rect x="293.2" y="238.93" width="0.9" height="0.9" fill="#e4a838"/>
<rect x="234.48" y="259.54" width="0.9" height="0.9" fill="#e8b840"/>
<rect x="227.1" y="257.27" width="0.9" height="0.9" fill="#ecb43a"/>
<rect x="233.03" y="259.66" width="0.9" height="0.9" fill="#dc9030"/>
<rect x="232.58" y="256.77" width="0.9" height="0.9" fill="#dc9030"/>
<rect x="229.19" y="258.19" width="0.9" height="0.9" fill="#e4a838"/>
<rect x="227.38" y="256.47" width="0.9" height="0.9" fill="#ecb43a"/>
<rect x="228.23" y="259.47" width="0.9" height="0.9" fill="#e4a838"/>
<rect x="235.8" y="257.6" width="0.9" height="0.9" fill="#e4a838"/>
<rect x="232.86" y="257.37" width="0.9" height="0.9" fill="#e4a838"/>
<rect x="227.3" y="257.44" width="0.9" height="0.9" fill="#dc9030"/>
<rect x="231.08" y="258.6" width="0.9" height="0.9" fill="#dc9030"/>
<rect x="236.07" y="258.39" width="0.9" height="0.9" fill="#e4a838"/>
<rect x="232.41" y="258.25" width="0.9" height="0.9" fill="#e8b840"/>
<rect x="232.46" y="259.37" width="0.9" height="0.9" fill="#e4a838"/>
<rect x="269.27" y="284.32" width="0.9" height="0.9" fill="#e8b840"/>
<rect x="269.01" y="283.73" width="0.9" height="0.9" fill="#dc9030"/>
<rect x="269.04" y="284.04" width="0.9" height="0.9" fill="#e4a838"/>
<rect x="269.02" y="281.02" width="0.9" height="0.9" fill="#ecb43a"/>
<rect x="270.23" y="281.21" width="0.9" height="0.9" fill="#dc9030"/>
<rect x="268.62" y="280.07" width="0.9" height="0.9" fill="#dc9030"/>
<rect x="268.85" y="283.31" width="0.9" height="0.9" fill="#f0c840"/>
<rect x="267.86" y="279.74" width="0.9" height="0.9" fill="#dc9030"/>
<rect x="269.49" y="279.74" width="0.9" height="0.9" fill="#ecb43a"/>
<rect x="268.01" y="284.61" width="0.9" height="0.9" fill="#ecb43a"/>
</g>
<g filter="url(#cfx)">
<path d="M226.2,216.4C228.4,214.9 233.55,212.42 237.2,211.5C240.85,210.58 244.7,210.08 248.1,210.9C251.5,211.72 255.55,214.12 257.6,216.4C259.65,218.68 260.17,222.1 260.4,224.6C260.63,227.1 260.15,229.58 259,231.4C257.85,233.22 255.78,234.45 253.5,235.5C251.22,236.55 248.02,237.47 245.3,237.7C242.58,237.93 239.92,237.72 237.2,236.9C234.48,236.08 231.05,234.63 229,232.8C226.95,230.97 225.73,227.95 224.9,225.9C224.07,223.85 223.78,222.08 224,220.5C224.22,218.92 224,217.9 226.2,216.4Z" fill="#ecbe40"/>
<path d="M226.2,239.6C227.93,238.23 231.67,238.2 234.4,238.2C237.13,238.2 240.32,238.92 242.6,239.6C244.88,240.28 246.5,241.48 248.1,242.3C249.7,243.12 252.43,243.82 252.2,244.5C251.97,245.18 248.3,245.4 246.7,246.4C245.1,247.4 244.65,249.5 242.6,250.5C240.55,251.5 236.9,252.27 234.4,252.4C231.9,252.53 229.33,252.3 227.6,251.3C225.87,250.3 224.23,248.35 224,246.4C223.77,244.45 224.47,240.97 226.2,239.6Z" fill="#f0ca44"/>
<path d="M260.4,241C262.22,239.4 266.5,238.43 269.9,238.2C273.3,237.97 277.62,238.68 280.8,239.6C283.98,240.52 287.4,241.65 289,243.7C290.6,245.75 291.08,250.08 290.4,251.9C289.72,253.72 284.67,253.7 284.9,254.6C285.13,255.5 290.57,255.7 291.8,257.3C293.03,258.9 292.98,262.6 292.3,264.2C291.62,265.8 289.38,266.68 287.7,266.9C286.02,267.12 283.57,266.87 282.2,265.5C280.83,264.13 281.08,260.28 279.5,258.7C277.92,257.12 275.43,256.92 272.7,256C269.97,255.08 265.38,254.57 263.1,253.2C260.82,251.83 259.45,249.83 259,247.8C258.55,245.77 258.58,242.6 260.4,241Z" fill="#eec842"/>
<g clip-path="url(#c5c)"><rect x="276" y="256" width="20" height="14" fill="#f3d040"/></g>
<path d="M295.9,241C297.8,239.98 302,238.55 305.4,239C308.8,239.45 313.57,242 316.3,243.7C319.03,245.4 320.43,247.15 321.8,249.2C323.17,251.25 324.95,253.97 324.5,256C324.05,258.03 321.37,260.03 319.1,261.4C316.83,262.77 313.63,263.97 310.9,264.2C308.17,264.43 304.98,263.72 302.7,262.8C300.42,261.88 298.65,260.52 297.2,258.7C295.75,256.88 294.53,254.17 294,251.9C293.47,249.63 293.68,246.92 294,245.1C294.32,243.28 294,242.02 295.9,241Z" fill="#e9b63e"/>
<path d="M198.9,258.7C201.62,257.12 206.62,256.2 209.8,256C212.98,255.8 215.72,256.5 218,257.5C220.28,258.5 222.33,259.98 223.5,262C224.67,264.02 225.17,267.1 225,269.6C224.83,272.1 223.83,275.02 222.5,277C221.17,278.98 219.12,280.45 217,281.5C214.88,282.55 212.58,283.45 209.8,283.3C207.02,283.15 202.8,282.42 200.3,280.6C197.8,278.78 195.93,274.92 194.8,272.4C193.67,269.88 192.82,267.78 193.5,265.5C194.18,263.22 196.18,260.28 198.9,258.7Z" fill="#edc040"/>
<path d="M231.7,262.8C234.2,260.98 238.97,259.83 242.6,258.7C246.23,257.57 249.85,256.23 253.5,256C257.15,255.77 261.77,256.17 264.5,257.3C267.23,258.43 268.77,260.75 269.9,262.8C271.03,264.85 271.98,267.55 271.3,269.6C270.62,271.65 268.3,273.73 265.8,275.1C263.3,276.47 259.72,277.03 256.3,277.8C252.88,278.57 248.72,279.23 245.3,279.7C241.88,280.17 238.52,280.92 235.8,280.6C233.08,280.28 230.37,279.63 229,277.8C227.63,275.97 227.15,272.1 227.6,269.6C228.05,267.1 229.2,264.62 231.7,262.8Z" fill="#edbe40"/>
<path d="M233.1,290.1C234.57,288.6 237.17,286.47 239.9,285.2C242.63,283.93 246.57,283.07 249.5,282.5C252.43,281.93 255.92,280.98 257.5,281.8C259.08,282.62 259.05,285.33 259,287.4C258.95,289.47 258.45,292.35 257.2,294.2C255.95,296.05 253.93,297.53 251.5,298.5C249.07,299.47 245.45,300.03 242.6,300C239.75,299.97 236.32,299.27 234.4,298.3C232.48,297.33 231.32,295.57 231.1,294.2C230.88,292.83 231.63,291.6 233.1,290.1Z" fill="#eab83e"/>
<path d="M267.2,294.2C268.93,292.6 272.22,289.47 275.4,288.7C278.58,287.93 282.88,288.68 286.3,289.6C289.72,290.52 293.85,292.07 295.9,294.2C297.95,296.33 298.6,299.9 298.6,302.4C298.6,304.9 297.5,307.38 295.9,309.2C294.3,311.02 291.28,311.93 289,313.3C286.72,314.67 284.47,315.35 282.2,317.4C279.93,319.45 277.9,324 275.4,325.6C272.9,327.2 269.25,327.68 267.2,327C265.15,326.32 263.55,323.78 263.1,321.5C262.65,319.22 264.5,316.03 264.5,313.3C264.5,310.57 263.02,307.6 263.1,305.1C263.18,302.6 264.32,300.12 265,298.3C265.68,296.48 265.47,295.8 267.2,294.2Z" fill="#e7b040"/>
<path d="M231.7,310.6C233.43,309.23 236.95,308.13 239.9,307.9C242.85,307.67 247.13,308.07 249.4,309.2C251.67,310.33 252.82,312.42 253.5,314.7C254.18,316.98 254.63,320.63 253.5,322.9C252.37,325.17 249.42,327.48 246.7,328.3C243.98,329.12 239.8,328.7 237.2,327.8C234.6,326.9 232.38,324.85 231.1,322.9C229.82,320.95 229.4,318.15 229.5,316.1C229.6,314.05 229.97,311.97 231.7,310.6Z" fill="#e8b23e"/>
</g>
<g clip-path="url(#c9c)"><path d="M294.3,274.1C294.63,273.38 295.23,273 296.1,272.7C296.97,272.4 298.35,272.25 299.5,272.3C300.65,272.35 301.93,272.6 303,273C304.07,273.4 304.75,274.27 305.9,274.7C307.05,275.13 308.65,275.22 309.9,275.6C311.15,275.98 312.43,276.28 313.4,277C314.37,277.72 315.13,278.83 315.7,279.9C316.27,280.97 316.7,282.35 316.8,283.4C316.9,284.45 316.87,285.48 316.3,286.2C315.73,286.92 314.57,287.5 313.4,287.7C312.23,287.9 310.65,287.5 309.3,287.4C307.95,287.3 306.63,287.2 305.3,287.1C303.97,287 302.35,287.03 301.3,286.8C300.25,286.57 299.48,286.15 299,285.7C298.52,285.25 298.28,284.5 298.4,284.1C298.52,283.7 299.13,283.45 299.7,283.3C300.27,283.15 301.13,283.33 301.8,283.2C302.47,283.07 303.37,282.83 303.7,282.5C304.03,282.17 304.12,281.53 303.8,281.2C303.48,280.87 302.52,280.6 301.8,280.5C301.08,280.4 300.12,280.38 299.5,280.6C298.88,280.82 298.53,281.43 298.1,281.8C297.67,282.17 297.3,282.72 296.9,282.8C296.5,282.88 296.03,282.78 295.7,282.3C295.37,281.82 295.17,280.78 294.9,279.9C294.63,279.02 294.2,277.97 294.1,277C294,276.03 293.97,274.82 294.3,274.1Z" fill="#f6d8c0"/><rect x="298.94" y="287.86" width="1" height="1" fill="#d8502a"/><rect x="298.13" y="272.24" width="1" height="1" fill="#d8502a"/><rect x="299.44" y="288.49" width="1" height="1" fill="#d8502a"/><rect x="303.12" y="272.01" width="1" height="1" fill="#e07a30"/><rect x="304.38" y="279.91" width="1" height="1" fill="#d8502a"/><rect x="315.04" y="278.35" width="1" height="1" fill="#e07a30"/><rect x="299.12" y="271.84" width="1" height="1" fill="#b83020"/><rect x="305.98" y="279.56" width="1" height="1" fill="#e07a30"/><rect x="310.92" y="282.77" width="1" height="1" fill="#c83a22"/><rect x="317.3" y="272.57" width="1" height="1" fill="#e89a3a"/><rect x="313.41" y="273.33" width="1" height="1" fill="#c83a22"/><rect x="301.62" y="283.25" width="1" height="1" fill="#e07a30"/><rect x="315.18" y="280.29" width="1" height="1" fill="#d8502a"/><rect x="307.46" y="273.92" width="1" height="1" fill="#c83a22"/><rect x="306.45" y="272.14" width="1" height="1" fill="#cc4426"/><rect x="298.15" y="287.58" width="1" height="1" fill="#e89a3a"/><rect x="304.45" y="281.43" width="1" height="1" fill="#e07a30"/><rect x="300.36" y="277.56" width="1" height="1" fill="#e07a30"/><rect x="296.74" y="284.49" width="1" height="1" fill="#c83a22"/><rect x="306.26" y="276.83" width="1" height="1" fill="#b83020"/><rect x="316.3" y="285.84" width="1" height="1" fill="#e89a3a"/><rect x="308.48" y="276.75" width="1" height="1" fill="#b83020"/><rect x="306.19" y="280.17" width="1" height="1" fill="#c83a22"/><rect x="312.89" y="286.06" width="1" height="1" fill="#cc4426"/><rect x="306.58" y="277.35" width="1" height="1" fill="#c83a22"/><rect x="300.6" y="275.24" width="1" height="1" fill="#c83a22"/><rect x="303.66" y="277.91" width="1" height="1" fill="#cc4426"/><rect x="314.9" y="274.48" width="1" height="1" fill="#e07a30"/><rect x="296.29" y="287.35" width="1" height="1" fill="#c83a22"/><rect x="298.34" y="284.53" width="1" height="1" fill="#b83020"/><rect x="296.3" y="285.04" width="1" height="1" fill="#e07a30"/><rect x="301.7" y="274.39" width="1" height="1" fill="#e07a30"/><rect x="315.22" y="273.86" width="1" height="1" fill="#e89a3a"/><rect x="304.21" y="278.61" width="1" height="1" fill="#e89a3a"/><rect x="295.18" y="283.69" width="1" height="1" fill="#c83a22"/><rect x="295.55" y="273.31" width="1" height="1" fill="#e89a3a"/><rect x="306.15" y="274.11" width="1" height="1" fill="#e89a3a"/><rect x="305.22" y="274.03" width="1" height="1" fill="#e89a3a"/><rect x="295.01" y="271.79" width="1" height="1" fill="#d8502a"/><rect x="301.68" y="282.69" width="1" height="1" fill="#c83a22"/><rect x="311.35" y="277.47" width="1" height="1" fill="#b83020"/><rect x="293.57" y="285.71" width="1" height="1" fill="#d8502a"/><rect x="294.96" y="281.99" width="1" height="1" fill="#e89a3a"/><rect x="297.63" y="277.24" width="1" height="1" fill="#e07a30"/><rect x="304.1" y="272.92" width="1" height="1" fill="#e89a3a"/><rect x="298.88" y="285.29" width="1" height="1" fill="#d8502a"/><rect x="302.65" y="273.34" width="1" height="1" fill="#cc4426"/><rect x="304.36" y="273.65" width="1" height="1" fill="#e07a30"/><rect x="305.85" y="273.04" width="1" height="1" fill="#e07a30"/><rect x="307.03" y="285.38" width="1" height="1" fill="#e07a30"/><rect x="298.91" y="274.86" width="1" height="1" fill="#e07a30"/><rect x="296.17" y="275.09" width="1" height="1" fill="#c83a22"/><rect x="310.5" y="281.9" width="1" height="1" fill="#c83a22"/><rect x="309.23" y="285.6" width="1" height="1" fill="#e89a3a"/><rect x="295.74" y="287.95" width="1" height="1" fill="#e89a3a"/><rect x="305.56" y="283.49" width="1" height="1" fill="#d8502a"/><rect x="305.54" y="277.01" width="1" height="1" fill="#e07a30"/><rect x="311.35" y="282.5" width="1" height="1" fill="#c83a22"/><rect x="300.45" y="276.54" width="1" height="1" fill="#c83a22"/><rect x="311.34" y="287.27" width="1" height="1" fill="#e07a30"/><rect x="298.87" y="276.54" width="1" height="1" fill="#e89a3a"/><rect x="303.57" y="284.15" width="1" height="1" fill="#cc4426"/><rect x="313.91" y="280.28" width="1" height="1" fill="#cc4426"/><rect x="313.45" y="277.57" width="1" height="1" fill="#b83020"/><rect x="309.13" y="273.36" width="1" height="1" fill="#e07a30"/><rect x="302.38" y="287.8" width="1" height="1" fill="#b83020"/><rect x="298.43" y="278.25" width="1" height="1" fill="#e07a30"/><rect x="313.72" y="283.13" width="1" height="1" fill="#cc4426"/><rect x="310.97" y="285.46" width="1" height="1" fill="#e89a3a"/><rect x="307.54" y="282.94" width="1" height="1" fill="#d8502a"/><rect x="305.26" y="280.49" width="1" height="1" fill="#c83a22"/><rect x="299.95" y="272.67" width="1" height="1" fill="#cc4426"/><rect x="314.29" y="288.31" width="1" height="1" fill="#c83a22"/><rect x="308.49" y="285.52" width="1" height="1" fill="#b83020"/><rect x="300.08" y="285.53" width="1" height="1" fill="#b83020"/><rect x="300.16" y="286.6" width="1" height="1" fill="#e07a30"/><rect x="299.37" y="275.68" width="1" height="1" fill="#d8502a"/><rect x="312.46" y="284.21" width="1" height="1" fill="#d8502a"/><rect x="299.12" y="285.29" width="1" height="1" fill="#e89a3a"/><rect x="313.41" y="277.75" width="1" height="1" fill="#c83a22"/><rect x="312.54" y="278.09" width="1" height="1" fill="#cc4426"/><rect x="297.6" y="281.13" width="1" height="1" fill="#e07a30"/><rect x="315.59" y="284.87" width="1" height="1" fill="#d8502a"/><rect x="294.03" y="274.75" width="1" height="1" fill="#b83020"/><rect x="295.59" y="279.37" width="1" height="1" fill="#cc4426"/><rect x="315.23" y="287.23" width="1" height="1" fill="#c83a22"/><rect x="296.53" y="277.58" width="1" height="1" fill="#cc4426"/><rect x="295.08" y="284.94" width="1" height="1" fill="#c83a22"/><rect x="314.12" y="282.61" width="1" height="1" fill="#b83020"/><rect x="317.38" y="272.77" width="1" height="1" fill="#d8502a"/><rect x="310.89" y="281.7" width="1" height="1" fill="#b83020"/><rect x="298.84" y="284.15" width="1" height="1" fill="#b83020"/><rect x="295.09" y="286.8" width="1" height="1" fill="#cc4426"/><rect x="308.13" y="278.89" width="1" height="1" fill="#d8502a"/><rect x="299.62" y="278.12" width="1" height="1" fill="#e07a30"/><rect x="310.97" y="272.61" width="1" height="1" fill="#e89a3a"/><rect x="298.84" y="276.48" width="1" height="1" fill="#d8502a"/><rect x="301.59" y="274.88" width="1" height="1" fill="#c83a22"/><rect x="294.87" y="284.87" width="1" height="1" fill="#d8502a"/><rect x="313.3" y="281.01" width="1" height="1" fill="#b83020"/><rect x="300.59" y="275.62" width="1" height="1" fill="#e89a3a"/><rect x="304.99" y="281.07" width="1" height="1" fill="#c83a22"/><rect x="317.44" y="287.33" width="1" height="1" fill="#d8502a"/><rect x="298.91" y="275.21" width="1" height="1" fill="#d8502a"/><rect x="297.56" y="284.45" width="1" height="1" fill="#c83a22"/><rect x="310.18" y="279.12" width="1" height="1" fill="#cc4426"/><rect x="308.23" y="278.55" width="1" height="1" fill="#e07a30"/><rect x="307.38" y="286.74" width="1" height="1" fill="#b83020"/><rect x="310.11" y="288.22" width="1" height="1" fill="#e07a30"/><rect x="314.35" y="283.99" width="1" height="1" fill="#e89a3a"/><rect x="298" y="276.02" width="1" height="1" fill="#e07a30"/><rect x="313.49" y="285.76" width="1" height="1" fill="#b83020"/><rect x="305.5" y="288.02" width="1" height="1" fill="#e89a3a"/><rect x="312.43" y="280.2" width="1" height="1" fill="#d8502a"/><rect x="307.14" y="278.14" width="1" height="1" fill="#d8502a"/><rect x="313.3" y="282.51" width="1" height="1" fill="#c83a22"/><rect x="300.49" y="272.04" width="1" height="1" fill="#b83020"/><rect x="305.66" y="276.53" width="1" height="1" fill="#e07a30"/><rect x="310.27" y="282.06" width="1" height="1" fill="#d8502a"/><rect x="313.43" y="271.75" width="1" height="1" fill="#d8502a"/><rect x="304.27" y="287.61" width="1" height="1" fill="#e07a30"/><rect x="307.04" y="281.34" width="1" height="1" fill="#c83a22"/><rect x="302.45" y="280.04" width="1" height="1" fill="#e89a3a"/><rect x="310.68" y="277.77" width="1" height="1" fill="#b83020"/><rect x="296.05" y="276.94" width="1" height="1" fill="#c83a22"/><rect x="304.94" y="274.39" width="1" height="1" fill="#d8502a"/><rect x="304.94" y="281.3" width="1" height="1" fill="#b83020"/><rect x="311.58" y="278.8" width="1" height="1" fill="#cc4426"/><rect x="308.59" y="272.16" width="1" height="1" fill="#d8502a"/><rect x="315.79" y="282.77" width="1" height="1" fill="#cc4426"/><rect x="301.02" y="272.05" width="1" height="1" fill="#d8502a"/><rect x="305.74" y="279.72" width="1" height="1" fill="#e07a30"/><rect x="306.98" y="276.63" width="1" height="1" fill="#cc4426"/><rect x="299.9" y="271.89" width="1" height="1" fill="#e07a30"/><rect x="311.29" y="281.43" width="1" height="1" fill="#b83020"/><rect x="304.4" y="276.54" width="1" height="1" fill="#e07a30"/><rect x="314.14" y="279.1" width="1" height="1" fill="#cc4426"/><rect x="295.64" y="286.77" width="1" height="1" fill="#e07a30"/><rect x="301.68" y="281.33" width="1" height="1" fill="#cc4426"/><rect x="296.1" y="283.7" width="1" height="1" fill="#cc4426"/><rect x="304.45" y="279.49" width="1" height="1" fill="#e07a30"/><rect x="298.38" y="280.4" width="1" height="1" fill="#e89a3a"/><rect x="297.67" y="273.98" width="1" height="1" fill="#c83a22"/><rect x="295.62" y="284.98" width="1" height="1" fill="#b83020"/><rect x="298.72" y="282.31" width="1" height="1" fill="#b83020"/><rect x="316.25" y="285.09" width="1" height="1" fill="#c83a22"/><rect x="293.83" y="279.03" width="1" height="1" fill="#d8502a"/><rect x="301.09" y="271.97" width="1" height="1" fill="#c83a22"/><rect x="311.17" y="284.04" width="1" height="1" fill="#e89a3a"/><rect x="300.76" y="276.78" width="1" height="1" fill="#c83a22"/><rect x="313" y="277.09" width="1" height="1" fill="#c83a22"/><rect x="303.45" y="286.99" width="1" height="1" fill="#c83a22"/><rect x="314.37" y="283.09" width="1" height="1" fill="#e89a3a"/><rect x="305.76" y="279.69" width="1" height="1" fill="#cc4426"/><rect x="313.16" y="278.67" width="1" height="1" fill="#c83a22"/><rect x="303.7" y="274.01" width="1" height="1" fill="#d8502a"/><rect x="309.29" y="284.73" width="1" height="1" fill="#cc4426"/><rect x="310.42" y="287.42" width="1" height="1" fill="#e07a30"/><rect x="309.26" y="275.8" width="1" height="1" fill="#cc4426"/><rect x="309.43" y="288.34" width="1" height="1" fill="#b83020"/><rect x="295.04" y="279.8" width="1" height="1" fill="#cc4426"/><rect x="297.37" y="272.44" width="1" height="1" fill="#cc4426"/><rect x="300.92" y="276.73" width="1" height="1" fill="#b83020"/><rect x="307.97" y="278.4" width="1" height="1" fill="#d8502a"/><rect x="310.38" y="283.31" width="1" height="1" fill="#d8502a"/><rect x="298.04" y="285.22" width="1" height="1" fill="#cc4426"/><rect x="317.28" y="287.42" width="1" height="1" fill="#e07a30"/><rect x="297.24" y="285.52" width="1" height="1" fill="#d8502a"/><rect x="309.18" y="272.9" width="1" height="1" fill="#b83020"/><rect x="314.93" y="285.52" width="1" height="1" fill="#e89a3a"/><rect x="309.91" y="286.95" width="1" height="1" fill="#e89a3a"/><rect x="316.8" y="282" width="1" height="1" fill="#e89a3a"/><rect x="297.48" y="273.15" width="1" height="1" fill="#e89a3a"/><rect x="312.62" y="281.88" width="1" height="1" fill="#d8502a"/><rect x="306.83" y="287.51" width="1" height="1" fill="#e07a30"/><rect x="310.84" y="281.66" width="1" height="1" fill="#d8502a"/><rect x="301.61" y="273.68" width="1" height="1" fill="#b83020"/><rect x="295.23" y="277" width="1" height="1" fill="#e89a3a"/><rect x="296.88" y="275.52" width="1" height="1" fill="#e89a3a"/><rect x="303.05" y="271.86" width="1" height="1" fill="#b83020"/><rect x="303.08" y="284.57" width="1" height="1" fill="#c83a22"/><rect x="296.33" y="283.02" width="1" height="1" fill="#cc4426"/><rect x="314.09" y="278.49" width="1" height="1" fill="#c83a22"/><rect x="305.2" y="280.82" width="1" height="1" fill="#d8502a"/><rect x="293.89" y="271.76" width="1" height="1" fill="#cc4426"/><rect x="308.07" y="280.01" width="1" height="1" fill="#b83020"/><rect x="310.43" y="286.4" width="1" height="1" fill="#c83a22"/><rect x="308.17" y="273.44" width="1" height="1" fill="#e07a30"/><rect x="300.12" y="280.81" width="1" height="1" fill="#d8502a"/><rect x="299.46" y="287.16" width="1" height="1" fill="#c83a22"/><rect x="301.55" y="278.04" width="1" height="1" fill="#b83020"/><rect x="315.69" y="281.79" width="1" height="1" fill="#e07a30"/><rect x="311.18" y="276.17" width="1" height="1" fill="#c83a22"/><rect x="304.96" y="279.45" width="1" height="1" fill="#d8502a"/><rect x="314.61" y="280.7" width="1" height="1" fill="#cc4426"/><rect x="312.3" y="272.48" width="1" height="1" fill="#e89a3a"/><rect x="309.1" y="287.48" width="1" height="1" fill="#e89a3a"/><rect x="304.88" y="285.15" width="1" height="1" fill="#d8502a"/><rect x="317.1" y="281.25" width="1" height="1" fill="#e89a3a"/><rect x="305.75" y="283.35" width="1" height="1" fill="#b83020"/><rect x="311.17" y="281.13" width="1" height="1" fill="#e07a30"/><rect x="308.48" y="279.09" width="1" height="1" fill="#d8502a"/><rect x="300.65" y="284.22" width="1" height="1" fill="#b83020"/><rect x="301.97" y="272.45" width="1" height="1" fill="#e07a30"/><rect x="308.06" y="276.18" width="1" height="1" fill="#d8502a"/><rect x="306.75" y="283.64" width="1" height="1" fill="#cc4426"/><rect x="304.82" y="276.35" width="1" height="1" fill="#d8502a"/><rect x="304.95" y="272.62" width="1" height="1" fill="#c83a22"/><rect x="308.6" y="276.47" width="1" height="1" fill="#d8502a"/><rect x="302.98" y="280.8" width="1" height="1" fill="#d8502a"/><rect x="297.92" y="279.75" width="1" height="1" fill="#e89a3a"/><rect x="299.2" y="274.78" width="1" height="1" fill="#d8502a"/><rect x="311.93" y="272" width="1" height="1" fill="#b83020"/><rect x="300.82" y="280.46" width="1" height="1" fill="#e07a30"/><rect x="307.24" y="281.42" width="1" height="1" fill="#e07a30"/><rect x="310.98" y="275.83" width="1" height="1" fill="#c83a22"/><rect x="296.03" y="286.32" width="1" height="1" fill="#e07a30"/><rect x="307.12" y="273.21" width="1" height="1" fill="#d8502a"/><rect x="294.17" y="273.64" width="1" height="1" fill="#e07a30"/><rect x="315.05" y="282.89" width="1" height="1" fill="#cc4426"/><rect x="303.68" y="273.38" width="1" height="1" fill="#e07a30"/><rect x="304.78" y="283" width="1" height="1" fill="#e07a30"/><rect x="313.49" y="284.71" width="1" height="1" fill="#cc4426"/><rect x="297.87" y="279.05" width="1" height="1" fill="#b83020"/><rect x="308.06" y="285.75" width="1" height="1" fill="#d8502a"/><rect x="298.58" y="280.37" width="1" height="1" fill="#b83020"/><rect x="317.14" y="277.71" width="1" height="1" fill="#d8502a"/><rect x="305.62" y="281.05" width="1" height="1" fill="#e07a30"/><rect x="316.1" y="276.6" width="1" height="1" fill="#d8502a"/><rect x="302.54" y="271.72" width="1" height="1" fill="#c83a22"/><rect x="315.14" y="275.26" width="1" height="1" fill="#d8502a"/><rect x="308.96" y="279.9" width="1" height="1" fill="#e89a3a"/><rect x="302.79" y="278.98" width="1" height="1" fill="#b83020"/><rect x="316.48" y="278.04" width="1" height="1" fill="#e07a30"/><rect x="303.95" y="279.73" width="1" height="1" fill="#d8502a"/><rect x="300.93" y="288.15" width="1" height="1" fill="#e89a3a"/><rect x="309.77" y="271.85" width="1" height="1" fill="#e89a3a"/><rect x="302.19" y="283.46" width="1" height="1" fill="#c83a22"/><rect x="310.9" y="288.44" width="1" height="1" fill="#cc4426"/><rect x="302.38" y="282.56" width="1" height="1" fill="#d8502a"/><rect x="308.46" y="280.77" width="1" height="1" fill="#c83a22"/><rect x="305.59" y="272.39" width="1" height="1" fill="#c83a22"/><rect x="301.15" y="275.75" width="1" height="1" fill="#b83020"/><rect x="313.77" y="277.53" width="1" height="1" fill="#e89a3a"/><rect x="309.4" y="277.6" width="1" height="1" fill="#c83a22"/><rect x="299.29" y="286.31" width="1" height="1" fill="#cc4426"/><rect x="315.52" y="280.15" width="1" height="1" fill="#b83020"/><rect x="295.85" y="287.15" width="1" height="1" fill="#c83a22"/><rect x="298.1" y="273.42" width="1" height="1" fill="#e07a30"/><rect x="301.09" y="280" width="1" height="1" fill="#d8502a"/><rect x="316.95" y="287.37" width="1" height="1" fill="#b83020"/><rect x="305.8" y="284.47" width="1" height="1" fill="#d8502a"/><rect x="314.11" y="276.96" width="1" height="1" fill="#cc4426"/><rect x="308.57" y="276.67" width="1" height="1" fill="#c83a22"/><rect x="310.16" y="283.92" width="1" height="1" fill="#c83a22"/><rect x="306.17" y="282.1" width="1" height="1" fill="#b83020"/><rect x="306.78" y="276.62" width="1" height="1" fill="#e89a3a"/><rect x="307.92" y="271.96" width="1" height="1" fill="#cc4426"/><rect x="294.52" y="280.32" width="1" height="1" fill="#e89a3a"/><rect x="296.65" y="276.15" width="1" height="1" fill="#cc4426"/><rect x="316.63" y="275.93" width="1" height="1" fill="#cc4426"/><rect x="300.75" y="286.65" width="1" height="1" fill="#d8502a"/><rect x="302.23" y="279.06" width="1" height="1" fill="#e89a3a"/><rect x="310.16" y="284.37" width="1" height="1" fill="#cc4426"/><rect x="308.55" y="280.78" width="1" height="1" fill="#c83a22"/><rect x="306.26" y="287.79" width="1" height="1" fill="#cc4426"/><rect x="293.53" y="276.39" width="1" height="1" fill="#e89a3a"/><rect x="296.31" y="271.76" width="1" height="1" fill="#e89a3a"/><rect x="304.71" y="278.33" width="1" height="1" fill="#cc4426"/><rect x="314.61" y="281.38" width="1" height="1" fill="#d8502a"/><rect x="313.89" y="283.27" width="1" height="1" fill="#d8502a"/><rect x="312.84" y="281" width="1" height="1" fill="#b83020"/><rect x="313.6" y="281" width="1" height="1" fill="#cc4426"/><rect x="298.79" y="277.9" width="1" height="1" fill="#e89a3a"/><rect x="316" y="279.82" width="1" height="1" fill="#b83020"/><rect x="303.23" y="287.52" width="1" height="1" fill="#e89a3a"/><rect x="307.48" y="286.25" width="1" height="1" fill="#e07a30"/><rect x="313.66" y="284.86" width="1" height="1" fill="#e07a30"/><rect x="306.22" y="278.73" width="1" height="1" fill="#e07a30"/><rect x="306.6" y="281.74" width="1" height="1" fill="#c83a22"/><rect x="316.4" y="285.61" width="1" height="1" fill="#cc4426"/><rect x="298.26" y="275.48" width="1" height="1" fill="#d8502a"/><rect x="302.83" y="276.89" width="1" height="1" fill="#b83020"/><rect x="306.7" y="285.11" width="1" height="1" fill="#c83a22"/><rect x="314.18" y="275.52" width="1" height="1" fill="#e07a30"/><rect x="306.37" y="285.86" width="1" height="1" fill="#b83020"/><rect x="294.96" y="282.09" width="1" height="1" fill="#e89a3a"/><rect x="315.37" y="277.6" width="1" height="1" fill="#d8502a"/><rect x="314.4" y="274.22" width="1" height="1" fill="#d8502a"/><rect x="298.07" y="272.53" width="1" height="1" fill="#cc4426"/><rect x="309.11" y="281.2" width="1" height="1" fill="#d8502a"/><rect x="307.05" y="286.53" width="1" height="1" fill="#d8502a"/><rect x="309.41" y="276.5" width="1" height="1" fill="#d8502a"/><rect x="310.03" y="272.84" width="1" height="1" fill="#c83a22"/><rect x="308.14" y="280.21" width="1" height="1" fill="#b83020"/><rect x="312.13" y="282.57" width="1" height="1" fill="#cc4426"/><rect x="307.43" y="285.61" width="1" height="1" fill="#cc4426"/><rect x="310.58" y="282.4" width="1" height="1" fill="#b83020"/><rect x="300.36" y="283.92" width="1" height="1" fill="#d8502a"/><rect x="312.37" y="283.17" width="1" height="1" fill="#e89a3a"/></g>
<rect x="189" y="200.6" width="140.5" height="133.1" fill="none" stroke="#4a4a4a" stroke-width="1.45"/>
<rect x="192" y="208.8" width="8.8" height="42.4" fill="url(#cb)"/>
<line x1="192" y1="221.9" x2="194" y2="221.9" stroke="#fff" stroke-width="0.6"/><line x1="198.8" y1="221.9" x2="200.8" y2="221.9" stroke="#fff" stroke-width="0.6"/>
<line x1="192" y1="234.2" x2="194" y2="234.2" stroke="#fff" stroke-width="0.6"/><line x1="198.8" y1="234.2" x2="200.8" y2="234.2" stroke="#fff" stroke-width="0.6"/>
<line x1="192" y1="246.5" x2="194" y2="246.5" stroke="#fff" stroke-width="0.6"/><line x1="198.8" y1="246.5" x2="200.8" y2="246.5" stroke="#fff" stroke-width="0.6"/>
<text x="192" y="207.3" font-size="7" textLength="28.8" lengthAdjust="spacingAndGlyphs" font-family="Liberation Sans, sans-serif" fill="#262626" stroke="#262626" stroke-width="0.26">Cell cycle</text>
<text x="203.8" y="224.4" font-size="7" font-family="Liberation Sans, sans-serif" fill="#262626" stroke="#262626" stroke-width="0.26">0.8</text>
<text x="203.8" y="236.7" font-size="7" font-family="Liberation Sans, sans-serif" fill="#262626" stroke="#262626" stroke-width="0.26">0.6</text>
<text x="203.8" y="249" font-size="7" font-family="Liberation Sans, sans-serif" fill="#262626" stroke="#262626" stroke-width="0.26">0.4</text>
<line x1="185.5" y1="305.6" x2="189" y2="305.6" stroke="#333" stroke-width="0.9"/>
<text x="183.6" y="308.2" font-size="7.2" text-anchor="end" font-family="Liberation Sans, sans-serif" fill="#262626" stroke="#262626" stroke-width="0.26">−20</text>
<line x1="218.1" y1="333.7" x2="218.1" y2="337" stroke="#333" stroke-width="0.9"/>
<text x="218.1" y="345.8" font-size="7.2" text-anchor="middle" font-family="Liberation Sans, sans-serif" fill="#262626" stroke="#262626" stroke-width="0.26">−20</text>
<line x1="185.5" y1="270.6" x2="189" y2="270.6" stroke="#333" stroke-width="0.9"/>
<text x="183.6" y="273.2" font-size="7.2" text-anchor="end" font-family="Liberation Sans, sans-serif" fill="#262626" stroke="#262626" stroke-width="0.26">0</text>
<line x1="257.9" y1="333.7" x2="257.9" y2="337" stroke="#333" stroke-width="0.9"/>
<text x="257.9" y="345.8" font-size="7.2" text-anchor="middle" font-family="Liberation Sans, sans-serif" fill="#262626" stroke="#262626" stroke-width="0.26">0</text>
<line x1="185.5" y1="235.6" x2="189" y2="235.6" stroke="#333" stroke-width="0.9"/>
<text x="183.6" y="238.2" font-size="7.2" text-anchor="end" font-family="Liberation Sans, sans-serif" fill="#262626" stroke="#262626" stroke-width="0.26">20</text>
<line x1="297.7" y1="333.7" x2="297.7" y2="337" stroke="#333" stroke-width="0.9"/>
<text x="297.7" y="345.8" font-size="7.2" text-anchor="middle" font-family="Liberation Sans, sans-serif" fill="#262626" stroke="#262626" stroke-width="0.26">20</text>
<text x="0" y="0" font-size="8.9" text-anchor="middle" textLength="27.2" lengthAdjust="spacingAndGlyphs" font-family="Liberation Sans, sans-serif" fill="#262626" stroke="#262626" stroke-width="0.26" transform="translate(164.5,267.4) rotate(-90)">TSNE 2</text>
<text x="245.8" y="359.6" font-size="8.9" textLength="25.6" lengthAdjust="spacingAndGlyphs" font-family="Liberation Sans, sans-serif" fill="#262626" stroke="#262626" stroke-width="0.26">TSNE 1</text>
<text x="335.6" y="195.1" font-size="10.5" font-family="Liberation Sans, sans-serif" fill="#262626" stroke="#262626" stroke-width="0.26">D</text>
<rect x="368" y="205.2" width="5.6" height="4.6" fill="#f2c68f"/>
<text x="376.9" y="209.9" font-size="7" textLength="30.2" lengthAdjust="spacingAndGlyphs" font-family="Liberation Sans, sans-serif" fill="#262626" stroke="#262626" stroke-width="0.26">Lambda B</text>
<rect x="426.2" y="205.2" width="5.6" height="4.6" fill="#9b8878"/>
<text x="434.5" y="209.9" font-size="7" textLength="25.5" lengthAdjust="spacingAndGlyphs" font-family="Liberation Sans, sans-serif" fill="#262626" stroke="#262626" stroke-width="0.26">Kappa B</text>
<rect x="480" y="205.2" width="5.6" height="4.6" fill="#c0292e"/>
<text x="488.3" y="209.9" font-size="7" textLength="22.5" lengthAdjust="spacingAndGlyphs" font-family="Liberation Sans, sans-serif" fill="#262626" stroke="#262626" stroke-width="0.26">Cycling</text>
<rect x="391.2" y="241" width="5.6" height="90.5" fill="#f0eeee"/>
<rect x="415.2" y="241" width="5.6" height="90.5" fill="#f0eeee"/>
<rect x="439.2" y="241" width="5.6" height="90.5" fill="#f0eeee"/>
<rect x="463.2" y="241" width="5.6" height="90.5" fill="#f0eeee"/>
<rect x="487.2" y="241" width="5.6" height="90.5" fill="#f0eeee"/>
<rect x="368.3" y="214.7" width="144.7" height="118.8" fill="none" stroke="#333" stroke-width="1.4"/>
<line x1="364.5" y1="241.6" x2="368.3" y2="241.6" stroke="#333" stroke-width="0.9"/>
<text x="362.4" y="244.2" font-size="7.2" text-anchor="end" font-family="Liberation Sans, sans-serif" fill="#262626" stroke="#262626" stroke-width="0.26">100</text>
<line x1="364.5" y1="268.3" x2="368.3" y2="268.3" stroke="#333" stroke-width="0.9"/>
<text x="362.4" y="270.9" font-size="7.2" text-anchor="end" font-family="Liberation Sans, sans-serif" fill="#262626" stroke="#262626" stroke-width="0.26">10</text>
<line x1="364.5" y1="294.8" x2="368.3" y2="294.8" stroke="#333" stroke-width="0.9"/>
<text x="362.4" y="297.4" font-size="7.2" text-anchor="end" font-family="Liberation Sans, sans-serif" fill="#262626" stroke="#262626" stroke-width="0.26">1</text>
<line x1="364.5" y1="321.6" x2="368.3" y2="321.6" stroke="#333" stroke-width="0.9"/>
<text x="362.4" y="324.2" font-size="7.2" text-anchor="end" font-family="Liberation Sans, sans-serif" fill="#262626" stroke="#262626" stroke-width="0.26">0.1</text>
<text x="0" y="0" font-size="8.9" text-anchor="middle" textLength="27" lengthAdjust="spacingAndGlyphs" font-family="Liberation Sans, sans-serif" fill="#262626" stroke="#262626" stroke-width="0.26" transform="translate(343.8,274.4) rotate(-90)">% cells</text>
<line x1="376.3" y1="280.5" x2="388.3" y2="276.3" stroke="#f2c68f" stroke-width="0.9"/>
<circle cx="376.3" cy="280.5" r="1.5" fill="#f2c68f"/><circle cx="388.3" cy="276.3" r="1.5" fill="#f2c68f"/>
<line x1="376.3" y1="241.6" x2="388.3" y2="241.6" stroke="#9b8878" stroke-width="0.9"/>
<circle cx="376.3" cy="241.6" r="1.5" fill="#9b8878"/><circle cx="388.3" cy="241.6" r="1.5" fill="#9b8878"/>
<line x1="376.3" y1="294.8" x2="388.3" y2="271.5" stroke="#c0292e" stroke-width="0.9"/>
<circle cx="376.3" cy="294.8" r="1.5" fill="#c0292e"/><circle cx="388.3" cy="271.5" r="1.5" fill="#c0292e"/>
<line x1="382.3" y1="333.6" x2="382.3" y2="336.8" stroke="#333" stroke-width="0.9"/>
<text x="0" y="0" font-size="7.2" text-anchor="end" textLength="24.5" lengthAdjust="spacingAndGlyphs" font-family="Liberation Sans, sans-serif" fill="#262626" stroke="#262626" stroke-width="0.26" transform="translate(385.9,342.3) rotate(-45)">LPM021</text>
<line x1="400.3" y1="241.6" x2="412.3" y2="241.6" stroke="#f2c68f" stroke-width="0.9"/>
<circle cx="400.3" cy="241.6" r="1.5" fill="#f2c68f"/><circle cx="412.3" cy="241.6" r="1.5" fill="#f2c68f"/>
<line x1="400.3" y1="294.8" x2="412.3" y2="277.4" stroke="#9b8878" stroke-width="0.9"/>
<circle cx="400.3" cy="294.8" r="1.5" fill="#9b8878"/><circle cx="412.3" cy="277.4" r="1.5" fill="#9b8878"/>
<line x1="400.3" y1="300.3" x2="412.3" y2="293.2" stroke="#c0292e" stroke-width="0.9"/>
<circle cx="400.3" cy="300.3" r="1.5" fill="#c0292e"/><circle cx="412.3" cy="293.2" r="1.5" fill="#c0292e"/>
<line x1="406.3" y1="333.6" x2="406.3" y2="336.8" stroke="#333" stroke-width="0.9"/>
<text x="0" y="0" font-size="7.2" text-anchor="end" textLength="24.5" lengthAdjust="spacingAndGlyphs" font-family="Liberation Sans, sans-serif" fill="#262626" stroke="#262626" stroke-width="0.26" transform="translate(409.9,342.3) rotate(-45)">LPM020</text>
<line x1="424.4" y1="241.6" x2="436.4" y2="241.6" stroke="#f2c68f" stroke-width="0.9"/>
<circle cx="424.4" cy="241.6" r="1.5" fill="#f2c68f"/><circle cx="436.4" cy="241.6" r="1.5" fill="#f2c68f"/>
<line x1="424.4" y1="275.3" x2="436.4" y2="272.5" stroke="#9b8878" stroke-width="0.9"/>
<circle cx="424.4" cy="275.3" r="1.5" fill="#9b8878"/><circle cx="436.4" cy="272.5" r="1.5" fill="#9b8878"/>
<line x1="424.4" y1="282.6" x2="436.4" y2="269.4" stroke="#c0292e" stroke-width="0.9"/>
<circle cx="424.4" cy="282.6" r="1.5" fill="#c0292e"/><circle cx="436.4" cy="269.4" r="1.5" fill="#c0292e"/>
<line x1="430.4" y1="333.6" x2="430.4" y2="336.8" stroke="#333" stroke-width="0.9"/>
<text x="0" y="0" font-size="7.2" text-anchor="end" textLength="24.5" lengthAdjust="spacingAndGlyphs" font-family="Liberation Sans, sans-serif" fill="#262626" stroke="#262626" stroke-width="0.26" transform="translate(434,342.3) rotate(-45)">LPM018</text>
<line x1="448" y1="242.2" x2="460" y2="242.2" stroke="#f2c68f" stroke-width="0.9"/>
<circle cx="448" cy="242.2" r="1.5" fill="#f2c68f"/><circle cx="460" cy="242.2" r="1.5" fill="#f2c68f"/>
<line x1="448" y1="268.9" x2="460" y2="268.3" stroke="#9b8878" stroke-width="0.9"/>
<circle cx="448" cy="268.9" r="1.5" fill="#9b8878"/><circle cx="460" cy="268.3" r="1.5" fill="#9b8878"/>
<line x1="448" y1="284.1" x2="460" y2="282.6" stroke="#c0292e" stroke-width="0.9"/>
<circle cx="448" cy="284.1" r="1.5" fill="#c0292e"/><circle cx="460" cy="282.6" r="1.5" fill="#c0292e"/>
<line x1="454" y1="333.6" x2="454" y2="336.8" stroke="#333" stroke-width="0.9"/>
<text x="0" y="0" font-size="7.2" text-anchor="end" textLength="24.5" lengthAdjust="spacingAndGlyphs" font-family="Liberation Sans, sans-serif" fill="#262626" stroke="#262626" stroke-width="0.26" transform="translate(457.6,342.3) rotate(-45)">LPM011</text>
<line x1="471.8" y1="244.3" x2="483.8" y2="245.8" stroke="#f2c68f" stroke-width="0.9"/>
<circle cx="471.8" cy="244.3" r="1.5" fill="#f2c68f"/><circle cx="483.8" cy="245.8" r="1.5" fill="#f2c68f"/>
<line x1="471.8" y1="258.8" x2="483.8" y2="254.2" stroke="#9b8878" stroke-width="0.9"/>
<circle cx="471.8" cy="258.8" r="1.5" fill="#9b8878"/><circle cx="483.8" cy="254.2" r="1.5" fill="#9b8878"/>
<line x1="471.8" y1="266.8" x2="483.8" y2="265.4" stroke="#c0292e" stroke-width="0.9"/>
<circle cx="471.8" cy="266.8" r="1.5" fill="#c0292e"/><circle cx="483.8" cy="265.4" r="1.5" fill="#c0292e"/>
<line x1="477.8" y1="333.6" x2="477.8" y2="336.8" stroke="#333" stroke-width="0.9"/>
<text x="0" y="0" font-size="7.2" text-anchor="end" textLength="24.5" lengthAdjust="spacingAndGlyphs" font-family="Liberation Sans, sans-serif" fill="#262626" stroke="#262626" stroke-width="0.26" transform="translate(481.4,342.3) rotate(-45)">LPJ128</text>
<line x1="495.7" y1="312.5" x2="507.7" y2="307.3" stroke="#f2c68f" stroke-width="0.9"/>
<circle cx="495.7" cy="312.5" r="1.5" fill="#f2c68f"/><circle cx="507.7" cy="307.3" r="1.5" fill="#f2c68f"/>
<line x1="495.7" y1="241.4" x2="507.7" y2="241.4" stroke="#9b8878" stroke-width="0.9"/>
<circle cx="495.7" cy="241.4" r="1.5" fill="#9b8878"/><circle cx="507.7" cy="241.4" r="1.5" fill="#9b8878"/>
<line x1="495.7" y1="292.1" x2="507.7" y2="273.4" stroke="#c0292e" stroke-width="0.9"/>
<circle cx="495.7" cy="292.1" r="1.5" fill="#c0292e"/><circle cx="507.7" cy="273.4" r="1.5" fill="#c0292e"/>
<line x1="501.7" y1="333.6" x2="501.7" y2="336.8" stroke="#333" stroke-width="0.9"/>
<text x="0" y="0" font-size="7.2" text-anchor="end" textLength="24.5" lengthAdjust="spacingAndGlyphs" font-family="Liberation Sans, sans-serif" fill="#262626" stroke="#262626" stroke-width="0.26" transform="translate(505.3,342.3) rotate(-45)">LPJ119</text>
<text x="7" y="390" font-size="10.5" textLength="5.6" lengthAdjust="spacingAndGlyphs" font-family="Liberation Sans, sans-serif" fill="#262626" stroke="#262626" stroke-width="0.26">E</text>
<rect x="7" y="440.6" width="5.4" height="4.6" fill="#edcb9a"/><rect x="7" y="450" width="5.4" height="4.6" fill="#9b8c7c"/>
<text x="15.5" y="445.2" font-size="7.2" textLength="24.5" lengthAdjust="spacingAndGlyphs" font-family="Liberation Sans, sans-serif" fill="#262626" stroke="#262626" stroke-width="0.26">Lambda</text>
<text x="15.5" y="454.6" font-size="7.2" textLength="19.5" lengthAdjust="spacingAndGlyphs" font-family="Liberation Sans, sans-serif" fill="#262626" stroke="#262626" stroke-width="0.26">Kappa</text>
<text x="68.5" y="393" font-size="7.6" text-anchor="middle" font-family="Liberation Sans, sans-serif" fill="#262626" stroke="#262626" stroke-width="0.26">Quiescent</text>
<text x="68.5" y="402" font-size="7.6" text-anchor="middle" font-family="Liberation Sans, sans-serif" fill="#262626" stroke="#262626" stroke-width="0.26">tumor</text>
<text x="68.5" y="435.3" font-size="7.6" text-anchor="middle" font-family="Liberation Sans, sans-serif" fill="#262626" stroke="#262626" stroke-width="0.26">Cycling</text>
<text x="68.5" y="444.3" font-size="7.6" text-anchor="middle" font-family="Liberation Sans, sans-serif" fill="#262626" stroke="#262626" stroke-width="0.26">tumor</text>
<text x="68.5" y="481.3" font-size="7.6" text-anchor="middle" font-family="Liberation Sans, sans-serif" fill="#262626" stroke="#262626" stroke-width="0.26">Normal</text>
<circle cx="105.2" cy="395" r="15.1" fill="#9b8c7c"/>
<path d="M105.2,395L120.3,395A15.1,15.1 0 0 1 120.3,395.16Z" fill="#edcb9a"/>
<line x1="105.2" y1="395" x2="120.3" y2="395" stroke="#3a3a3a" stroke-width="0.8"/>
<line x1="105.2" y1="395" x2="120.3" y2="395.16" stroke="#3a3a3a" stroke-width="0.8"/>
<circle cx="105.2" cy="395" r="15.1" fill="none" stroke="#333" stroke-width="0.9"/>
<circle cx="105.2" cy="436.8" r="15.1" fill="#9b8c7c"/>
<path d="M105.2,436.8L120.3,436.8A15.1,15.1 0 0 1 120.3,436.96Z" fill="#edcb9a"/>
<line x1="105.2" y1="436.8" x2="120.3" y2="436.8" stroke="#3a3a3a" stroke-width="0.8"/>
<line x1="105.2" y1="436.8" x2="120.3" y2="436.96" stroke="#3a3a3a" stroke-width="0.8"/>
<circle cx="105.2" cy="436.8" r="15.1" fill="none" stroke="#333" stroke-width="0.9"/>
<circle cx="105.2" cy="478.6" r="15.1" fill="#9b8c7c"/>
<path d="M105.2,478.6L102.58,463.73A15.1,15.1 0 0 1 120.3,478.6Z" fill="#edcb9a"/>
<line x1="105.2" y1="478.6" x2="102.58" y2="463.73" stroke="#3a3a3a" stroke-width="0.8"/>
<line x1="105.2" y1="478.6" x2="120.3" y2="478.6" stroke="#3a3a3a" stroke-width="0.8"/>
<circle cx="105.2" cy="478.6" r="15.1" fill="none" stroke="#333" stroke-width="0.9"/>
<circle cx="150.4" cy="395" r="15.1" fill="#9b8c7c"/>
<path d="M150.4,395L165.5,395A15.1,15.1 0 0 1 165.5,395.16Z" fill="#edcb9a"/>
<line x1="150.4" y1="395" x2="165.5" y2="395" stroke="#3a3a3a" stroke-width="0.8"/>
<line x1="150.4" y1="395" x2="165.5" y2="395.16" stroke="#3a3a3a" stroke-width="0.8"/>
<circle cx="150.4" cy="395" r="15.1" fill="none" stroke="#333" stroke-width="0.9"/>
<circle cx="150.4" cy="436.8" r="15.1" fill="#9b8c7c"/>
<path d="M150.4,436.8L165.5,436.8A15.1,15.1 0 0 1 165.5,436.96Z" fill="#edcb9a"/>
<line x1="150.4" y1="436.8" x2="165.5" y2="436.8" stroke="#3a3a3a" stroke-width="0.8"/>
<line x1="150.4" y1="436.8" x2="165.5" y2="436.96" stroke="#3a3a3a" stroke-width="0.8"/>
<circle cx="150.4" cy="436.8" r="15.1" fill="none" stroke="#333" stroke-width="0.9"/>
<circle cx="150.4" cy="478.6" r="15.1" fill="#9b8c7c"/>
<path d="M150.4,478.6L148.04,463.69A15.1,15.1 0 0 1 165.5,478.6Z" fill="#edcb9a"/>
<line x1="150.4" y1="478.6" x2="148.04" y2="463.69" stroke="#3a3a3a" stroke-width="0.8"/>
<line x1="150.4" y1="478.6" x2="165.5" y2="478.6" stroke="#3a3a3a" stroke-width="0.8"/>
<circle cx="150.4" cy="478.6" r="15.1" fill="none" stroke="#333" stroke-width="0.9"/>
<circle cx="195.8" cy="395" r="15.1" fill="#edcb9a"/>
<path d="M195.8,395L210.9,395A15.1,15.1 0 0 1 208.17,403.66Z" fill="#9b8c7c"/>
<line x1="195.8" y1="395" x2="210.9" y2="395" stroke="#3a3a3a" stroke-width="0.8"/>
<line x1="195.8" y1="395" x2="208.17" y2="403.66" stroke="#3a3a3a" stroke-width="0.8"/>
<circle cx="195.8" cy="395" r="15.1" fill="none" stroke="#333" stroke-width="0.9"/>
<circle cx="195.8" cy="436.8" r="15.1" fill="#edcb9a"/>
<path d="M195.8,436.8L210.9,436.8A15.1,15.1 0 0 1 210.75,438.9Z" fill="#9b8c7c"/>
<line x1="195.8" y1="436.8" x2="210.9" y2="436.8" stroke="#3a3a3a" stroke-width="0.8"/>
<line x1="195.8" y1="436.8" x2="210.75" y2="438.9" stroke="#3a3a3a" stroke-width="0.8"/>
<circle cx="195.8" cy="436.8" r="15.1" fill="none" stroke="#333" stroke-width="0.9"/>
<circle cx="195.8" cy="478.6" r="15.1" fill="#9b8c7c"/>
<path d="M195.8,478.6L185.31,467.74A15.1,15.1 0 0 1 210.9,478.6Z" fill="#edcb9a"/>
<line x1="195.8" y1="478.6" x2="185.31" y2="467.74" stroke="#3a3a3a" stroke-width="0.8"/>
<line x1="195.8" y1="478.6" x2="210.9" y2="478.6" stroke="#3a3a3a" stroke-width="0.8"/>
<circle cx="195.8" cy="478.6" r="15.1" fill="none" stroke="#333" stroke-width="0.9"/>
<circle cx="241" cy="395" r="15.1" fill="#edcb9a"/>
<path d="M241,395L256.08,395.79A15.1,15.1 0 0 1 255.77,398.14Z" fill="#9b8c7c"/>
<line x1="241" y1="395" x2="256.08" y2="395.79" stroke="#3a3a3a" stroke-width="0.8"/>
<line x1="241" y1="395" x2="255.77" y2="398.14" stroke="#3a3a3a" stroke-width="0.8"/>
<circle cx="241" cy="395" r="15.1" fill="none" stroke="#333" stroke-width="0.9"/>
<circle cx="241" cy="436.8" r="15.1" fill="#edcb9a"/>
<path d="M241,436.8L256.08,437.59A15.1,15.1 0 0 1 255.44,441.21Z" fill="#9b8c7c"/>
<line x1="241" y1="436.8" x2="256.08" y2="437.59" stroke="#3a3a3a" stroke-width="0.8"/>
<line x1="241" y1="436.8" x2="255.44" y2="441.21" stroke="#3a3a3a" stroke-width="0.8"/>
<circle cx="241" cy="436.8" r="15.1" fill="none" stroke="#333" stroke-width="0.9"/>
<circle cx="241" cy="478.6" r="15.1" fill="#9b8c7c"/>
<path d="M241,478.6L230.9,467.38A15.1,15.1 0 0 1 256.1,478.6Z" fill="#edcb9a"/>
<line x1="241" y1="478.6" x2="230.9" y2="467.38" stroke="#3a3a3a" stroke-width="0.8"/>
<line x1="241" y1="478.6" x2="256.1" y2="478.6" stroke="#3a3a3a" stroke-width="0.8"/>
<circle cx="241" cy="478.6" r="15.1" fill="none" stroke="#333" stroke-width="0.9"/>
<circle cx="286.4" cy="395" r="15.1" fill="#edcb9a"/>
<path d="M286.4,395L301.5,395A15.1,15.1 0 0 1 301.5,395.16Z" fill="#9b8c7c"/>
<line x1="286.4" y1="395" x2="301.5" y2="395" stroke="#3a3a3a" stroke-width="0.8"/>
<line x1="286.4" y1="395" x2="301.5" y2="395.16" stroke="#3a3a3a" stroke-width="0.8"/>
<circle cx="286.4" cy="395" r="15.1" fill="none" stroke="#333" stroke-width="0.9"/>
<circle cx="286.4" cy="436.8" r="15.1" fill="#edcb9a"/>
<path d="M286.4,436.8L301.5,436.8A15.1,15.1 0 0 1 298.92,445.24Z" fill="#9b8c7c"/>
<line x1="286.4" y1="436.8" x2="301.5" y2="436.8" stroke="#3a3a3a" stroke-width="0.8"/>
<line x1="286.4" y1="436.8" x2="298.92" y2="445.24" stroke="#3a3a3a" stroke-width="0.8"/>
<circle cx="286.4" cy="436.8" r="15.1" fill="none" stroke="#333" stroke-width="0.9"/>
<circle cx="286.4" cy="478.6" r="15.1" fill="#9b8c7c"/>
<path d="M286.4,478.6L275,468.69A15.1,15.1 0 0 1 301.5,478.6Z" fill="#edcb9a"/>
<line x1="286.4" y1="478.6" x2="275" y2="468.69" stroke="#3a3a3a" stroke-width="0.8"/>
<line x1="286.4" y1="478.6" x2="301.5" y2="478.6" stroke="#3a3a3a" stroke-width="0.8"/>
<circle cx="286.4" cy="478.6" r="15.1" fill="none" stroke="#333" stroke-width="0.9"/>
<circle cx="331.6" cy="395" r="15.1" fill="#edcb9a"/>
<path d="M331.6,395L346.7,395A15.1,15.1 0 0 1 346.7,395.16Z" fill="#9b8c7c"/>
<line x1="331.6" y1="395" x2="346.7" y2="395" stroke="#3a3a3a" stroke-width="0.8"/>
<line x1="331.6" y1="395" x2="346.7" y2="395.16" stroke="#3a3a3a" stroke-width="0.8"/>
<circle cx="331.6" cy="395" r="15.1" fill="none" stroke="#333" stroke-width="0.9"/>
<circle cx="331.6" cy="436.8" r="15.1" fill="#edcb9a"/>
<path d="M331.6,436.8L346.7,436.8A15.1,15.1 0 0 1 346.7,436.96Z" fill="#9b8c7c"/>
<line x1="331.6" y1="436.8" x2="346.7" y2="436.8" stroke="#3a3a3a" stroke-width="0.8"/>
<line x1="331.6" y1="436.8" x2="346.7" y2="436.96" stroke="#3a3a3a" stroke-width="0.8"/>
<circle cx="331.6" cy="436.8" r="15.1" fill="none" stroke="#333" stroke-width="0.9"/>
<circle cx="331.6" cy="478.6" r="15.1" fill="#9b8c7c"/>
<path d="M331.6,478.6L319.38,469.72A15.1,15.1 0 0 1 346.7,478.6Z" fill="#edcb9a"/>
<line x1="331.6" y1="478.6" x2="319.38" y2="469.72" stroke="#3a3a3a" stroke-width="0.8"/>
<line x1="331.6" y1="478.6" x2="346.7" y2="478.6" stroke="#3a3a3a" stroke-width="0.8"/>
<circle cx="331.6" cy="478.6" r="15.1" fill="none" stroke="#333" stroke-width="0.9"/>
<circle cx="376.7" cy="395" r="15.1" fill="#9b8c7c"/>
<path d="M376.7,395L391.74,393.68A15.1,15.1 0 0 1 391.8,395Z" fill="#edcb9a"/>
<line x1="376.7" y1="395" x2="391.74" y2="393.68" stroke="#3a3a3a" stroke-width="0.8"/>
<line x1="376.7" y1="395" x2="391.8" y2="395" stroke="#3a3a3a" stroke-width="0.8"/>
<circle cx="376.7" cy="395" r="15.1" fill="none" stroke="#333" stroke-width="0.9"/>
<circle cx="376.7" cy="436.8" r="15.1" fill="#9b8c7c"/>
<path d="M376.7,436.8L391.8,436.8A15.1,15.1 0 0 1 391.8,436.96Z" fill="#edcb9a"/>
<line x1="376.7" y1="436.8" x2="391.8" y2="436.8" stroke="#3a3a3a" stroke-width="0.8"/>
<line x1="376.7" y1="436.8" x2="391.8" y2="436.96" stroke="#3a3a3a" stroke-width="0.8"/>
<circle cx="376.7" cy="436.8" r="15.1" fill="none" stroke="#333" stroke-width="0.9"/>
<circle cx="376.7" cy="478.6" r="15.1" fill="#9b8c7c"/>
<path d="M376.7,478.6L370.56,464.81A15.1,15.1 0 0 1 391.8,478.6Z" fill="#edcb9a"/>
<line x1="376.7" y1="478.6" x2="370.56" y2="464.81" stroke="#3a3a3a" stroke-width="0.8"/>
<line x1="376.7" y1="478.6" x2="391.8" y2="478.6" stroke="#3a3a3a" stroke-width="0.8"/>
<circle cx="376.7" cy="478.6" r="15.1" fill="none" stroke="#333" stroke-width="0.9"/>
<text x="105.2" y="503.6" font-size="7.4" text-anchor="middle" font-family="Liberation Sans, sans-serif" fill="#262626" stroke="#262626" stroke-width="0.26">LPJ119</text>
<text x="150.4" y="503.6" font-size="7.4" text-anchor="middle" font-family="Liberation Sans, sans-serif" fill="#262626" stroke="#262626" stroke-width="0.26">LPJ119 small</text>
<text x="195.8" y="503.6" font-size="7.4" text-anchor="middle" font-family="Liberation Sans, sans-serif" fill="#262626" stroke="#262626" stroke-width="0.26">LPJ128A</text>
<text x="241" y="503.6" font-size="7.4" text-anchor="middle" font-family="Liberation Sans, sans-serif" fill="#262626" stroke="#262626" stroke-width="0.26">LPM011</text>
<text x="286.4" y="503.6" font-size="7.4" text-anchor="middle" font-family="Liberation Sans, sans-serif" fill="#262626" stroke="#262626" stroke-width="0.26">LPM018A</text>
<text x="331.6" y="503.6" font-size="7.4" text-anchor="middle" font-family="Liberation Sans, sans-serif" fill="#262626" stroke="#262626" stroke-width="0.26">LPM020</text>
<text x="376.7" y="503.6" font-size="7.4" text-anchor="middle" font-family="Liberation Sans, sans-serif" fill="#262626" stroke="#262626" stroke-width="0.26">LPM021</text>
<text x="105.2" y="513" font-size="7.4" text-anchor="middle" font-family="Liberation Sans, sans-serif" fill="#262626" stroke="#262626" stroke-width="0.26">large</text>
<rect x="0" y="0" width="520" height="1.5" fill="#474747"/><rect x="0" y="0" width="1.6" height="522" fill="#474747"/><rect x="518.4" y="0" width="1.6" height="522" fill="#474747"/><rect x="0" y="520.8" width="520" height="1.2" fill="#1e1e1e"/>
</svg>
</body></html>
